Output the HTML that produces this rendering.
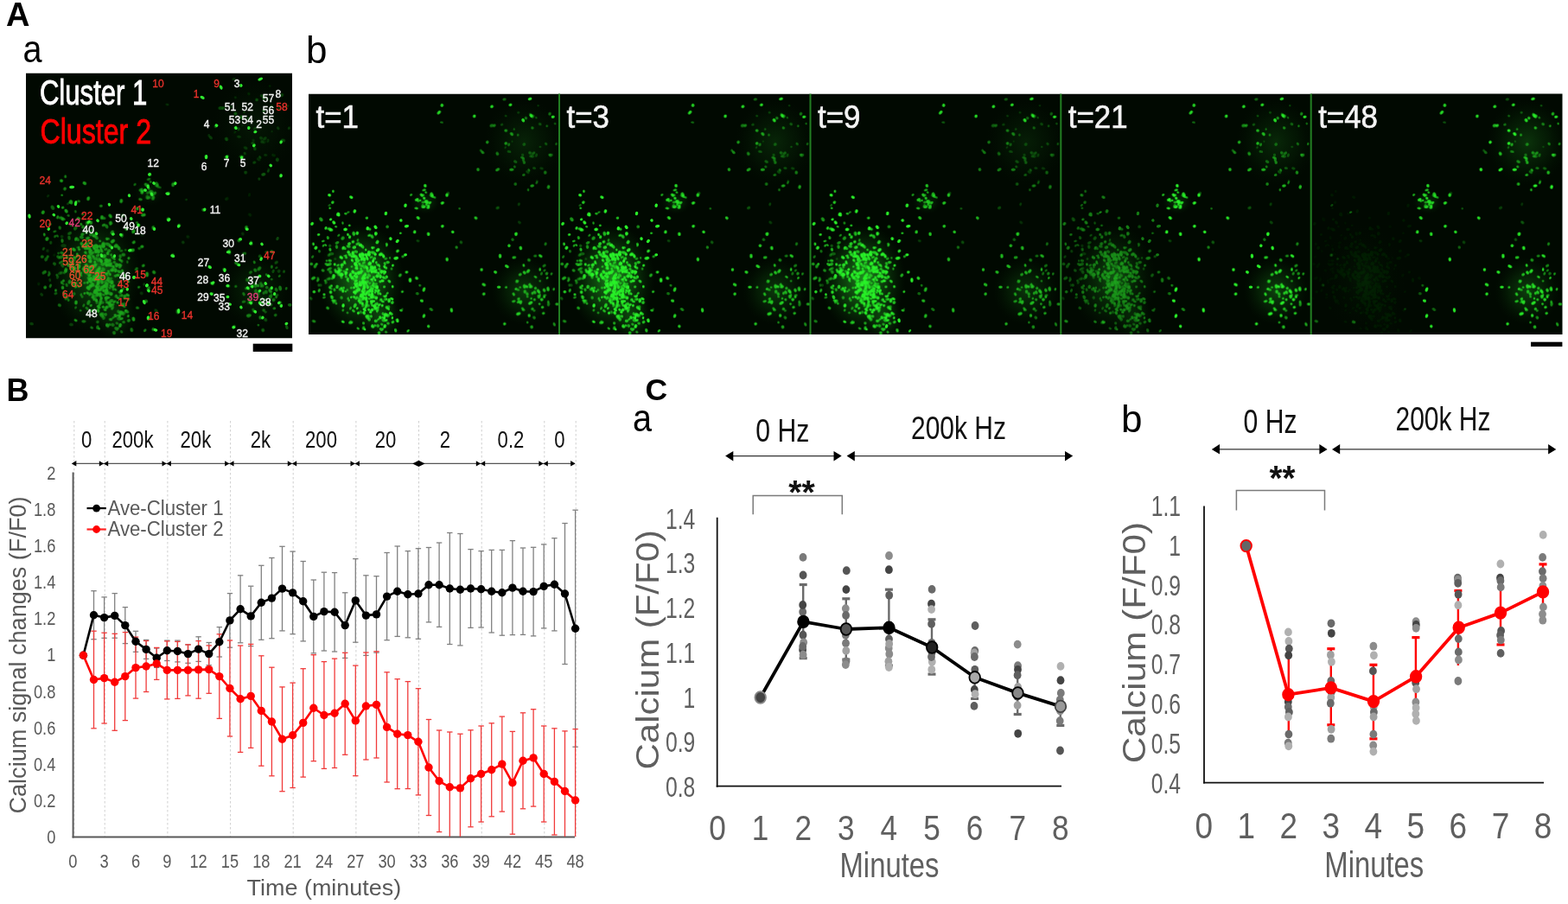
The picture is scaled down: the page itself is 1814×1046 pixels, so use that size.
<!DOCTYPE html>
<html><head><meta charset="utf-8"><title>Figure</title>
<style>html,body{margin:0;padding:0;background:#fff;} body{width:1814px;height:1046px;overflow:hidden;} svg{display:block;font-family:"Liberation Sans",Arial,sans-serif;}</style>
</head><body>
<svg width="1814" height="1046" viewBox="0 0 1814 1046">
<text x="7.0" y="30.0" font-size="38" fill="#000" font-weight="bold">A</text>
<text x="0" y="0" font-size="45" transform="translate(26.6,72.3) scale(0.88,1)">a</text>
<text x="354.0" y="73.3" font-size="44" fill="#000">b</text>
<text x="7.5" y="463.8" font-size="36" fill="#000" font-weight="bold">B</text>
<text x="746.5" y="463.4" font-size="35.5" fill="#000" font-weight="bold">C</text>
<text x="0" y="0" font-size="45" transform="translate(731.9,499.4) scale(0.88,1)">a</text>
<text x="1296.9" y="499.5" font-size="44" fill="#000">b</text>
<line x1="85.8" y1="487" x2="85.8" y2="968" stroke="#cfcfcf" stroke-width="1" stroke-dasharray="2.5,2.5"/>
<line x1="121.2" y1="487" x2="121.2" y2="968" stroke="#cfcfcf" stroke-width="1" stroke-dasharray="2.5,2.5"/>
<line x1="193.9" y1="487" x2="193.9" y2="968" stroke="#cfcfcf" stroke-width="1" stroke-dasharray="2.5,2.5"/>
<line x1="266.6" y1="487" x2="266.6" y2="968" stroke="#cfcfcf" stroke-width="1" stroke-dasharray="2.5,2.5"/>
<line x1="339.2" y1="487" x2="339.2" y2="968" stroke="#cfcfcf" stroke-width="1" stroke-dasharray="2.5,2.5"/>
<line x1="411.9" y1="487" x2="411.9" y2="968" stroke="#cfcfcf" stroke-width="1" stroke-dasharray="2.5,2.5"/>
<line x1="484.5" y1="487" x2="484.5" y2="968" stroke="#cfcfcf" stroke-width="1" stroke-dasharray="2.5,2.5"/>
<line x1="557.2" y1="487" x2="557.2" y2="968" stroke="#cfcfcf" stroke-width="1" stroke-dasharray="2.5,2.5"/>
<line x1="629.8" y1="487" x2="629.8" y2="968" stroke="#cfcfcf" stroke-width="1" stroke-dasharray="2.5,2.5"/>
<line x1="666.2" y1="487" x2="666.2" y2="968" stroke="#cfcfcf" stroke-width="1" stroke-dasharray="2.5,2.5"/>
<line x1="84.6" y1="546.5" x2="84.6" y2="969.5" stroke="#595959" stroke-width="2"/>
<line x1="83.6" y1="968.6" x2="665" y2="968.6" stroke="#595959" stroke-width="2"/>
<line x1="84" y1="536.4" x2="665" y2="536.4" stroke="#555" stroke-width="1.2"/>
<path d="M82.8,536.4 L88.3,533.1 L88.3,539.6 Z" fill="#000"/>
<path d="M665.6,536.4 L660.1,533.1 L660.1,539.6 Z" fill="#000"/>
<path d="M120.0,536.4 L114.8,533.2 L114.8,539.6 Z" fill="#000"/>
<path d="M120.0,536.4 L125.2,533.2 L125.2,539.6 Z" fill="#000"/>
<path d="M192.7,536.4 L187.5,533.2 L187.5,539.6 Z" fill="#000"/>
<path d="M192.7,536.4 L197.9,533.2 L197.9,539.6 Z" fill="#000"/>
<path d="M265.3,536.4 L260.1,533.2 L260.1,539.6 Z" fill="#000"/>
<path d="M265.3,536.4 L270.5,533.2 L270.5,539.6 Z" fill="#000"/>
<path d="M338.0,536.4 L332.8,533.2 L332.8,539.6 Z" fill="#000"/>
<path d="M338.0,536.4 L343.2,533.2 L343.2,539.6 Z" fill="#000"/>
<path d="M410.7,536.4 L405.5,533.2 L405.5,539.6 Z" fill="#000"/>
<path d="M410.7,536.4 L415.9,533.2 L415.9,539.6 Z" fill="#000"/>
<path d="M556.0,536.4 L550.8,533.2 L550.8,539.6 Z" fill="#000"/>
<path d="M556.0,536.4 L561.2,533.2 L561.2,539.6 Z" fill="#000"/>
<path d="M628.6,536.4 L623.4,533.2 L623.4,539.6 Z" fill="#000"/>
<path d="M628.6,536.4 L633.8,533.2 L633.8,539.6 Z" fill="#000"/>
<path d="M477.2,536.4 L484.4,532.8 L491.6,536.4 L484.4,540.0 Z" fill="#000"/>
<text x="100.1" y="518.4" font-size="27" fill="#111" text-anchor="middle" transform="translate(100.1,0) scale(0.82,1) translate(-100.1,0)">0</text>
<text x="153.5" y="518.4" font-size="27" fill="#111" text-anchor="middle" transform="translate(153.5,0) scale(0.82,1) translate(-153.5,0)">200k</text>
<text x="226.4" y="518.4" font-size="27" fill="#111" text-anchor="middle" transform="translate(226.4,0) scale(0.82,1) translate(-226.4,0)">20k</text>
<text x="301.4" y="518.4" font-size="27" fill="#111" text-anchor="middle" transform="translate(301.4,0) scale(0.82,1) translate(-301.4,0)">2k</text>
<text x="371.5" y="518.4" font-size="27" fill="#111" text-anchor="middle" transform="translate(371.5,0) scale(0.82,1) translate(-371.5,0)">200</text>
<text x="446" y="518.4" font-size="27" fill="#111" text-anchor="middle" transform="translate(446,0) scale(0.82,1) translate(-446,0)">20</text>
<text x="515" y="518.4" font-size="27" fill="#111" text-anchor="middle" transform="translate(515,0) scale(0.82,1) translate(-515,0)">2</text>
<text x="591" y="518.4" font-size="27" fill="#111" text-anchor="middle" transform="translate(591,0) scale(0.82,1) translate(-591,0)">0.2</text>
<text x="647.5" y="518.4" font-size="27" fill="#111" text-anchor="middle" transform="translate(647.5,0) scale(0.82,1) translate(-647.5,0)">0</text>
<text x="64.3" y="976.1" font-size="22" fill="#595959" text-anchor="end" transform="translate(64.3,0) scale(0.83,1) translate(-64.3,0)">0</text>
<text x="64.3" y="934.0" font-size="22" fill="#595959" text-anchor="end" transform="translate(64.3,0) scale(0.83,1) translate(-64.3,0)">0.2</text>
<text x="64.3" y="891.9" font-size="22" fill="#595959" text-anchor="end" transform="translate(64.3,0) scale(0.83,1) translate(-64.3,0)">0.4</text>
<text x="64.3" y="849.7" font-size="22" fill="#595959" text-anchor="end" transform="translate(64.3,0) scale(0.83,1) translate(-64.3,0)">0.6</text>
<text x="64.3" y="807.6" font-size="22" fill="#595959" text-anchor="end" transform="translate(64.3,0) scale(0.83,1) translate(-64.3,0)">0.8</text>
<text x="64.3" y="765.5" font-size="22" fill="#595959" text-anchor="end" transform="translate(64.3,0) scale(0.83,1) translate(-64.3,0)">1</text>
<text x="64.3" y="723.4" font-size="22" fill="#595959" text-anchor="end" transform="translate(64.3,0) scale(0.83,1) translate(-64.3,0)">1.2</text>
<text x="64.3" y="681.3" font-size="22" fill="#595959" text-anchor="end" transform="translate(64.3,0) scale(0.83,1) translate(-64.3,0)">1.4</text>
<text x="64.3" y="639.1" font-size="22" fill="#595959" text-anchor="end" transform="translate(64.3,0) scale(0.83,1) translate(-64.3,0)">1.6</text>
<text x="64.3" y="597.0" font-size="22" fill="#595959" text-anchor="end" transform="translate(64.3,0) scale(0.83,1) translate(-64.3,0)">1.8</text>
<text x="64.3" y="554.9" font-size="22" fill="#595959" text-anchor="end" transform="translate(64.3,0) scale(0.83,1) translate(-64.3,0)">2</text>
<text x="84.3" y="1003.6" font-size="22" fill="#595959" text-anchor="middle" transform="translate(84.3,0) scale(0.83,1) translate(-84.3,0)">0</text>
<text x="120.6" y="1003.6" font-size="22" fill="#595959" text-anchor="middle" transform="translate(120.6,0) scale(0.83,1) translate(-120.6,0)">3</text>
<text x="157.0" y="1003.6" font-size="22" fill="#595959" text-anchor="middle" transform="translate(157.0,0) scale(0.83,1) translate(-157.0,0)">6</text>
<text x="193.3" y="1003.6" font-size="22" fill="#595959" text-anchor="middle" transform="translate(193.3,0) scale(0.83,1) translate(-193.3,0)">9</text>
<text x="229.6" y="1003.6" font-size="22" fill="#595959" text-anchor="middle" transform="translate(229.6,0) scale(0.83,1) translate(-229.6,0)">12</text>
<text x="265.9" y="1003.6" font-size="22" fill="#595959" text-anchor="middle" transform="translate(265.9,0) scale(0.83,1) translate(-265.9,0)">15</text>
<text x="302.3" y="1003.6" font-size="22" fill="#595959" text-anchor="middle" transform="translate(302.3,0) scale(0.83,1) translate(-302.3,0)">18</text>
<text x="338.6" y="1003.6" font-size="22" fill="#595959" text-anchor="middle" transform="translate(338.6,0) scale(0.83,1) translate(-338.6,0)">21</text>
<text x="374.9" y="1003.6" font-size="22" fill="#595959" text-anchor="middle" transform="translate(374.9,0) scale(0.83,1) translate(-374.9,0)">24</text>
<text x="411.3" y="1003.6" font-size="22" fill="#595959" text-anchor="middle" transform="translate(411.3,0) scale(0.83,1) translate(-411.3,0)">27</text>
<text x="447.6" y="1003.6" font-size="22" fill="#595959" text-anchor="middle" transform="translate(447.6,0) scale(0.83,1) translate(-447.6,0)">30</text>
<text x="483.9" y="1003.6" font-size="22" fill="#595959" text-anchor="middle" transform="translate(483.9,0) scale(0.83,1) translate(-483.9,0)">33</text>
<text x="520.3" y="1003.6" font-size="22" fill="#595959" text-anchor="middle" transform="translate(520.3,0) scale(0.83,1) translate(-520.3,0)">36</text>
<text x="556.6" y="1003.6" font-size="22" fill="#595959" text-anchor="middle" transform="translate(556.6,0) scale(0.83,1) translate(-556.6,0)">39</text>
<text x="592.9" y="1003.6" font-size="22" fill="#595959" text-anchor="middle" transform="translate(592.9,0) scale(0.83,1) translate(-592.9,0)">42</text>
<text x="629.2" y="1003.6" font-size="22" fill="#595959" text-anchor="middle" transform="translate(629.2,0) scale(0.83,1) translate(-629.2,0)">45</text>
<text x="665.6" y="1003.6" font-size="22" fill="#595959" text-anchor="middle" transform="translate(665.6,0) scale(0.83,1) translate(-665.6,0)">48</text>
<text x="285.6" y="1035.8" font-size="26" fill="#595959" textLength="178.6" lengthAdjust="spacingAndGlyphs">Time (minutes)</text>
<text transform="translate(29.8,941.5) rotate(-90)" x="0" y="0" font-size="27" fill="#595959" textLength="367" lengthAdjust="spacingAndGlyphs">Calcium signal changes (F/F0)</text>
<line x1="108.5" y1="683.7" x2="108.5" y2="739.7" stroke="#808080" stroke-width="1.3"/>
<line x1="105.3" y1="683.7" x2="111.7" y2="683.7" stroke="#808080" stroke-width="1.3"/>
<line x1="105.3" y1="739.7" x2="111.7" y2="739.7" stroke="#808080" stroke-width="1.3"/>
<line x1="120.6" y1="690.9" x2="120.6" y2="738.3" stroke="#808080" stroke-width="1.3"/>
<line x1="117.4" y1="690.9" x2="123.8" y2="690.9" stroke="#808080" stroke-width="1.3"/>
<line x1="117.4" y1="738.3" x2="123.8" y2="738.3" stroke="#808080" stroke-width="1.3"/>
<line x1="132.7" y1="686.6" x2="132.7" y2="738.2" stroke="#808080" stroke-width="1.3"/>
<line x1="129.5" y1="686.6" x2="135.9" y2="686.6" stroke="#808080" stroke-width="1.3"/>
<line x1="129.5" y1="738.2" x2="135.9" y2="738.2" stroke="#808080" stroke-width="1.3"/>
<line x1="144.8" y1="702.6" x2="144.8" y2="744.6" stroke="#808080" stroke-width="1.3"/>
<line x1="141.7" y1="702.6" x2="148.0" y2="702.6" stroke="#808080" stroke-width="1.3"/>
<line x1="141.7" y1="744.6" x2="148.0" y2="744.6" stroke="#808080" stroke-width="1.3"/>
<line x1="157.0" y1="730.3" x2="157.0" y2="754.3" stroke="#808080" stroke-width="1.3"/>
<line x1="153.8" y1="730.3" x2="160.2" y2="730.3" stroke="#808080" stroke-width="1.3"/>
<line x1="153.8" y1="754.3" x2="160.2" y2="754.3" stroke="#808080" stroke-width="1.3"/>
<line x1="169.1" y1="740.4" x2="169.1" y2="762.4" stroke="#808080" stroke-width="1.3"/>
<line x1="165.9" y1="740.4" x2="172.3" y2="740.4" stroke="#808080" stroke-width="1.3"/>
<line x1="165.9" y1="762.4" x2="172.3" y2="762.4" stroke="#808080" stroke-width="1.3"/>
<line x1="181.2" y1="750.0" x2="181.2" y2="772.4" stroke="#808080" stroke-width="1.3"/>
<line x1="178.0" y1="750.0" x2="184.4" y2="750.0" stroke="#808080" stroke-width="1.3"/>
<line x1="178.0" y1="772.4" x2="184.4" y2="772.4" stroke="#808080" stroke-width="1.3"/>
<line x1="193.3" y1="741.1" x2="193.3" y2="764.5" stroke="#808080" stroke-width="1.3"/>
<line x1="190.1" y1="741.1" x2="196.5" y2="741.1" stroke="#808080" stroke-width="1.3"/>
<line x1="190.1" y1="764.5" x2="196.5" y2="764.5" stroke="#808080" stroke-width="1.3"/>
<line x1="205.4" y1="741.1" x2="205.4" y2="765.9" stroke="#808080" stroke-width="1.3"/>
<line x1="202.2" y1="741.1" x2="208.6" y2="741.1" stroke="#808080" stroke-width="1.3"/>
<line x1="202.2" y1="765.9" x2="208.6" y2="765.9" stroke="#808080" stroke-width="1.3"/>
<line x1="217.5" y1="745.9" x2="217.5" y2="767.3" stroke="#808080" stroke-width="1.3"/>
<line x1="214.3" y1="745.9" x2="220.7" y2="745.9" stroke="#808080" stroke-width="1.3"/>
<line x1="214.3" y1="767.3" x2="220.7" y2="767.3" stroke="#808080" stroke-width="1.3"/>
<line x1="229.6" y1="736.8" x2="229.6" y2="765.4" stroke="#808080" stroke-width="1.3"/>
<line x1="226.4" y1="736.8" x2="232.8" y2="736.8" stroke="#808080" stroke-width="1.3"/>
<line x1="226.4" y1="765.4" x2="232.8" y2="765.4" stroke="#808080" stroke-width="1.3"/>
<line x1="241.7" y1="743.5" x2="241.7" y2="769.7" stroke="#808080" stroke-width="1.3"/>
<line x1="238.5" y1="743.5" x2="244.9" y2="743.5" stroke="#808080" stroke-width="1.3"/>
<line x1="238.5" y1="769.7" x2="244.9" y2="769.7" stroke="#808080" stroke-width="1.3"/>
<line x1="253.8" y1="725.6" x2="253.8" y2="760.0" stroke="#808080" stroke-width="1.3"/>
<line x1="250.6" y1="725.6" x2="257.0" y2="725.6" stroke="#808080" stroke-width="1.3"/>
<line x1="250.6" y1="760.0" x2="257.0" y2="760.0" stroke="#808080" stroke-width="1.3"/>
<line x1="265.9" y1="686.6" x2="265.9" y2="749.2" stroke="#808080" stroke-width="1.3"/>
<line x1="262.8" y1="686.6" x2="269.1" y2="686.6" stroke="#808080" stroke-width="1.3"/>
<line x1="262.8" y1="749.2" x2="269.1" y2="749.2" stroke="#808080" stroke-width="1.3"/>
<line x1="278.1" y1="665.8" x2="278.1" y2="743.8" stroke="#808080" stroke-width="1.3"/>
<line x1="274.9" y1="665.8" x2="281.3" y2="665.8" stroke="#808080" stroke-width="1.3"/>
<line x1="274.9" y1="743.8" x2="281.3" y2="743.8" stroke="#808080" stroke-width="1.3"/>
<line x1="290.2" y1="678.2" x2="290.2" y2="747.6" stroke="#808080" stroke-width="1.3"/>
<line x1="287.0" y1="678.2" x2="293.4" y2="678.2" stroke="#808080" stroke-width="1.3"/>
<line x1="287.0" y1="747.6" x2="293.4" y2="747.6" stroke="#808080" stroke-width="1.3"/>
<line x1="302.3" y1="654.3" x2="302.3" y2="740.3" stroke="#808080" stroke-width="1.3"/>
<line x1="299.1" y1="654.3" x2="305.5" y2="654.3" stroke="#808080" stroke-width="1.3"/>
<line x1="299.1" y1="740.3" x2="305.5" y2="740.3" stroke="#808080" stroke-width="1.3"/>
<line x1="314.4" y1="645.5" x2="314.4" y2="738.7" stroke="#808080" stroke-width="1.3"/>
<line x1="311.2" y1="645.5" x2="317.6" y2="645.5" stroke="#808080" stroke-width="1.3"/>
<line x1="311.2" y1="738.7" x2="317.6" y2="738.7" stroke="#808080" stroke-width="1.3"/>
<line x1="326.5" y1="632.3" x2="326.5" y2="729.9" stroke="#808080" stroke-width="1.3"/>
<line x1="323.3" y1="632.3" x2="329.7" y2="632.3" stroke="#808080" stroke-width="1.3"/>
<line x1="323.3" y1="729.9" x2="329.7" y2="729.9" stroke="#808080" stroke-width="1.3"/>
<line x1="338.6" y1="638.1" x2="338.6" y2="733.7" stroke="#808080" stroke-width="1.3"/>
<line x1="335.4" y1="638.1" x2="341.8" y2="638.1" stroke="#808080" stroke-width="1.3"/>
<line x1="335.4" y1="733.7" x2="341.8" y2="733.7" stroke="#808080" stroke-width="1.3"/>
<line x1="350.7" y1="649.5" x2="350.7" y2="741.9" stroke="#808080" stroke-width="1.3"/>
<line x1="347.5" y1="649.5" x2="353.9" y2="649.5" stroke="#808080" stroke-width="1.3"/>
<line x1="347.5" y1="741.9" x2="353.9" y2="741.9" stroke="#808080" stroke-width="1.3"/>
<line x1="362.8" y1="671.0" x2="362.8" y2="755.8" stroke="#808080" stroke-width="1.3"/>
<line x1="359.6" y1="671.0" x2="366.0" y2="671.0" stroke="#808080" stroke-width="1.3"/>
<line x1="359.6" y1="755.8" x2="366.0" y2="755.8" stroke="#808080" stroke-width="1.3"/>
<line x1="374.9" y1="662.2" x2="374.9" y2="753.0" stroke="#808080" stroke-width="1.3"/>
<line x1="371.7" y1="662.2" x2="378.1" y2="662.2" stroke="#808080" stroke-width="1.3"/>
<line x1="371.7" y1="753.0" x2="378.1" y2="753.0" stroke="#808080" stroke-width="1.3"/>
<line x1="387.1" y1="662.6" x2="387.1" y2="754.0" stroke="#808080" stroke-width="1.3"/>
<line x1="383.9" y1="662.6" x2="390.2" y2="662.6" stroke="#808080" stroke-width="1.3"/>
<line x1="383.9" y1="754.0" x2="390.2" y2="754.0" stroke="#808080" stroke-width="1.3"/>
<line x1="399.2" y1="685.8" x2="399.2" y2="761.4" stroke="#808080" stroke-width="1.3"/>
<line x1="396.0" y1="685.8" x2="402.4" y2="685.8" stroke="#808080" stroke-width="1.3"/>
<line x1="396.0" y1="761.4" x2="402.4" y2="761.4" stroke="#808080" stroke-width="1.3"/>
<line x1="411.3" y1="646.6" x2="411.3" y2="743.2" stroke="#808080" stroke-width="1.3"/>
<line x1="408.1" y1="646.6" x2="414.5" y2="646.6" stroke="#808080" stroke-width="1.3"/>
<line x1="408.1" y1="743.2" x2="414.5" y2="743.2" stroke="#808080" stroke-width="1.3"/>
<line x1="423.4" y1="665.8" x2="423.4" y2="758.4" stroke="#808080" stroke-width="1.3"/>
<line x1="420.2" y1="665.8" x2="426.6" y2="665.8" stroke="#808080" stroke-width="1.3"/>
<line x1="420.2" y1="758.4" x2="426.6" y2="758.4" stroke="#808080" stroke-width="1.3"/>
<line x1="435.5" y1="666.7" x2="435.5" y2="755.1" stroke="#808080" stroke-width="1.3"/>
<line x1="432.3" y1="666.7" x2="438.7" y2="666.7" stroke="#808080" stroke-width="1.3"/>
<line x1="432.3" y1="755.1" x2="438.7" y2="755.1" stroke="#808080" stroke-width="1.3"/>
<line x1="447.6" y1="639.5" x2="447.6" y2="740.7" stroke="#808080" stroke-width="1.3"/>
<line x1="444.4" y1="639.5" x2="450.8" y2="639.5" stroke="#808080" stroke-width="1.3"/>
<line x1="444.4" y1="740.7" x2="450.8" y2="740.7" stroke="#808080" stroke-width="1.3"/>
<line x1="459.7" y1="632.0" x2="459.7" y2="736.4" stroke="#808080" stroke-width="1.3"/>
<line x1="456.5" y1="632.0" x2="462.9" y2="632.0" stroke="#808080" stroke-width="1.3"/>
<line x1="456.5" y1="736.4" x2="462.9" y2="736.4" stroke="#808080" stroke-width="1.3"/>
<line x1="471.8" y1="637.6" x2="471.8" y2="737.8" stroke="#808080" stroke-width="1.3"/>
<line x1="468.6" y1="637.6" x2="475.0" y2="637.6" stroke="#808080" stroke-width="1.3"/>
<line x1="468.6" y1="737.8" x2="475.0" y2="737.8" stroke="#808080" stroke-width="1.3"/>
<line x1="483.9" y1="634.7" x2="483.9" y2="739.3" stroke="#808080" stroke-width="1.3"/>
<line x1="480.7" y1="634.7" x2="487.1" y2="634.7" stroke="#808080" stroke-width="1.3"/>
<line x1="480.7" y1="739.3" x2="487.1" y2="739.3" stroke="#808080" stroke-width="1.3"/>
<line x1="496.0" y1="633.5" x2="496.0" y2="719.9" stroke="#808080" stroke-width="1.3"/>
<line x1="492.8" y1="633.5" x2="499.2" y2="633.5" stroke="#808080" stroke-width="1.3"/>
<line x1="492.8" y1="719.9" x2="499.2" y2="719.9" stroke="#808080" stroke-width="1.3"/>
<line x1="508.1" y1="628.0" x2="508.1" y2="725.4" stroke="#808080" stroke-width="1.3"/>
<line x1="504.9" y1="628.0" x2="511.3" y2="628.0" stroke="#808080" stroke-width="1.3"/>
<line x1="504.9" y1="725.4" x2="511.3" y2="725.4" stroke="#808080" stroke-width="1.3"/>
<line x1="520.3" y1="616.5" x2="520.3" y2="745.5" stroke="#808080" stroke-width="1.3"/>
<line x1="517.1" y1="616.5" x2="523.5" y2="616.5" stroke="#808080" stroke-width="1.3"/>
<line x1="517.1" y1="745.5" x2="523.5" y2="745.5" stroke="#808080" stroke-width="1.3"/>
<line x1="532.4" y1="617.5" x2="532.4" y2="746.9" stroke="#808080" stroke-width="1.3"/>
<line x1="529.2" y1="617.5" x2="535.6" y2="617.5" stroke="#808080" stroke-width="1.3"/>
<line x1="529.2" y1="746.9" x2="535.6" y2="746.9" stroke="#808080" stroke-width="1.3"/>
<line x1="544.5" y1="635.6" x2="544.5" y2="726.4" stroke="#808080" stroke-width="1.3"/>
<line x1="541.3" y1="635.6" x2="547.7" y2="635.6" stroke="#808080" stroke-width="1.3"/>
<line x1="541.3" y1="726.4" x2="547.7" y2="726.4" stroke="#808080" stroke-width="1.3"/>
<line x1="556.6" y1="637.6" x2="556.6" y2="726.0" stroke="#808080" stroke-width="1.3"/>
<line x1="553.4" y1="637.6" x2="559.8" y2="637.6" stroke="#808080" stroke-width="1.3"/>
<line x1="553.4" y1="726.0" x2="559.8" y2="726.0" stroke="#808080" stroke-width="1.3"/>
<line x1="568.7" y1="636.4" x2="568.7" y2="732.0" stroke="#808080" stroke-width="1.3"/>
<line x1="565.5" y1="636.4" x2="571.9" y2="636.4" stroke="#808080" stroke-width="1.3"/>
<line x1="565.5" y1="732.0" x2="571.9" y2="732.0" stroke="#808080" stroke-width="1.3"/>
<line x1="580.8" y1="636.4" x2="580.8" y2="735.2" stroke="#808080" stroke-width="1.3"/>
<line x1="577.6" y1="636.4" x2="584.0" y2="636.4" stroke="#808080" stroke-width="1.3"/>
<line x1="577.6" y1="735.2" x2="584.0" y2="735.2" stroke="#808080" stroke-width="1.3"/>
<line x1="592.9" y1="625.6" x2="592.9" y2="734.6" stroke="#808080" stroke-width="1.3"/>
<line x1="589.7" y1="625.6" x2="596.1" y2="625.6" stroke="#808080" stroke-width="1.3"/>
<line x1="589.7" y1="734.6" x2="596.1" y2="734.6" stroke="#808080" stroke-width="1.3"/>
<line x1="605.0" y1="634.0" x2="605.0" y2="734.4" stroke="#808080" stroke-width="1.3"/>
<line x1="601.8" y1="634.0" x2="608.2" y2="634.0" stroke="#808080" stroke-width="1.3"/>
<line x1="601.8" y1="734.4" x2="608.2" y2="734.4" stroke="#808080" stroke-width="1.3"/>
<line x1="617.1" y1="633.3" x2="617.1" y2="735.9" stroke="#808080" stroke-width="1.3"/>
<line x1="613.9" y1="633.3" x2="620.3" y2="633.3" stroke="#808080" stroke-width="1.3"/>
<line x1="613.9" y1="735.9" x2="620.3" y2="735.9" stroke="#808080" stroke-width="1.3"/>
<line x1="629.2" y1="629.9" x2="629.2" y2="726.9" stroke="#808080" stroke-width="1.3"/>
<line x1="626.0" y1="629.9" x2="632.4" y2="629.9" stroke="#808080" stroke-width="1.3"/>
<line x1="626.0" y1="726.9" x2="632.4" y2="726.9" stroke="#808080" stroke-width="1.3"/>
<line x1="641.4" y1="622.7" x2="641.4" y2="729.9" stroke="#808080" stroke-width="1.3"/>
<line x1="638.2" y1="622.7" x2="644.6" y2="622.7" stroke="#808080" stroke-width="1.3"/>
<line x1="638.2" y1="729.9" x2="644.6" y2="729.9" stroke="#808080" stroke-width="1.3"/>
<line x1="653.5" y1="605.5" x2="653.5" y2="768.5" stroke="#808080" stroke-width="1.3"/>
<line x1="650.3" y1="605.5" x2="656.7" y2="605.5" stroke="#808080" stroke-width="1.3"/>
<line x1="650.3" y1="768.5" x2="656.7" y2="768.5" stroke="#808080" stroke-width="1.3"/>
<line x1="665.6" y1="590.2" x2="665.6" y2="864.2" stroke="#808080" stroke-width="1.3"/>
<line x1="662.4" y1="590.2" x2="668.8" y2="590.2" stroke="#808080" stroke-width="1.3"/>
<line x1="662.4" y1="864.2" x2="668.8" y2="864.2" stroke="#808080" stroke-width="1.3"/>
<line x1="108.5" y1="730.2" x2="108.5" y2="842.8" stroke="#f03a3a" stroke-width="1.3"/>
<line x1="105.3" y1="730.2" x2="111.7" y2="730.2" stroke="#f03a3a" stroke-width="1.3"/>
<line x1="105.3" y1="842.8" x2="111.7" y2="842.8" stroke="#f03a3a" stroke-width="1.3"/>
<line x1="120.6" y1="732.2" x2="120.6" y2="837.0" stroke="#f03a3a" stroke-width="1.3"/>
<line x1="117.4" y1="732.2" x2="123.8" y2="732.2" stroke="#f03a3a" stroke-width="1.3"/>
<line x1="117.4" y1="837.0" x2="123.8" y2="837.0" stroke="#f03a3a" stroke-width="1.3"/>
<line x1="132.7" y1="733.3" x2="132.7" y2="845.3" stroke="#f03a3a" stroke-width="1.3"/>
<line x1="129.5" y1="733.3" x2="135.9" y2="733.3" stroke="#f03a3a" stroke-width="1.3"/>
<line x1="129.5" y1="845.3" x2="135.9" y2="845.3" stroke="#f03a3a" stroke-width="1.3"/>
<line x1="144.8" y1="731.6" x2="144.8" y2="833.6" stroke="#f03a3a" stroke-width="1.3"/>
<line x1="141.7" y1="731.6" x2="148.0" y2="731.6" stroke="#f03a3a" stroke-width="1.3"/>
<line x1="141.7" y1="833.6" x2="148.0" y2="833.6" stroke="#f03a3a" stroke-width="1.3"/>
<line x1="157.0" y1="737.1" x2="157.0" y2="808.1" stroke="#f03a3a" stroke-width="1.3"/>
<line x1="153.8" y1="737.1" x2="160.2" y2="737.1" stroke="#f03a3a" stroke-width="1.3"/>
<line x1="153.8" y1="808.1" x2="160.2" y2="808.1" stroke="#f03a3a" stroke-width="1.3"/>
<line x1="169.1" y1="741.5" x2="169.1" y2="800.5" stroke="#f03a3a" stroke-width="1.3"/>
<line x1="165.9" y1="741.5" x2="172.3" y2="741.5" stroke="#f03a3a" stroke-width="1.3"/>
<line x1="165.9" y1="800.5" x2="172.3" y2="800.5" stroke="#f03a3a" stroke-width="1.3"/>
<line x1="181.2" y1="749.4" x2="181.2" y2="786.4" stroke="#f03a3a" stroke-width="1.3"/>
<line x1="178.0" y1="749.4" x2="184.4" y2="749.4" stroke="#f03a3a" stroke-width="1.3"/>
<line x1="178.0" y1="786.4" x2="184.4" y2="786.4" stroke="#f03a3a" stroke-width="1.3"/>
<line x1="193.3" y1="741.9" x2="193.3" y2="808.9" stroke="#f03a3a" stroke-width="1.3"/>
<line x1="190.1" y1="741.9" x2="196.5" y2="741.9" stroke="#f03a3a" stroke-width="1.3"/>
<line x1="190.1" y1="808.9" x2="196.5" y2="808.9" stroke="#f03a3a" stroke-width="1.3"/>
<line x1="205.4" y1="742.4" x2="205.4" y2="808.4" stroke="#f03a3a" stroke-width="1.3"/>
<line x1="202.2" y1="742.4" x2="208.6" y2="742.4" stroke="#f03a3a" stroke-width="1.3"/>
<line x1="202.2" y1="808.4" x2="208.6" y2="808.4" stroke="#f03a3a" stroke-width="1.3"/>
<line x1="217.5" y1="745.9" x2="217.5" y2="804.9" stroke="#f03a3a" stroke-width="1.3"/>
<line x1="214.3" y1="745.9" x2="220.7" y2="745.9" stroke="#f03a3a" stroke-width="1.3"/>
<line x1="214.3" y1="804.9" x2="220.7" y2="804.9" stroke="#f03a3a" stroke-width="1.3"/>
<line x1="229.6" y1="741.6" x2="229.6" y2="808.2" stroke="#f03a3a" stroke-width="1.3"/>
<line x1="226.4" y1="741.6" x2="232.8" y2="741.6" stroke="#f03a3a" stroke-width="1.3"/>
<line x1="226.4" y1="808.2" x2="232.8" y2="808.2" stroke="#f03a3a" stroke-width="1.3"/>
<line x1="241.7" y1="746.9" x2="241.7" y2="802.3" stroke="#f03a3a" stroke-width="1.3"/>
<line x1="238.5" y1="746.9" x2="244.9" y2="746.9" stroke="#f03a3a" stroke-width="1.3"/>
<line x1="238.5" y1="802.3" x2="244.9" y2="802.3" stroke="#f03a3a" stroke-width="1.3"/>
<line x1="253.8" y1="733.8" x2="253.8" y2="831.4" stroke="#f03a3a" stroke-width="1.3"/>
<line x1="250.6" y1="733.8" x2="257.0" y2="733.8" stroke="#f03a3a" stroke-width="1.3"/>
<line x1="250.6" y1="831.4" x2="257.0" y2="831.4" stroke="#f03a3a" stroke-width="1.3"/>
<line x1="265.9" y1="741.0" x2="265.9" y2="852.0" stroke="#f03a3a" stroke-width="1.3"/>
<line x1="262.8" y1="741.0" x2="269.1" y2="741.0" stroke="#f03a3a" stroke-width="1.3"/>
<line x1="262.8" y1="852.0" x2="269.1" y2="852.0" stroke="#f03a3a" stroke-width="1.3"/>
<line x1="278.1" y1="747.0" x2="278.1" y2="870.4" stroke="#f03a3a" stroke-width="1.3"/>
<line x1="274.9" y1="747.0" x2="281.3" y2="747.0" stroke="#f03a3a" stroke-width="1.3"/>
<line x1="274.9" y1="870.4" x2="281.3" y2="870.4" stroke="#f03a3a" stroke-width="1.3"/>
<line x1="290.2" y1="745.4" x2="290.2" y2="865.4" stroke="#f03a3a" stroke-width="1.3"/>
<line x1="287.0" y1="745.4" x2="293.4" y2="745.4" stroke="#f03a3a" stroke-width="1.3"/>
<line x1="287.0" y1="865.4" x2="293.4" y2="865.4" stroke="#f03a3a" stroke-width="1.3"/>
<line x1="302.3" y1="758.8" x2="302.3" y2="886.2" stroke="#f03a3a" stroke-width="1.3"/>
<line x1="299.1" y1="758.8" x2="305.5" y2="758.8" stroke="#f03a3a" stroke-width="1.3"/>
<line x1="299.1" y1="886.2" x2="305.5" y2="886.2" stroke="#f03a3a" stroke-width="1.3"/>
<line x1="314.4" y1="772.2" x2="314.4" y2="897.8" stroke="#f03a3a" stroke-width="1.3"/>
<line x1="311.2" y1="772.2" x2="317.6" y2="772.2" stroke="#f03a3a" stroke-width="1.3"/>
<line x1="311.2" y1="897.8" x2="317.6" y2="897.8" stroke="#f03a3a" stroke-width="1.3"/>
<line x1="326.5" y1="794.9" x2="326.5" y2="915.7" stroke="#f03a3a" stroke-width="1.3"/>
<line x1="323.3" y1="794.9" x2="329.7" y2="794.9" stroke="#f03a3a" stroke-width="1.3"/>
<line x1="323.3" y1="915.7" x2="329.7" y2="915.7" stroke="#f03a3a" stroke-width="1.3"/>
<line x1="338.6" y1="790.1" x2="338.6" y2="911.5" stroke="#f03a3a" stroke-width="1.3"/>
<line x1="335.4" y1="790.1" x2="341.8" y2="790.1" stroke="#f03a3a" stroke-width="1.3"/>
<line x1="335.4" y1="911.5" x2="341.8" y2="911.5" stroke="#f03a3a" stroke-width="1.3"/>
<line x1="350.7" y1="773.7" x2="350.7" y2="899.1" stroke="#f03a3a" stroke-width="1.3"/>
<line x1="347.5" y1="773.7" x2="353.9" y2="773.7" stroke="#f03a3a" stroke-width="1.3"/>
<line x1="347.5" y1="899.1" x2="353.9" y2="899.1" stroke="#f03a3a" stroke-width="1.3"/>
<line x1="362.8" y1="757.7" x2="362.8" y2="880.7" stroke="#f03a3a" stroke-width="1.3"/>
<line x1="359.6" y1="757.7" x2="366.0" y2="757.7" stroke="#f03a3a" stroke-width="1.3"/>
<line x1="359.6" y1="880.7" x2="366.0" y2="880.7" stroke="#f03a3a" stroke-width="1.3"/>
<line x1="374.9" y1="765.6" x2="374.9" y2="889.4" stroke="#f03a3a" stroke-width="1.3"/>
<line x1="371.7" y1="765.6" x2="378.1" y2="765.6" stroke="#f03a3a" stroke-width="1.3"/>
<line x1="371.7" y1="889.4" x2="378.1" y2="889.4" stroke="#f03a3a" stroke-width="1.3"/>
<line x1="387.1" y1="762.1" x2="387.1" y2="888.5" stroke="#f03a3a" stroke-width="1.3"/>
<line x1="383.9" y1="762.1" x2="390.2" y2="762.1" stroke="#f03a3a" stroke-width="1.3"/>
<line x1="383.9" y1="888.5" x2="390.2" y2="888.5" stroke="#f03a3a" stroke-width="1.3"/>
<line x1="399.2" y1="755.3" x2="399.2" y2="873.3" stroke="#f03a3a" stroke-width="1.3"/>
<line x1="396.0" y1="755.3" x2="402.4" y2="755.3" stroke="#f03a3a" stroke-width="1.3"/>
<line x1="396.0" y1="873.3" x2="402.4" y2="873.3" stroke="#f03a3a" stroke-width="1.3"/>
<line x1="411.3" y1="770.1" x2="411.3" y2="897.7" stroke="#f03a3a" stroke-width="1.3"/>
<line x1="408.1" y1="770.1" x2="414.5" y2="770.1" stroke="#f03a3a" stroke-width="1.3"/>
<line x1="408.1" y1="897.7" x2="414.5" y2="897.7" stroke="#f03a3a" stroke-width="1.3"/>
<line x1="423.4" y1="755.0" x2="423.4" y2="879.0" stroke="#f03a3a" stroke-width="1.3"/>
<line x1="420.2" y1="755.0" x2="426.6" y2="755.0" stroke="#f03a3a" stroke-width="1.3"/>
<line x1="420.2" y1="879.0" x2="426.6" y2="879.0" stroke="#f03a3a" stroke-width="1.3"/>
<line x1="435.5" y1="753.8" x2="435.5" y2="877.0" stroke="#f03a3a" stroke-width="1.3"/>
<line x1="432.3" y1="753.8" x2="438.7" y2="753.8" stroke="#f03a3a" stroke-width="1.3"/>
<line x1="432.3" y1="877.0" x2="438.7" y2="877.0" stroke="#f03a3a" stroke-width="1.3"/>
<line x1="447.6" y1="777.8" x2="447.6" y2="905.0" stroke="#f03a3a" stroke-width="1.3"/>
<line x1="444.4" y1="777.8" x2="450.8" y2="777.8" stroke="#f03a3a" stroke-width="1.3"/>
<line x1="444.4" y1="905.0" x2="450.8" y2="905.0" stroke="#f03a3a" stroke-width="1.3"/>
<line x1="459.7" y1="785.7" x2="459.7" y2="912.7" stroke="#f03a3a" stroke-width="1.3"/>
<line x1="456.5" y1="785.7" x2="462.9" y2="785.7" stroke="#f03a3a" stroke-width="1.3"/>
<line x1="456.5" y1="912.7" x2="462.9" y2="912.7" stroke="#f03a3a" stroke-width="1.3"/>
<line x1="471.8" y1="788.6" x2="471.8" y2="912.6" stroke="#f03a3a" stroke-width="1.3"/>
<line x1="468.6" y1="788.6" x2="475.0" y2="788.6" stroke="#f03a3a" stroke-width="1.3"/>
<line x1="468.6" y1="912.6" x2="475.0" y2="912.6" stroke="#f03a3a" stroke-width="1.3"/>
<line x1="483.9" y1="796.7" x2="483.9" y2="919.9" stroke="#f03a3a" stroke-width="1.3"/>
<line x1="480.7" y1="796.7" x2="487.1" y2="796.7" stroke="#f03a3a" stroke-width="1.3"/>
<line x1="480.7" y1="919.9" x2="487.1" y2="919.9" stroke="#f03a3a" stroke-width="1.3"/>
<line x1="496.0" y1="832.5" x2="496.0" y2="943.5" stroke="#f03a3a" stroke-width="1.3"/>
<line x1="492.8" y1="832.5" x2="499.2" y2="832.5" stroke="#f03a3a" stroke-width="1.3"/>
<line x1="492.8" y1="943.5" x2="499.2" y2="943.5" stroke="#f03a3a" stroke-width="1.3"/>
<line x1="508.1" y1="845.0" x2="508.1" y2="962.6" stroke="#f03a3a" stroke-width="1.3"/>
<line x1="504.9" y1="845.0" x2="511.3" y2="845.0" stroke="#f03a3a" stroke-width="1.3"/>
<line x1="504.9" y1="962.6" x2="511.3" y2="962.6" stroke="#f03a3a" stroke-width="1.3"/>
<line x1="520.3" y1="847.0" x2="520.3" y2="968.0" stroke="#f03a3a" stroke-width="1.3"/>
<line x1="517.1" y1="847.0" x2="523.5" y2="847.0" stroke="#f03a3a" stroke-width="1.3"/>
<line x1="532.4" y1="849.2" x2="532.4" y2="968.0" stroke="#f03a3a" stroke-width="1.3"/>
<line x1="529.2" y1="849.2" x2="535.6" y2="849.2" stroke="#f03a3a" stroke-width="1.3"/>
<line x1="544.5" y1="844.8" x2="544.5" y2="956.8" stroke="#f03a3a" stroke-width="1.3"/>
<line x1="541.3" y1="844.8" x2="547.7" y2="844.8" stroke="#f03a3a" stroke-width="1.3"/>
<line x1="541.3" y1="956.8" x2="547.7" y2="956.8" stroke="#f03a3a" stroke-width="1.3"/>
<line x1="556.6" y1="840.0" x2="556.6" y2="951.0" stroke="#f03a3a" stroke-width="1.3"/>
<line x1="553.4" y1="840.0" x2="559.8" y2="840.0" stroke="#f03a3a" stroke-width="1.3"/>
<line x1="553.4" y1="951.0" x2="559.8" y2="951.0" stroke="#f03a3a" stroke-width="1.3"/>
<line x1="568.7" y1="836.8" x2="568.7" y2="944.8" stroke="#f03a3a" stroke-width="1.3"/>
<line x1="565.5" y1="836.8" x2="571.9" y2="836.8" stroke="#f03a3a" stroke-width="1.3"/>
<line x1="565.5" y1="944.8" x2="571.9" y2="944.8" stroke="#f03a3a" stroke-width="1.3"/>
<line x1="580.8" y1="829.1" x2="580.8" y2="939.1" stroke="#f03a3a" stroke-width="1.3"/>
<line x1="577.6" y1="829.1" x2="584.0" y2="829.1" stroke="#f03a3a" stroke-width="1.3"/>
<line x1="577.6" y1="939.1" x2="584.0" y2="939.1" stroke="#f03a3a" stroke-width="1.3"/>
<line x1="592.9" y1="846.4" x2="592.9" y2="965.2" stroke="#f03a3a" stroke-width="1.3"/>
<line x1="589.7" y1="846.4" x2="596.1" y2="846.4" stroke="#f03a3a" stroke-width="1.3"/>
<line x1="589.7" y1="965.2" x2="596.1" y2="965.2" stroke="#f03a3a" stroke-width="1.3"/>
<line x1="605.0" y1="824.8" x2="605.0" y2="935.8" stroke="#f03a3a" stroke-width="1.3"/>
<line x1="601.8" y1="824.8" x2="608.2" y2="824.8" stroke="#f03a3a" stroke-width="1.3"/>
<line x1="601.8" y1="935.8" x2="608.2" y2="935.8" stroke="#f03a3a" stroke-width="1.3"/>
<line x1="617.1" y1="820.7" x2="617.1" y2="933.1" stroke="#f03a3a" stroke-width="1.3"/>
<line x1="613.9" y1="820.7" x2="620.3" y2="820.7" stroke="#f03a3a" stroke-width="1.3"/>
<line x1="613.9" y1="933.1" x2="620.3" y2="933.1" stroke="#f03a3a" stroke-width="1.3"/>
<line x1="629.2" y1="840.0" x2="629.2" y2="951.0" stroke="#f03a3a" stroke-width="1.3"/>
<line x1="626.0" y1="840.0" x2="632.4" y2="840.0" stroke="#f03a3a" stroke-width="1.3"/>
<line x1="626.0" y1="951.0" x2="632.4" y2="951.0" stroke="#f03a3a" stroke-width="1.3"/>
<line x1="641.4" y1="842.8" x2="641.4" y2="966.0" stroke="#f03a3a" stroke-width="1.3"/>
<line x1="638.2" y1="842.8" x2="644.6" y2="842.8" stroke="#f03a3a" stroke-width="1.3"/>
<line x1="638.2" y1="966.0" x2="644.6" y2="966.0" stroke="#f03a3a" stroke-width="1.3"/>
<line x1="653.5" y1="845.9" x2="653.5" y2="968.0" stroke="#f03a3a" stroke-width="1.3"/>
<line x1="650.3" y1="845.9" x2="656.7" y2="845.9" stroke="#f03a3a" stroke-width="1.3"/>
<line x1="665.6" y1="843.6" x2="665.6" y2="968.0" stroke="#f03a3a" stroke-width="1.3"/>
<line x1="662.4" y1="843.6" x2="668.8" y2="843.6" stroke="#f03a3a" stroke-width="1.3"/>
<polyline points="96.4,758.3 108.5,711.7 120.6,714.6 132.7,712.4 144.8,723.6 157.0,742.3 169.1,751.4 181.2,761.2 193.3,752.8 205.4,753.5 217.5,756.6 229.6,751.1 241.7,756.6 253.8,742.8 265.9,717.9 278.1,704.8 290.2,712.9 302.3,697.3 314.4,692.1 326.5,681.1 338.6,685.9 350.7,695.7 362.8,713.4 374.9,707.6 387.1,708.3 399.2,723.6 411.3,694.9 423.4,712.1 435.5,710.9 447.6,690.1 459.7,684.2 471.8,687.7 483.9,687.0 496.0,676.7 508.1,676.7 520.3,681.0 532.4,682.2 544.5,681.0 556.6,681.8 568.7,684.2 580.8,685.8 592.9,680.1 605.0,684.2 617.1,684.6 629.2,678.4 641.4,676.3 653.5,687.0 665.6,727.2" fill="none" stroke="#000" stroke-width="2.6" stroke-linejoin="round"/>
<circle cx="96.4" cy="758.3" r="4.7" fill="#000"/>
<circle cx="108.5" cy="711.7" r="4.7" fill="#000"/>
<circle cx="120.6" cy="714.6" r="4.7" fill="#000"/>
<circle cx="132.7" cy="712.4" r="4.7" fill="#000"/>
<circle cx="144.8" cy="723.6" r="4.7" fill="#000"/>
<circle cx="157.0" cy="742.3" r="4.7" fill="#000"/>
<circle cx="169.1" cy="751.4" r="4.7" fill="#000"/>
<circle cx="181.2" cy="761.2" r="4.7" fill="#000"/>
<circle cx="193.3" cy="752.8" r="4.7" fill="#000"/>
<circle cx="205.4" cy="753.5" r="4.7" fill="#000"/>
<circle cx="217.5" cy="756.6" r="4.7" fill="#000"/>
<circle cx="229.6" cy="751.1" r="4.7" fill="#000"/>
<circle cx="241.7" cy="756.6" r="4.7" fill="#000"/>
<circle cx="253.8" cy="742.8" r="4.7" fill="#000"/>
<circle cx="265.9" cy="717.9" r="4.7" fill="#000"/>
<circle cx="278.1" cy="704.8" r="4.7" fill="#000"/>
<circle cx="290.2" cy="712.9" r="4.7" fill="#000"/>
<circle cx="302.3" cy="697.3" r="4.7" fill="#000"/>
<circle cx="314.4" cy="692.1" r="4.7" fill="#000"/>
<circle cx="326.5" cy="681.1" r="4.7" fill="#000"/>
<circle cx="338.6" cy="685.9" r="4.7" fill="#000"/>
<circle cx="350.7" cy="695.7" r="4.7" fill="#000"/>
<circle cx="362.8" cy="713.4" r="4.7" fill="#000"/>
<circle cx="374.9" cy="707.6" r="4.7" fill="#000"/>
<circle cx="387.1" cy="708.3" r="4.7" fill="#000"/>
<circle cx="399.2" cy="723.6" r="4.7" fill="#000"/>
<circle cx="411.3" cy="694.9" r="4.7" fill="#000"/>
<circle cx="423.4" cy="712.1" r="4.7" fill="#000"/>
<circle cx="435.5" cy="710.9" r="4.7" fill="#000"/>
<circle cx="447.6" cy="690.1" r="4.7" fill="#000"/>
<circle cx="459.7" cy="684.2" r="4.7" fill="#000"/>
<circle cx="471.8" cy="687.7" r="4.7" fill="#000"/>
<circle cx="483.9" cy="687.0" r="4.7" fill="#000"/>
<circle cx="496.0" cy="676.7" r="4.7" fill="#000"/>
<circle cx="508.1" cy="676.7" r="4.7" fill="#000"/>
<circle cx="520.3" cy="681.0" r="4.7" fill="#000"/>
<circle cx="532.4" cy="682.2" r="4.7" fill="#000"/>
<circle cx="544.5" cy="681.0" r="4.7" fill="#000"/>
<circle cx="556.6" cy="681.8" r="4.7" fill="#000"/>
<circle cx="568.7" cy="684.2" r="4.7" fill="#000"/>
<circle cx="580.8" cy="685.8" r="4.7" fill="#000"/>
<circle cx="592.9" cy="680.1" r="4.7" fill="#000"/>
<circle cx="605.0" cy="684.2" r="4.7" fill="#000"/>
<circle cx="617.1" cy="684.6" r="4.7" fill="#000"/>
<circle cx="629.2" cy="678.4" r="4.7" fill="#000"/>
<circle cx="641.4" cy="676.3" r="4.7" fill="#000"/>
<circle cx="653.5" cy="687.0" r="4.7" fill="#000"/>
<circle cx="665.6" cy="727.2" r="4.7" fill="#000"/>
<polyline points="96.4,758.2 108.5,786.5 120.6,784.6 132.7,789.3 144.8,782.6 157.0,772.6 169.1,771.0 181.2,767.9 193.3,775.4 205.4,775.4 217.5,775.4 229.6,774.9 241.7,774.6 253.8,782.6 265.9,796.5 278.1,808.7 290.2,805.4 302.3,822.5 314.4,835.0 326.5,855.3 338.6,850.8 350.7,836.4 362.8,819.2 374.9,827.5 387.1,825.3 399.2,814.3 411.3,833.9 423.4,817.0 435.5,815.4 447.6,841.4 459.7,849.2 471.8,850.6 483.9,858.3 496.0,888.0 508.1,903.8 520.3,910.8 532.4,911.9 544.5,900.8 556.6,895.5 568.7,890.8 580.8,884.1 592.9,905.8 605.0,880.3 617.1,876.9 629.2,895.5 641.4,904.4 653.5,915.5 665.6,926.0" fill="none" stroke="#f00" stroke-width="2.6" stroke-linejoin="round"/>
<circle cx="96.4" cy="758.2" r="4.7" fill="#f00"/>
<circle cx="108.5" cy="786.5" r="4.7" fill="#f00"/>
<circle cx="120.6" cy="784.6" r="4.7" fill="#f00"/>
<circle cx="132.7" cy="789.3" r="4.7" fill="#f00"/>
<circle cx="144.8" cy="782.6" r="4.7" fill="#f00"/>
<circle cx="157.0" cy="772.6" r="4.7" fill="#f00"/>
<circle cx="169.1" cy="771.0" r="4.7" fill="#f00"/>
<circle cx="181.2" cy="767.9" r="4.7" fill="#f00"/>
<circle cx="193.3" cy="775.4" r="4.7" fill="#f00"/>
<circle cx="205.4" cy="775.4" r="4.7" fill="#f00"/>
<circle cx="217.5" cy="775.4" r="4.7" fill="#f00"/>
<circle cx="229.6" cy="774.9" r="4.7" fill="#f00"/>
<circle cx="241.7" cy="774.6" r="4.7" fill="#f00"/>
<circle cx="253.8" cy="782.6" r="4.7" fill="#f00"/>
<circle cx="265.9" cy="796.5" r="4.7" fill="#f00"/>
<circle cx="278.1" cy="808.7" r="4.7" fill="#f00"/>
<circle cx="290.2" cy="805.4" r="4.7" fill="#f00"/>
<circle cx="302.3" cy="822.5" r="4.7" fill="#f00"/>
<circle cx="314.4" cy="835.0" r="4.7" fill="#f00"/>
<circle cx="326.5" cy="855.3" r="4.7" fill="#f00"/>
<circle cx="338.6" cy="850.8" r="4.7" fill="#f00"/>
<circle cx="350.7" cy="836.4" r="4.7" fill="#f00"/>
<circle cx="362.8" cy="819.2" r="4.7" fill="#f00"/>
<circle cx="374.9" cy="827.5" r="4.7" fill="#f00"/>
<circle cx="387.1" cy="825.3" r="4.7" fill="#f00"/>
<circle cx="399.2" cy="814.3" r="4.7" fill="#f00"/>
<circle cx="411.3" cy="833.9" r="4.7" fill="#f00"/>
<circle cx="423.4" cy="817.0" r="4.7" fill="#f00"/>
<circle cx="435.5" cy="815.4" r="4.7" fill="#f00"/>
<circle cx="447.6" cy="841.4" r="4.7" fill="#f00"/>
<circle cx="459.7" cy="849.2" r="4.7" fill="#f00"/>
<circle cx="471.8" cy="850.6" r="4.7" fill="#f00"/>
<circle cx="483.9" cy="858.3" r="4.7" fill="#f00"/>
<circle cx="496.0" cy="888.0" r="4.7" fill="#f00"/>
<circle cx="508.1" cy="903.8" r="4.7" fill="#f00"/>
<circle cx="520.3" cy="910.8" r="4.7" fill="#f00"/>
<circle cx="532.4" cy="911.9" r="4.7" fill="#f00"/>
<circle cx="544.5" cy="900.8" r="4.7" fill="#f00"/>
<circle cx="556.6" cy="895.5" r="4.7" fill="#f00"/>
<circle cx="568.7" cy="890.8" r="4.7" fill="#f00"/>
<circle cx="580.8" cy="884.1" r="4.7" fill="#f00"/>
<circle cx="592.9" cy="905.8" r="4.7" fill="#f00"/>
<circle cx="605.0" cy="880.3" r="4.7" fill="#f00"/>
<circle cx="617.1" cy="876.9" r="4.7" fill="#f00"/>
<circle cx="629.2" cy="895.5" r="4.7" fill="#f00"/>
<circle cx="641.4" cy="904.4" r="4.7" fill="#f00"/>
<circle cx="653.5" cy="915.5" r="4.7" fill="#f00"/>
<circle cx="665.6" cy="926.0" r="4.7" fill="#f00"/>
<line x1="100.5" y1="588.1" x2="122.8" y2="588.1" stroke="#000" stroke-width="2.2"/><circle cx="111.6" cy="588.1" r="4.4" fill="#000"/>
<line x1="100.5" y1="612.5" x2="122.8" y2="612.5" stroke="#f22" stroke-width="2.2"/><circle cx="111.6" cy="612.5" r="4.4" fill="#f00"/>
<text x="124.5" y="595.9" font-size="23" fill="#595959" textLength="134" lengthAdjust="spacingAndGlyphs">Ave-Cluster 1</text>
<text x="124.5" y="619.8" font-size="23" fill="#595959" textLength="134" lengthAdjust="spacingAndGlyphs">Ave-Cluster 2</text>
<line x1="829.7" y1="598.8" x2="829.7" y2="910.7" stroke="#111" stroke-width="1.8"/>
<line x1="828.7" y1="909.7" x2="1228" y2="909.7" stroke="#111" stroke-width="1.8"/>
<text x="0" y="0" font-size="32.5" fill="#5f5f5f" text-anchor="end" transform="translate(804.3,922.1) scale(0.76,1)">0.8</text>
<text x="0" y="0" font-size="32.5" fill="#5f5f5f" text-anchor="end" transform="translate(804.3,870.4) scale(0.76,1)">0.9</text>
<text x="0" y="0" font-size="32.5" fill="#5f5f5f" text-anchor="end" transform="translate(804.3,818.6) scale(0.76,1)">1</text>
<text x="0" y="0" font-size="32.5" fill="#5f5f5f" text-anchor="end" transform="translate(804.3,766.9) scale(0.76,1)">1.1</text>
<text x="0" y="0" font-size="32.5" fill="#5f5f5f" text-anchor="end" transform="translate(804.3,715.1) scale(0.76,1)">1.2</text>
<text x="0" y="0" font-size="32.5" fill="#5f5f5f" text-anchor="end" transform="translate(804.3,663.4) scale(0.76,1)">1.3</text>
<text x="0" y="0" font-size="32.5" fill="#5f5f5f" text-anchor="end" transform="translate(804.3,611.6) scale(0.76,1)">1.4</text>
<text x="0" y="0" font-size="40" fill="#5f5f5f" text-anchor="middle" transform="translate(830.0,972.0) scale(0.88,1)">0</text>
<text x="0" y="0" font-size="40" fill="#5f5f5f" text-anchor="middle" transform="translate(879.6,972.0) scale(0.88,1)">1</text>
<text x="0" y="0" font-size="40" fill="#5f5f5f" text-anchor="middle" transform="translate(929.2,972.0) scale(0.88,1)">2</text>
<text x="0" y="0" font-size="40" fill="#5f5f5f" text-anchor="middle" transform="translate(978.8,972.0) scale(0.88,1)">3</text>
<text x="0" y="0" font-size="40" fill="#5f5f5f" text-anchor="middle" transform="translate(1028.4,972.0) scale(0.88,1)">4</text>
<text x="0" y="0" font-size="40" fill="#5f5f5f" text-anchor="middle" transform="translate(1078.0,972.0) scale(0.88,1)">5</text>
<text x="0" y="0" font-size="40" fill="#5f5f5f" text-anchor="middle" transform="translate(1127.6,972.0) scale(0.88,1)">6</text>
<text x="0" y="0" font-size="40" fill="#5f5f5f" text-anchor="middle" transform="translate(1177.2,972.0) scale(0.88,1)">7</text>
<text x="0" y="0" font-size="40" fill="#5f5f5f" text-anchor="middle" transform="translate(1226.8,972.0) scale(0.88,1)">8</text>
<text x="971.5" y="1015.2" font-size="40" fill="#5f5f5f" textLength="115" lengthAdjust="spacingAndGlyphs">Minutes</text>
<text transform="translate(762,890.5) rotate(-90)" x="0" y="0" font-size="36.5" fill="#5f5f5f" textLength="277.5" lengthAdjust="spacingAndGlyphs">Calcium (F/F0)</text>
<text x="874.3" y="510.5" font-size="37" fill="#111" textLength="62" lengthAdjust="spacingAndGlyphs">0 Hz</text>
<text x="1054" y="507.6" font-size="37" fill="#111" textLength="110" lengthAdjust="spacingAndGlyphs">200k Hz</text>
<line x1="843.1" y1="527.6" x2="969.7" y2="527.6" stroke="#333" stroke-width="1.4"/>
<path d="M839.1,527.6 L848.3,521.9 L848.3,533.4 Z" fill="#000"/>
<path d="M973.7,527.6 L964.5,521.9 L964.5,533.4 Z" fill="#000"/>
<line x1="983.6" y1="527.6" x2="1237.2" y2="527.6" stroke="#333" stroke-width="1.4"/>
<path d="M979.6,527.6 L988.8,521.9 L988.8,533.4 Z" fill="#000"/>
<path d="M1241.2,527.6 L1232.0,521.9 L1232.0,533.4 Z" fill="#000"/>
<path d="M871.2,595.3 L871.2,573.6 L974.3,573.6 L974.3,595.3" fill="none" stroke="#7a7a7a" stroke-width="1.5"/>
<text x="912.2" y="583" font-size="38" fill="#111" font-weight="bold" textLength="30.5" lengthAdjust="spacingAndGlyphs">**</text>
<line x1="929.2" y1="676.4" x2="929.2" y2="761.5" stroke="#6a6a6a" stroke-width="2.4"/>
<rect x="924.7" y="674.9" width="9" height="3.2" fill="#6a6a6a"/>
<rect x="924.7" y="760.0" width="9" height="3.2" fill="#6a6a6a"/>
<line x1="978.8" y1="692.7" x2="978.8" y2="763" stroke="#6a6a6a" stroke-width="2.4"/>
<rect x="974.3" y="691.2" width="9" height="3.2" fill="#6a6a6a"/>
<rect x="974.3" y="761.5" width="9" height="3.2" fill="#6a6a6a"/>
<line x1="1028.4" y1="682.1" x2="1028.4" y2="770" stroke="#6a6a6a" stroke-width="2.4"/>
<rect x="1023.9" y="680.6" width="9" height="3.2" fill="#6a6a6a"/>
<rect x="1023.9" y="768.5" width="9" height="3.2" fill="#6a6a6a"/>
<line x1="1078.0" y1="716.7" x2="1078.0" y2="780" stroke="#6a6a6a" stroke-width="2.4"/>
<rect x="1073.5" y="715.2" width="9" height="3.2" fill="#6a6a6a"/>
<rect x="1073.5" y="778.5" width="9" height="3.2" fill="#6a6a6a"/>
<line x1="1127.6" y1="770" x2="1127.6" y2="808.3" stroke="#6a6a6a" stroke-width="2.4"/>
<rect x="1123.1" y="806.8" width="9" height="3.2" fill="#6a6a6a"/>
<line x1="1177.2" y1="780" x2="1177.2" y2="826.4" stroke="#6a6a6a" stroke-width="2.4"/>
<rect x="1172.7" y="824.9" width="9" height="3.2" fill="#6a6a6a"/>
<line x1="1226.8" y1="800" x2="1226.8" y2="839.3" stroke="#6a6a6a" stroke-width="2.4"/>
<rect x="1222.3" y="837.8" width="9" height="3.2" fill="#6a6a6a"/>
<ellipse cx="929.0" cy="644.9" rx="4.4" ry="4.9" fill="#7a7a7a"/>
<ellipse cx="929.1" cy="665.5" rx="4.4" ry="4.9" fill="#555555"/>
<ellipse cx="928.7" cy="708.0" rx="4.4" ry="4.9" fill="#6a6a6a"/>
<ellipse cx="929.0" cy="734.7" rx="4.4" ry="4.9" fill="#555555"/>
<ellipse cx="929.7" cy="743.3" rx="4.4" ry="4.9" fill="#8c8c8c"/>
<ellipse cx="928.6" cy="752.0" rx="4.4" ry="4.9" fill="#444444"/>
<ellipse cx="929.1" cy="757.7" rx="4.4" ry="4.9" fill="#8c8c8c"/>
<ellipse cx="928.7" cy="700.0" rx="4.4" ry="4.9" fill="#444444"/>
<ellipse cx="928.7" cy="748.0" rx="4.4" ry="4.9" fill="#6a6a6a"/>
<ellipse cx="979.3" cy="660.2" rx="4.4" ry="4.9" fill="#555555"/>
<ellipse cx="978.9" cy="682.1" rx="4.4" ry="4.9" fill="#444444"/>
<ellipse cx="978.3" cy="704.1" rx="4.4" ry="4.9" fill="#8c8c8c"/>
<ellipse cx="978.3" cy="734.7" rx="4.4" ry="4.9" fill="#7a7a7a"/>
<ellipse cx="978.5" cy="744.3" rx="4.4" ry="4.9" fill="#7a7a7a"/>
<ellipse cx="978.8" cy="752.9" rx="4.4" ry="4.9" fill="#a0a0a0"/>
<ellipse cx="978.9" cy="765.3" rx="4.4" ry="4.9" fill="#7a7a7a"/>
<ellipse cx="978.3" cy="769.1" rx="4.4" ry="4.9" fill="#8c8c8c"/>
<ellipse cx="978.6" cy="712.0" rx="4.4" ry="4.9" fill="#6a6a6a"/>
<ellipse cx="1028.5" cy="643.0" rx="4.4" ry="4.9" fill="#8c8c8c"/>
<ellipse cx="1028.4" cy="659.2" rx="4.4" ry="4.9" fill="#444444"/>
<ellipse cx="1028.7" cy="688.8" rx="4.4" ry="4.9" fill="#5f5f5f"/>
<ellipse cx="1028.5" cy="739.5" rx="4.4" ry="4.9" fill="#5f5f5f"/>
<ellipse cx="1028.2" cy="750.0" rx="4.4" ry="4.9" fill="#8c8c8c"/>
<ellipse cx="1028.8" cy="756.7" rx="4.4" ry="4.9" fill="#8c8c8c"/>
<ellipse cx="1027.9" cy="765.3" rx="4.4" ry="4.9" fill="#a0a0a0"/>
<ellipse cx="1028.4" cy="772.0" rx="4.4" ry="4.9" fill="#b0b0b0"/>
<ellipse cx="1028.7" cy="745.0" rx="4.4" ry="4.9" fill="#a0a0a0"/>
<ellipse cx="1078.1" cy="681.9" rx="4.4" ry="4.9" fill="#6a6a6a"/>
<ellipse cx="1077.5" cy="698.7" rx="4.4" ry="4.9" fill="#444444"/>
<ellipse cx="1077.6" cy="705.1" rx="4.4" ry="4.9" fill="#b0b0b0"/>
<ellipse cx="1077.6" cy="721.9" rx="4.4" ry="4.9" fill="#5f5f5f"/>
<ellipse cx="1077.9" cy="743.8" rx="4.4" ry="4.9" fill="#6a6a6a"/>
<ellipse cx="1078.3" cy="765.8" rx="4.4" ry="4.9" fill="#b0b0b0"/>
<ellipse cx="1077.8" cy="774.8" rx="4.4" ry="4.9" fill="#b0b0b0"/>
<ellipse cx="1078.1" cy="755.0" rx="4.4" ry="4.9" fill="#5f5f5f"/>
<ellipse cx="1077.5" cy="760.0" rx="4.4" ry="4.9" fill="#6a6a6a"/>
<ellipse cx="1128.1" cy="724.0" rx="4.4" ry="4.9" fill="#5f5f5f"/>
<ellipse cx="1127.8" cy="752.9" rx="4.4" ry="4.9" fill="#6a6a6a"/>
<ellipse cx="1127.1" cy="755.5" rx="4.4" ry="4.9" fill="#a0a0a0"/>
<ellipse cx="1127.8" cy="774.8" rx="4.4" ry="4.9" fill="#5f5f5f"/>
<ellipse cx="1127.3" cy="798.0" rx="4.4" ry="4.9" fill="#444444"/>
<ellipse cx="1128.1" cy="803.2" rx="4.4" ry="4.9" fill="#b0b0b0"/>
<ellipse cx="1127.0" cy="816.9" rx="4.4" ry="4.9" fill="#5f5f5f"/>
<ellipse cx="1127.4" cy="760.0" rx="4.4" ry="4.9" fill="#6a6a6a"/>
<ellipse cx="1177.2" cy="745.6" rx="4.4" ry="4.9" fill="#8c8c8c"/>
<ellipse cx="1177.5" cy="770.2" rx="4.4" ry="4.9" fill="#7a7a7a"/>
<ellipse cx="1177.5" cy="774.8" rx="4.4" ry="4.9" fill="#444444"/>
<ellipse cx="1177.1" cy="781.2" rx="4.4" ry="4.9" fill="#5f5f5f"/>
<ellipse cx="1176.7" cy="805.8" rx="4.4" ry="4.9" fill="#5f5f5f"/>
<ellipse cx="1177.1" cy="816.1" rx="4.4" ry="4.9" fill="#a0a0a0"/>
<ellipse cx="1177.7" cy="848.8" rx="4.4" ry="4.9" fill="#444444"/>
<ellipse cx="1177.6" cy="795.0" rx="4.4" ry="4.9" fill="#a0a0a0"/>
<ellipse cx="1227.0" cy="770.9" rx="4.4" ry="4.9" fill="#b0b0b0"/>
<ellipse cx="1227.0" cy="787.2" rx="4.4" ry="4.9" fill="#444444"/>
<ellipse cx="1227.3" cy="801.9" rx="4.4" ry="4.9" fill="#7a7a7a"/>
<ellipse cx="1226.3" cy="809.6" rx="4.4" ry="4.9" fill="#7a7a7a"/>
<ellipse cx="1226.5" cy="822.5" rx="4.4" ry="4.9" fill="#8c8c8c"/>
<ellipse cx="1226.2" cy="834.1" rx="4.4" ry="4.9" fill="#7a7a7a"/>
<ellipse cx="1226.5" cy="868.5" rx="4.4" ry="4.9" fill="#555555"/>
<polyline points="879.7,807 929.4,719.4 978.9,728 1028.5,726.3 1078.2,749 1127.7,783.8 1177.5,801.9 1227,817.4" fill="none" stroke="#000" stroke-width="3.8" stroke-linejoin="round"/>
<ellipse cx="879.7" cy="807" rx="6.3" ry="6.8" fill="#444" stroke="#888" stroke-width="1.8"/>
<ellipse cx="929.4" cy="719.4" rx="6.3" ry="6.8" fill="#000" stroke="#000" stroke-width="1.8"/>
<ellipse cx="978.9" cy="728" rx="6.3" ry="6.8" fill="#555" stroke="#000" stroke-width="1.8"/>
<ellipse cx="1028.5" cy="726.3" rx="6.3" ry="6.8" fill="#000" stroke="#000" stroke-width="1.8"/>
<ellipse cx="1078.2" cy="749" rx="6.3" ry="6.8" fill="#222" stroke="#000" stroke-width="1.8"/>
<ellipse cx="1127.7" cy="783.8" rx="6.3" ry="6.8" fill="#aaa" stroke="#000" stroke-width="1.8"/>
<ellipse cx="1177.5" cy="801.9" rx="6.3" ry="6.8" fill="#888" stroke="#000" stroke-width="1.8"/>
<ellipse cx="1227" cy="817.4" rx="6.3" ry="6.8" fill="#999" stroke="#444" stroke-width="1.8"/>
<line x1="1393" y1="585.6" x2="1393" y2="906.6" stroke="#111" stroke-width="1.8"/>
<line x1="1392" y1="905.6" x2="1786" y2="905.6" stroke="#111" stroke-width="1.8"/>
<text x="0" y="0" font-size="32.5" fill="#5f5f5f" text-anchor="end" transform="translate(1366.0,918.0) scale(0.76,1)">0.4</text>
<text x="0" y="0" font-size="32.5" fill="#5f5f5f" text-anchor="end" transform="translate(1366.0,872.1) scale(0.76,1)">0.5</text>
<text x="0" y="0" font-size="32.5" fill="#5f5f5f" text-anchor="end" transform="translate(1366.0,826.2) scale(0.76,1)">0.6</text>
<text x="0" y="0" font-size="32.5" fill="#5f5f5f" text-anchor="end" transform="translate(1366.0,780.3) scale(0.76,1)">0.7</text>
<text x="0" y="0" font-size="32.5" fill="#5f5f5f" text-anchor="end" transform="translate(1366.0,734.4) scale(0.76,1)">0.8</text>
<text x="0" y="0" font-size="32.5" fill="#5f5f5f" text-anchor="end" transform="translate(1366.0,688.5) scale(0.76,1)">0.9</text>
<text x="0" y="0" font-size="32.5" fill="#5f5f5f" text-anchor="end" transform="translate(1366.0,642.6) scale(0.76,1)">1</text>
<text x="0" y="0" font-size="32.5" fill="#5f5f5f" text-anchor="end" transform="translate(1366.0,596.7) scale(0.76,1)">1.1</text>
<text x="0" y="0" font-size="42" fill="#5f5f5f" text-anchor="middle" transform="translate(1392.7,970.1) scale(0.88,1)">0</text>
<text x="0" y="0" font-size="42" fill="#5f5f5f" text-anchor="middle" transform="translate(1441.7,970.1) scale(0.88,1)">1</text>
<text x="0" y="0" font-size="42" fill="#5f5f5f" text-anchor="middle" transform="translate(1490.8,970.1) scale(0.88,1)">2</text>
<text x="0" y="0" font-size="42" fill="#5f5f5f" text-anchor="middle" transform="translate(1539.8,970.1) scale(0.88,1)">3</text>
<text x="0" y="0" font-size="42" fill="#5f5f5f" text-anchor="middle" transform="translate(1588.9,970.1) scale(0.88,1)">4</text>
<text x="0" y="0" font-size="42" fill="#5f5f5f" text-anchor="middle" transform="translate(1637.9,970.1) scale(0.88,1)">5</text>
<text x="0" y="0" font-size="42" fill="#5f5f5f" text-anchor="middle" transform="translate(1686.9,970.1) scale(0.88,1)">6</text>
<text x="0" y="0" font-size="42" fill="#5f5f5f" text-anchor="middle" transform="translate(1736.0,970.1) scale(0.88,1)">7</text>
<text x="0" y="0" font-size="42" fill="#5f5f5f" text-anchor="middle" transform="translate(1785.0,970.1) scale(0.88,1)">8</text>
<text x="1532.3" y="1014.9" font-size="41.6" fill="#5f5f5f" textLength="115" lengthAdjust="spacingAndGlyphs">Minutes</text>
<text transform="translate(1325,883.3) rotate(-90)" x="0" y="0" font-size="36.5" fill="#5f5f5f" textLength="279.5" lengthAdjust="spacingAndGlyphs">Calcium (F/F0)</text>
<text x="1438.5" y="500.8" font-size="38" fill="#111" textLength="62" lengthAdjust="spacingAndGlyphs">0 Hz</text>
<text x="1614.5" y="498.1" font-size="38" fill="#111" textLength="110" lengthAdjust="spacingAndGlyphs">200k Hz</text>
<line x1="1405.8" y1="519.9" x2="1531.6" y2="519.9" stroke="#333" stroke-width="1.4"/>
<path d="M1401.8,519.9 L1411.0,514.1 L1411.0,525.6 Z" fill="#000"/>
<path d="M1535.6,519.9 L1526.4,514.1 L1526.4,525.6 Z" fill="#000"/>
<line x1="1545" y1="519.9" x2="1796.3" y2="519.9" stroke="#333" stroke-width="1.4"/>
<path d="M1541.0,519.9 L1550.2,514.1 L1550.2,525.6 Z" fill="#000"/>
<path d="M1800.3,519.9 L1791.1,514.1 L1791.1,525.6 Z" fill="#000"/>
<path d="M1430.4,590.5 L1430.4,567.5 L1532.5,567.5 L1532.5,590.5" fill="none" stroke="#7a7a7a" stroke-width="1.5"/>
<text x="1468.5" y="567.3" font-size="40" fill="#111" font-weight="bold" textLength="30" lengthAdjust="spacingAndGlyphs">**</text>
<line x1="1490.8" y1="759" x2="1490.8" y2="845" stroke="#f00" stroke-width="2.4"/>
<line x1="1539.8" y1="750.6" x2="1539.8" y2="838.7" stroke="#f00" stroke-width="2.4"/>
<rect x="1535.3" y="749.1" width="9" height="3.2" fill="#f00"/>
<rect x="1535.3" y="837.2" width="9" height="3.2" fill="#f00"/>
<line x1="1588.9" y1="769.2" x2="1588.9" y2="854.7" stroke="#f00" stroke-width="2.4"/>
<rect x="1584.4" y="767.7" width="9" height="3.2" fill="#f00"/>
<rect x="1584.4" y="853.2" width="9" height="3.2" fill="#f00"/>
<line x1="1637.9" y1="737.5" x2="1637.9" y2="828" stroke="#f00" stroke-width="2.4"/>
<rect x="1633.4" y="736.0" width="9" height="3.2" fill="#f00"/>
<line x1="1686.9" y1="683.4" x2="1686.9" y2="770" stroke="#f00" stroke-width="2.4"/>
<rect x="1682.4" y="681.9" width="9" height="3.2" fill="#f00"/>
<line x1="1736.0" y1="680" x2="1736.0" y2="745.8" stroke="#f00" stroke-width="2.4"/>
<rect x="1731.5" y="744.3" width="9" height="3.2" fill="#f00"/>
<line x1="1785.0" y1="652.8" x2="1785.0" y2="718" stroke="#f00" stroke-width="2.4"/>
<rect x="1780.5" y="651.3" width="9" height="3.2" fill="#f00"/>
<ellipse cx="1490.4" cy="731.4" rx="4.4" ry="4.9" fill="#b0b0b0"/>
<ellipse cx="1490.9" cy="742.0" rx="4.4" ry="4.9" fill="#b0b0b0"/>
<ellipse cx="1491.3" cy="750.6" rx="4.4" ry="4.9" fill="#555555"/>
<ellipse cx="1490.7" cy="758.3" rx="4.4" ry="4.9" fill="#444444"/>
<ellipse cx="1490.7" cy="806.0" rx="4.4" ry="4.9" fill="#444444"/>
<ellipse cx="1490.3" cy="812.0" rx="4.4" ry="4.9" fill="#444444"/>
<ellipse cx="1490.3" cy="818.0" rx="4.4" ry="4.9" fill="#6a6a6a"/>
<ellipse cx="1491.4" cy="824.0" rx="4.4" ry="4.9" fill="#5f5f5f"/>
<ellipse cx="1490.4" cy="829.5" rx="4.4" ry="4.9" fill="#b0b0b0"/>
<ellipse cx="1490.9" cy="849.6" rx="4.4" ry="4.9" fill="#6a6a6a"/>
<ellipse cx="1490.2" cy="859.6" rx="4.4" ry="4.9" fill="#7a7a7a"/>
<ellipse cx="1490.8" cy="863.3" rx="4.4" ry="4.9" fill="#b0b0b0"/>
<ellipse cx="1540.0" cy="721.3" rx="4.4" ry="4.9" fill="#6a6a6a"/>
<ellipse cx="1540.3" cy="732.8" rx="4.4" ry="4.9" fill="#444444"/>
<ellipse cx="1539.4" cy="757.8" rx="4.4" ry="4.9" fill="#a0a0a0"/>
<ellipse cx="1540.4" cy="765.8" rx="4.4" ry="4.9" fill="#b0b0b0"/>
<ellipse cx="1539.8" cy="787.9" rx="4.4" ry="4.9" fill="#6a6a6a"/>
<ellipse cx="1540.2" cy="800.8" rx="4.4" ry="4.9" fill="#5f5f5f"/>
<ellipse cx="1539.8" cy="807.0" rx="4.4" ry="4.9" fill="#a0a0a0"/>
<ellipse cx="1539.3" cy="813.7" rx="4.4" ry="4.9" fill="#6a6a6a"/>
<ellipse cx="1540.1" cy="843.8" rx="4.4" ry="4.9" fill="#a0a0a0"/>
<ellipse cx="1539.8" cy="854.7" rx="4.4" ry="4.9" fill="#7a7a7a"/>
<ellipse cx="1588.9" cy="747.7" rx="4.4" ry="4.9" fill="#8c8c8c"/>
<ellipse cx="1589.4" cy="758.3" rx="4.4" ry="4.9" fill="#b0b0b0"/>
<ellipse cx="1588.4" cy="776.4" rx="4.4" ry="4.9" fill="#555555"/>
<ellipse cx="1589.2" cy="818.0" rx="4.4" ry="4.9" fill="#a0a0a0"/>
<ellipse cx="1589.4" cy="824.0" rx="4.4" ry="4.9" fill="#6a6a6a"/>
<ellipse cx="1589.1" cy="829.5" rx="4.4" ry="4.9" fill="#a0a0a0"/>
<ellipse cx="1588.9" cy="849.6" rx="4.4" ry="4.9" fill="#7a7a7a"/>
<ellipse cx="1588.7" cy="862.5" rx="4.4" ry="4.9" fill="#8c8c8c"/>
<ellipse cx="1588.9" cy="869.6" rx="4.4" ry="4.9" fill="#b0b0b0"/>
<ellipse cx="1638.1" cy="719.2" rx="4.4" ry="4.9" fill="#8c8c8c"/>
<ellipse cx="1638.3" cy="723.0" rx="4.4" ry="4.9" fill="#444444"/>
<ellipse cx="1638.2" cy="726.8" rx="4.4" ry="4.9" fill="#8c8c8c"/>
<ellipse cx="1637.5" cy="782.8" rx="4.4" ry="4.9" fill="#5f5f5f"/>
<ellipse cx="1637.7" cy="790.0" rx="4.4" ry="4.9" fill="#555555"/>
<ellipse cx="1638.5" cy="797.2" rx="4.4" ry="4.9" fill="#a0a0a0"/>
<ellipse cx="1637.9" cy="812.5" rx="4.4" ry="4.9" fill="#8c8c8c"/>
<ellipse cx="1638.1" cy="819.0" rx="4.4" ry="4.9" fill="#b0b0b0"/>
<ellipse cx="1637.8" cy="826.0" rx="4.4" ry="4.9" fill="#b0b0b0"/>
<ellipse cx="1638.4" cy="833.9" rx="4.4" ry="4.9" fill="#b0b0b0"/>
<ellipse cx="1686.4" cy="668.7" rx="4.4" ry="4.9" fill="#6a6a6a"/>
<ellipse cx="1686.6" cy="671.0" rx="4.4" ry="4.9" fill="#8c8c8c"/>
<ellipse cx="1686.7" cy="674.8" rx="4.4" ry="4.9" fill="#5f5f5f"/>
<ellipse cx="1687.1" cy="687.7" rx="4.4" ry="4.9" fill="#555555"/>
<ellipse cx="1686.9" cy="700.2" rx="4.4" ry="4.9" fill="#b0b0b0"/>
<ellipse cx="1687.3" cy="739.1" rx="4.4" ry="4.9" fill="#6a6a6a"/>
<ellipse cx="1687.3" cy="754.4" rx="4.4" ry="4.9" fill="#6a6a6a"/>
<ellipse cx="1687.4" cy="763.5" rx="4.4" ry="4.9" fill="#8c8c8c"/>
<ellipse cx="1686.9" cy="788.0" rx="4.4" ry="4.9" fill="#7a7a7a"/>
<ellipse cx="1735.9" cy="652.5" rx="4.4" ry="4.9" fill="#b0b0b0"/>
<ellipse cx="1735.5" cy="668.7" rx="4.4" ry="4.9" fill="#444444"/>
<ellipse cx="1735.9" cy="672.0" rx="4.4" ry="4.9" fill="#6a6a6a"/>
<ellipse cx="1736.2" cy="679.4" rx="4.4" ry="4.9" fill="#7a7a7a"/>
<ellipse cx="1736.6" cy="729.9" rx="4.4" ry="4.9" fill="#555555"/>
<ellipse cx="1735.6" cy="735.0" rx="4.4" ry="4.9" fill="#5f5f5f"/>
<ellipse cx="1736.3" cy="740.6" rx="4.4" ry="4.9" fill="#7a7a7a"/>
<ellipse cx="1736.1" cy="755.9" rx="4.4" ry="4.9" fill="#5f5f5f"/>
<ellipse cx="1785.2" cy="618.9" rx="4.4" ry="4.9" fill="#b0b0b0"/>
<ellipse cx="1784.6" cy="644.9" rx="4.4" ry="4.9" fill="#7a7a7a"/>
<ellipse cx="1784.4" cy="661.1" rx="4.4" ry="4.9" fill="#6a6a6a"/>
<ellipse cx="1785.1" cy="669.3" rx="4.4" ry="4.9" fill="#7a7a7a"/>
<ellipse cx="1784.9" cy="677.9" rx="4.4" ry="4.9" fill="#8c8c8c"/>
<ellipse cx="1785.4" cy="702.4" rx="4.4" ry="4.9" fill="#8c8c8c"/>
<ellipse cx="1784.5" cy="710.6" rx="4.4" ry="4.9" fill="#8c8c8c"/>
<ellipse cx="1784.8" cy="717.7" rx="4.4" ry="4.9" fill="#8c8c8c"/>
<polyline points="1441.7,631.6 1490.4,803.7 1539.8,795.9 1589,811.6 1638.1,782.8 1687.7,726.2 1736,709.1 1785,684.9" fill="none" stroke="#f00" stroke-width="3.8" stroke-linejoin="round"/>
<ellipse cx="1441.7" cy="631.6" rx="6.3" ry="6.8" fill="#666" stroke="#f00" stroke-width="1.8"/>
<ellipse cx="1490.4" cy="803.7" rx="6.3" ry="6.8" fill="#f00" stroke="#f00" stroke-width="1.8"/>
<ellipse cx="1539.8" cy="795.9" rx="6.3" ry="6.8" fill="#f00" stroke="#f00" stroke-width="1.8"/>
<ellipse cx="1589" cy="811.6" rx="6.3" ry="6.8" fill="#f00" stroke="#f00" stroke-width="1.8"/>
<ellipse cx="1638.1" cy="782.8" rx="6.3" ry="6.8" fill="#f00" stroke="#f00" stroke-width="1.8"/>
<ellipse cx="1687.7" cy="726.2" rx="6.3" ry="6.8" fill="#f00" stroke="#f00" stroke-width="1.8"/>
<ellipse cx="1736" cy="709.1" rx="6.3" ry="6.8" fill="#f00" stroke="#f00" stroke-width="1.8"/>
<ellipse cx="1785" cy="684.9" rx="6.3" ry="6.8" fill="#f00" stroke="#f00" stroke-width="1.8"/>
<defs><g id="cl_big" fill="#2af22a"><ellipse cx="114" cy="802" rx="8.4" ry="6.4" transform="rotate(106 114 802)" opacity="0.76"/><ellipse cx="233" cy="863" rx="6.0" ry="5.6" transform="rotate(55 233 863)" opacity="0.91"/><ellipse cx="307" cy="854" rx="9.2" ry="5.8" transform="rotate(174 307 854)" opacity="0.57"/><ellipse cx="145" cy="673" rx="5.8" ry="4.4" transform="rotate(11 145 673)" opacity="0.56"/><ellipse cx="219" cy="829" rx="5.2" ry="4.1" transform="rotate(152 219 829)" opacity="0.76"/><ellipse cx="101" cy="755" rx="6.8" ry="5.3" transform="rotate(50 101 755)" opacity="0.85"/><ellipse cx="431" cy="766" rx="7.4" ry="6.2" transform="rotate(41 431 766)" opacity="0.87"/><ellipse cx="194" cy="801" rx="9.0" ry="6.0" transform="rotate(70 194 801)" opacity="0.73"/><ellipse cx="331" cy="727" rx="6.2" ry="4.0" transform="rotate(85 331 727)" opacity="0.64"/><ellipse cx="270" cy="759" rx="6.1" ry="4.2" transform="rotate(49 270 759)" opacity="0.83"/><ellipse cx="254" cy="810" rx="7.0" ry="6.5" transform="rotate(44 254 810)" opacity="0.89"/><ellipse cx="220" cy="788" rx="8.1" ry="6.1" transform="rotate(81 220 788)" opacity="0.63"/><ellipse cx="241" cy="898" rx="4.6" ry="4.3" transform="rotate(76 241 898)" opacity="0.84"/><ellipse cx="213" cy="836" rx="7.7" ry="6.5" transform="rotate(159 213 836)" opacity="0.91"/><ellipse cx="217" cy="853" rx="6.6" ry="6.2" transform="rotate(178 217 853)" opacity="0.84"/><ellipse cx="212" cy="834" rx="7.1" ry="6.0" transform="rotate(13 212 834)" opacity="0.70"/><ellipse cx="278" cy="830" rx="5.7" ry="4.6" transform="rotate(82 278 830)" opacity="0.82"/><ellipse cx="278" cy="745" rx="6.1" ry="5.5" transform="rotate(28 278 745)" opacity="0.94"/><ellipse cx="308" cy="685" rx="6.7" ry="4.6" transform="rotate(169 308 685)" opacity="0.64"/><ellipse cx="256" cy="967" rx="7.9" ry="6.3" transform="rotate(19 256 967)" opacity="0.82"/><ellipse cx="374" cy="822" rx="5.3" ry="4.6" transform="rotate(148 374 822)" opacity="0.87"/><ellipse cx="152" cy="730" rx="4.6" ry="4.5" transform="rotate(41 152 730)" opacity="0.87"/><ellipse cx="72" cy="709" rx="8.7" ry="5.6" transform="rotate(37 72 709)" opacity="0.68"/><ellipse cx="255" cy="777" rx="5.7" ry="5.2" transform="rotate(66 255 777)" opacity="0.58"/><ellipse cx="167" cy="750" rx="7.8" ry="4.9" transform="rotate(118 167 750)" opacity="0.95"/><ellipse cx="167" cy="665" rx="4.4" ry="4.4" transform="rotate(164 167 665)" opacity="0.57"/><ellipse cx="146" cy="562" rx="5.2" ry="4.1" transform="rotate(131 146 562)" opacity="0.84"/><ellipse cx="278" cy="819" rx="8.5" ry="5.9" transform="rotate(127 278 819)" opacity="0.96"/><ellipse cx="242" cy="588" rx="7.6" ry="4.9" transform="rotate(157 242 588)" opacity="0.86"/><ellipse cx="93" cy="845" rx="8.6" ry="6.2" transform="rotate(69 93 845)" opacity="0.81"/><ellipse cx="117" cy="712" rx="6.7" ry="4.2" transform="rotate(158 117 712)" opacity="0.84"/><ellipse cx="191" cy="686" rx="7.5" ry="5.9" transform="rotate(151 191 686)" opacity="0.81"/><ellipse cx="301" cy="841" rx="5.3" ry="4.1" transform="rotate(41 301 841)" opacity="0.82"/><ellipse cx="174" cy="676" rx="6.5" ry="5.6" transform="rotate(2 174 676)" opacity="0.96"/><ellipse cx="167" cy="891" rx="7.0" ry="4.5" transform="rotate(119 167 891)" opacity="0.63"/><ellipse cx="62" cy="834" rx="5.4" ry="4.9" transform="rotate(78 62 834)" opacity="0.85"/><ellipse cx="253" cy="593" rx="8.5" ry="6.3" transform="rotate(57 253 593)" opacity="0.72"/><ellipse cx="254" cy="845" rx="8.8" ry="6.2" transform="rotate(171 254 845)" opacity="0.93"/><ellipse cx="193" cy="821" rx="5.8" ry="5.2" transform="rotate(75 193 821)" opacity="0.67"/><ellipse cx="143" cy="700" rx="7.7" ry="4.8" transform="rotate(81 143 700)" opacity="0.93"/><ellipse cx="216" cy="780" rx="8.9" ry="6.3" transform="rotate(103 216 780)" opacity="0.57"/><ellipse cx="155" cy="910" rx="5.2" ry="4.0" transform="rotate(4 155 910)" opacity="0.61"/><ellipse cx="225" cy="715" rx="6.0" ry="4.4" transform="rotate(80 225 715)" opacity="0.57"/><ellipse cx="130" cy="680" rx="8.6" ry="6.1" transform="rotate(36 130 680)" opacity="0.98"/><ellipse cx="157" cy="778" rx="5.8" ry="4.0" transform="rotate(32 157 778)" opacity="0.76"/><ellipse cx="191" cy="848" rx="8.0" ry="5.8" transform="rotate(136 191 848)" opacity="0.78"/><ellipse cx="103" cy="863" rx="9.9" ry="6.4" transform="rotate(130 103 863)" opacity="0.59"/><ellipse cx="253" cy="838" rx="6.9" ry="5.6" transform="rotate(102 253 838)" opacity="0.96"/><ellipse cx="291" cy="666" rx="9.0" ry="6.5" transform="rotate(37 291 666)" opacity="0.76"/><ellipse cx="177" cy="615" rx="6.4" ry="5.7" transform="rotate(162 177 615)" opacity="0.87"/><ellipse cx="391" cy="741" rx="6.4" ry="5.4" transform="rotate(164 391 741)" opacity="0.91"/><ellipse cx="240" cy="708" rx="5.6" ry="4.2" transform="rotate(138 240 708)" opacity="0.75"/><ellipse cx="183" cy="772" rx="9.0" ry="6.1" transform="rotate(31 183 772)" opacity="0.58"/><ellipse cx="137" cy="899" rx="5.7" ry="4.4" transform="rotate(130 137 899)" opacity="0.62"/><ellipse cx="257" cy="660" rx="10.1" ry="6.5" transform="rotate(15 257 660)" opacity="0.77"/><ellipse cx="215" cy="872" rx="6.6" ry="4.8" transform="rotate(94 215 872)" opacity="0.88"/><ellipse cx="250" cy="679" rx="7.3" ry="4.8" transform="rotate(162 250 679)" opacity="0.72"/><ellipse cx="235" cy="930" rx="8.8" ry="6.5" transform="rotate(36 235 930)" opacity="0.79"/><ellipse cx="119" cy="748" rx="8.8" ry="5.6" transform="rotate(93 119 748)" opacity="0.56"/><ellipse cx="98" cy="859" rx="7.7" ry="5.5" transform="rotate(12 98 859)" opacity="0.77"/><ellipse cx="130" cy="749" rx="7.5" ry="6.5" transform="rotate(85 130 749)" opacity="0.97"/><ellipse cx="252" cy="835" rx="7.9" ry="6.1" transform="rotate(57 252 835)" opacity="0.96"/><ellipse cx="235" cy="880" rx="9.4" ry="6.4" transform="rotate(4 235 880)" opacity="0.61"/><ellipse cx="217" cy="827" rx="7.0" ry="5.8" transform="rotate(112 217 827)" opacity="0.69"/><ellipse cx="290" cy="854" rx="5.0" ry="4.3" transform="rotate(36 290 854)" opacity="0.78"/><ellipse cx="126" cy="753" rx="6.6" ry="5.0" transform="rotate(29 126 753)" opacity="0.74"/><ellipse cx="228" cy="885" rx="8.6" ry="5.7" transform="rotate(110 228 885)" opacity="0.79"/><ellipse cx="232" cy="722" rx="9.1" ry="5.9" transform="rotate(57 232 722)" opacity="0.91"/><ellipse cx="137" cy="947" rx="7.0" ry="4.6" transform="rotate(24 137 947)" opacity="1.00"/><ellipse cx="208" cy="907" rx="7.0" ry="4.7" transform="rotate(76 208 907)" opacity="0.59"/><ellipse cx="209" cy="727" rx="5.1" ry="5.0" transform="rotate(36 209 727)" opacity="0.86"/><ellipse cx="136" cy="600" rx="8.5" ry="6.5" transform="rotate(136 136 600)" opacity="0.60"/><ellipse cx="94" cy="768" rx="4.8" ry="4.5" transform="rotate(7 94 768)" opacity="0.58"/><ellipse cx="120" cy="737" rx="6.1" ry="5.5" transform="rotate(37 120 737)" opacity="0.62"/><ellipse cx="314" cy="552" rx="6.6" ry="6.4" transform="rotate(171 314 552)" opacity="0.59"/><ellipse cx="84" cy="804" rx="6.3" ry="4.8" transform="rotate(77 84 804)" opacity="0.76"/><ellipse cx="191" cy="762" rx="6.5" ry="5.8" transform="rotate(82 191 762)" opacity="0.93"/><ellipse cx="195" cy="684" rx="5.9" ry="4.5" transform="rotate(3 195 684)" opacity="0.62"/><ellipse cx="299" cy="675" rx="8.0" ry="5.8" transform="rotate(73 299 675)" opacity="0.94"/><ellipse cx="133" cy="711" rx="7.6" ry="6.6" transform="rotate(164 133 711)" opacity="0.91"/><ellipse cx="196" cy="623" rx="9.4" ry="6.1" transform="rotate(158 196 623)" opacity="0.73"/><ellipse cx="159" cy="634" rx="8.6" ry="6.0" transform="rotate(13 159 634)" opacity="0.73"/><ellipse cx="157" cy="850" rx="5.6" ry="4.0" transform="rotate(112 157 850)" opacity="0.71"/><ellipse cx="219" cy="973" rx="8.0" ry="5.7" transform="rotate(103 219 973)" opacity="0.70"/><ellipse cx="132" cy="753" rx="9.4" ry="6.6" transform="rotate(137 132 753)" opacity="0.84"/><ellipse cx="215" cy="768" rx="6.5" ry="5.6" transform="rotate(72 215 768)" opacity="0.88"/><ellipse cx="244" cy="787" rx="5.7" ry="5.0" transform="rotate(163 244 787)" opacity="0.59"/><ellipse cx="121" cy="739" rx="10.4" ry="6.5" transform="rotate(115 121 739)" opacity="0.81"/><ellipse cx="210" cy="738" rx="5.7" ry="5.6" transform="rotate(167 210 738)" opacity="0.89"/><ellipse cx="242" cy="851" rx="6.1" ry="4.4" transform="rotate(11 242 851)" opacity="0.77"/><ellipse cx="269" cy="740" rx="6.5" ry="5.4" transform="rotate(51 269 740)" opacity="0.82"/><ellipse cx="150" cy="680" rx="5.6" ry="4.7" transform="rotate(3 150 680)" opacity="0.87"/><ellipse cx="201" cy="795" rx="5.4" ry="4.4" transform="rotate(162 201 795)" opacity="0.89"/><ellipse cx="200" cy="743" rx="6.9" ry="6.6" transform="rotate(163 200 743)" opacity="0.98"/><ellipse cx="128" cy="812" rx="8.6" ry="6.5" transform="rotate(169 128 812)" opacity="0.66"/><ellipse cx="187" cy="676" rx="8.9" ry="6.5" transform="rotate(21 187 676)" opacity="0.92"/><ellipse cx="145" cy="704" rx="6.0" ry="4.5" transform="rotate(22 145 704)" opacity="0.57"/><ellipse cx="103" cy="814" rx="7.0" ry="5.2" transform="rotate(76 103 814)" opacity="0.67"/><ellipse cx="215" cy="667" rx="9.5" ry="6.6" transform="rotate(43 215 667)" opacity="0.98"/><ellipse cx="312" cy="888" rx="7.3" ry="6.0" transform="rotate(49 312 888)" opacity="0.83"/><ellipse cx="164" cy="669" rx="8.0" ry="5.5" transform="rotate(34 164 669)" opacity="0.83"/><ellipse cx="324" cy="682" rx="4.8" ry="4.1" transform="rotate(77 324 682)" opacity="0.58"/><ellipse cx="177" cy="742" rx="5.7" ry="5.4" transform="rotate(122 177 742)" opacity="0.58"/><ellipse cx="106" cy="732" rx="5.6" ry="5.0" transform="rotate(62 106 732)" opacity="0.77"/><ellipse cx="196" cy="608" rx="6.2" ry="4.2" transform="rotate(112 196 608)" opacity="0.60"/><ellipse cx="206" cy="712" rx="7.6" ry="5.1" transform="rotate(66 206 712)" opacity="0.67"/><ellipse cx="80" cy="560" rx="7.0" ry="4.8" transform="rotate(166 80 560)" opacity="0.80"/><ellipse cx="140" cy="806" rx="4.5" ry="4.3" transform="rotate(15 140 806)" opacity="0.94"/><ellipse cx="126" cy="732" rx="8.5" ry="5.8" transform="rotate(14 126 732)" opacity="0.68"/><ellipse cx="224" cy="892" rx="6.0" ry="4.2" transform="rotate(125 224 892)" opacity="0.69"/><ellipse cx="192" cy="816" rx="6.0" ry="4.9" transform="rotate(21 192 816)" opacity="0.88"/><ellipse cx="177" cy="663" rx="9.9" ry="6.4" transform="rotate(79 177 663)" opacity="0.97"/><ellipse cx="220" cy="702" rx="7.5" ry="4.8" transform="rotate(161 220 702)" opacity="0.73"/><ellipse cx="201" cy="851" rx="6.1" ry="5.0" transform="rotate(70 201 851)" opacity="0.71"/><ellipse cx="231" cy="873" rx="9.1" ry="6.1" transform="rotate(101 231 873)" opacity="0.79"/><ellipse cx="253" cy="898" rx="6.4" ry="6.3" transform="rotate(93 253 898)" opacity="0.68"/><ellipse cx="113" cy="740" rx="9.7" ry="6.5" transform="rotate(12 113 740)" opacity="0.84"/><ellipse cx="82" cy="727" rx="6.1" ry="4.2" transform="rotate(162 82 727)" opacity="0.59"/><ellipse cx="286" cy="831" rx="6.1" ry="4.4" transform="rotate(44 286 831)" opacity="0.89"/><ellipse cx="222" cy="912" rx="6.6" ry="5.4" transform="rotate(61 222 912)" opacity="0.89"/><ellipse cx="303" cy="745" rx="7.6" ry="5.3" transform="rotate(127 303 745)" opacity="0.79"/><ellipse cx="262" cy="725" rx="9.3" ry="6.1" transform="rotate(145 262 725)" opacity="0.85"/><ellipse cx="274" cy="616" rx="8.5" ry="6.5" transform="rotate(128 274 616)" opacity="0.84"/><ellipse cx="224" cy="686" rx="7.4" ry="5.1" transform="rotate(178 224 686)" opacity="0.62"/><ellipse cx="170" cy="806" rx="5.3" ry="4.5" transform="rotate(175 170 806)" opacity="0.74"/><ellipse cx="256" cy="797" rx="6.3" ry="4.3" transform="rotate(32 256 797)" opacity="0.84"/><ellipse cx="272" cy="806" rx="5.6" ry="5.5" transform="rotate(20 272 806)" opacity="0.96"/><ellipse cx="220" cy="825" rx="6.3" ry="4.6" transform="rotate(40 220 825)" opacity="0.87"/><ellipse cx="223" cy="833" rx="5.3" ry="4.4" transform="rotate(99 223 833)" opacity="0.89"/><ellipse cx="233" cy="681" rx="7.2" ry="4.7" transform="rotate(62 233 681)" opacity="0.95"/><ellipse cx="32" cy="707" rx="5.4" ry="5.3" transform="rotate(171 32 707)" opacity="0.65"/><ellipse cx="222" cy="691" rx="6.3" ry="5.4" transform="rotate(178 222 691)" opacity="0.78"/><ellipse cx="172" cy="718" rx="4.9" ry="4.0" transform="rotate(143 172 718)" opacity="0.76"/><ellipse cx="178" cy="657" rx="5.3" ry="4.4" transform="rotate(47 178 657)" opacity="0.62"/><ellipse cx="257" cy="695" rx="6.6" ry="5.7" transform="rotate(96 257 695)" opacity="1.00"/><ellipse cx="270" cy="888" rx="6.0" ry="4.0" transform="rotate(148 270 888)" opacity="0.92"/><ellipse cx="248" cy="803" rx="7.6" ry="5.9" transform="rotate(84 248 803)" opacity="0.59"/><ellipse cx="289" cy="739" rx="9.2" ry="6.2" transform="rotate(75 289 739)" opacity="0.69"/><ellipse cx="226" cy="751" rx="8.2" ry="6.1" transform="rotate(95 226 751)" opacity="0.64"/><ellipse cx="273" cy="904" rx="5.0" ry="4.8" transform="rotate(55 273 904)" opacity="0.69"/><ellipse cx="91" cy="798" rx="5.2" ry="4.9" transform="rotate(71 91 798)" opacity="0.86"/><ellipse cx="22" cy="823" rx="6.2" ry="6.2" transform="rotate(68 22 823)" opacity="0.84"/><ellipse cx="187" cy="709" rx="5.5" ry="5.5" transform="rotate(178 187 709)" opacity="0.76"/><ellipse cx="215" cy="715" rx="6.9" ry="5.6" transform="rotate(97 215 715)" opacity="0.68"/><ellipse cx="181" cy="844" rx="5.8" ry="5.0" transform="rotate(36 181 844)" opacity="0.85"/><ellipse cx="193" cy="695" rx="9.3" ry="6.5" transform="rotate(60 193 695)" opacity="0.80"/><ellipse cx="214" cy="737" rx="6.1" ry="4.4" transform="rotate(127 214 737)" opacity="0.59"/><ellipse cx="230" cy="848" rx="6.5" ry="6.2" transform="rotate(41 230 848)" opacity="0.82"/><ellipse cx="220" cy="807" rx="7.9" ry="5.1" transform="rotate(77 220 807)" opacity="0.58"/><ellipse cx="99" cy="761" rx="7.4" ry="6.0" transform="rotate(60 99 761)" opacity="0.92"/><ellipse cx="189" cy="778" rx="8.0" ry="5.0" transform="rotate(142 189 778)" opacity="0.86"/><ellipse cx="149" cy="672" rx="4.9" ry="4.0" transform="rotate(117 149 672)" opacity="0.70"/><ellipse cx="254" cy="821" rx="8.0" ry="5.3" transform="rotate(110 254 821)" opacity="0.90"/><ellipse cx="265" cy="892" rx="7.7" ry="6.3" transform="rotate(90 265 892)" opacity="0.80"/><ellipse cx="270" cy="874" rx="9.4" ry="6.6" transform="rotate(150 270 874)" opacity="0.78"/><ellipse cx="255" cy="963" rx="5.9" ry="5.6" transform="rotate(44 255 963)" opacity="0.64"/><ellipse cx="104" cy="709" rx="5.9" ry="4.9" transform="rotate(83 104 709)" opacity="0.97"/><ellipse cx="334" cy="931" rx="5.8" ry="4.4" transform="rotate(101 334 931)" opacity="0.96"/><ellipse cx="149" cy="745" rx="9.5" ry="6.4" transform="rotate(108 149 745)" opacity="1.00"/><ellipse cx="294" cy="880" rx="5.4" ry="4.8" transform="rotate(103 294 880)" opacity="0.95"/><ellipse cx="222" cy="722" rx="5.5" ry="5.4" transform="rotate(32 222 722)" opacity="0.58"/><ellipse cx="365" cy="754" rx="8.0" ry="5.7" transform="rotate(133 365 754)" opacity="0.69"/><ellipse cx="131" cy="847" rx="6.8" ry="6.1" transform="rotate(84 131 847)" opacity="0.56"/><ellipse cx="243" cy="836" rx="7.2" ry="5.5" transform="rotate(47 243 836)" opacity="0.63"/><ellipse cx="143" cy="738" rx="8.0" ry="5.7" transform="rotate(26 143 738)" opacity="0.57"/><ellipse cx="292" cy="741" rx="7.2" ry="5.2" transform="rotate(124 292 741)" opacity="0.74"/><ellipse cx="206" cy="628" rx="7.9" ry="5.3" transform="rotate(154 206 628)" opacity="1.00"/><ellipse cx="137" cy="819" rx="7.2" ry="5.5" transform="rotate(95 137 819)" opacity="0.96"/><ellipse cx="62" cy="846" rx="6.9" ry="4.8" transform="rotate(162 62 846)" opacity="0.57"/><ellipse cx="189" cy="656" rx="8.1" ry="6.0" transform="rotate(13 189 656)" opacity="0.69"/><ellipse cx="254" cy="835" rx="5.5" ry="5.3" transform="rotate(125 254 835)" opacity="0.73"/><ellipse cx="149" cy="760" rx="5.5" ry="4.8" transform="rotate(12 149 760)" opacity="0.73"/><ellipse cx="355" cy="653" rx="7.2" ry="5.7" transform="rotate(145 355 653)" opacity="0.94"/><ellipse cx="220" cy="909" rx="5.8" ry="5.5" transform="rotate(143 220 909)" opacity="0.96"/><ellipse cx="262" cy="844" rx="7.4" ry="6.5" transform="rotate(54 262 844)" opacity="0.55"/><ellipse cx="189" cy="797" rx="7.8" ry="6.3" transform="rotate(64 189 797)" opacity="0.92"/><ellipse cx="182" cy="757" rx="4.8" ry="4.1" transform="rotate(90 182 757)" opacity="0.95"/><ellipse cx="376" cy="676" rx="6.2" ry="5.2" transform="rotate(166 376 676)" opacity="0.64"/><ellipse cx="237" cy="736" rx="7.9" ry="6.2" transform="rotate(31 237 736)" opacity="0.71"/><ellipse cx="367" cy="579" rx="5.0" ry="4.5" transform="rotate(158 367 579)" opacity="0.83"/><ellipse cx="232" cy="782" rx="9.1" ry="5.9" transform="rotate(157 232 782)" opacity="0.69"/><ellipse cx="191" cy="725" rx="7.4" ry="5.8" transform="rotate(14 191 725)" opacity="0.97"/><ellipse cx="210" cy="842" rx="6.5" ry="5.8" transform="rotate(42 210 842)" opacity="0.64"/><ellipse cx="137" cy="641" rx="7.6" ry="5.0" transform="rotate(106 137 641)" opacity="0.85"/><ellipse cx="208" cy="841" rx="7.5" ry="6.4" transform="rotate(115 208 841)" opacity="0.85"/><ellipse cx="369" cy="900" rx="6.8" ry="5.1" transform="rotate(8 369 900)" opacity="0.79"/><ellipse cx="154" cy="729" rx="4.9" ry="4.7" transform="rotate(51 154 729)" opacity="0.91"/><ellipse cx="202" cy="706" rx="5.3" ry="4.7" transform="rotate(161 202 706)" opacity="0.80"/><ellipse cx="218" cy="768" rx="6.4" ry="5.2" transform="rotate(167 218 768)" opacity="0.89"/><ellipse cx="156" cy="770" rx="6.6" ry="5.4" transform="rotate(118 156 770)" opacity="0.84"/><ellipse cx="217" cy="670" rx="7.5" ry="5.3" transform="rotate(94 217 670)" opacity="0.93"/><ellipse cx="241" cy="754" rx="8.2" ry="6.0" transform="rotate(42 241 754)" opacity="0.62"/><ellipse cx="88" cy="824" rx="6.9" ry="6.0" transform="rotate(88 88 824)" opacity="0.91"/><ellipse cx="217" cy="880" rx="7.2" ry="5.3" transform="rotate(129 217 880)" opacity="0.57"/><ellipse cx="72" cy="694" rx="4.5" ry="4.5" transform="rotate(89 72 694)" opacity="0.62"/><ellipse cx="131" cy="807" rx="4.9" ry="4.7" transform="rotate(163 131 807)" opacity="0.91"/><ellipse cx="120" cy="725" rx="6.6" ry="6.1" transform="rotate(56 120 725)" opacity="0.66"/><ellipse cx="259" cy="789" rx="6.5" ry="5.6" transform="rotate(106 259 789)" opacity="0.79"/><ellipse cx="310" cy="853" rx="4.9" ry="4.4" transform="rotate(124 310 853)" opacity="0.66"/><ellipse cx="260" cy="639" rx="5.1" ry="4.2" transform="rotate(39 260 639)" opacity="0.73"/><ellipse cx="220" cy="765" rx="8.4" ry="5.3" transform="rotate(26 220 765)" opacity="0.89"/><ellipse cx="89" cy="809" rx="6.3" ry="4.1" transform="rotate(25 89 809)" opacity="0.66"/><ellipse cx="154" cy="815" rx="5.2" ry="5.1" transform="rotate(179 154 815)" opacity="0.58"/><ellipse cx="209" cy="632" rx="6.1" ry="4.6" transform="rotate(44 209 632)" opacity="0.66"/><ellipse cx="42" cy="817" rx="7.9" ry="4.9" transform="rotate(110 42 817)" opacity="0.70"/><ellipse cx="269" cy="791" rx="6.9" ry="5.7" transform="rotate(125 269 791)" opacity="0.58"/><ellipse cx="262" cy="685" rx="7.8" ry="6.3" transform="rotate(152 262 685)" opacity="0.76"/><ellipse cx="110" cy="871" rx="5.1" ry="4.6" transform="rotate(99 110 871)" opacity="0.71"/><ellipse cx="224" cy="819" rx="5.4" ry="4.6" transform="rotate(80 224 819)" opacity="0.76"/><ellipse cx="305" cy="765" rx="7.7" ry="6.2" transform="rotate(13 305 765)" opacity="0.64"/><ellipse cx="176" cy="695" rx="5.2" ry="4.7" transform="rotate(47 176 695)" opacity="0.56"/><ellipse cx="76" cy="890" rx="7.1" ry="5.9" transform="rotate(28 76 890)" opacity="0.67"/><ellipse cx="261" cy="739" rx="9.3" ry="6.0" transform="rotate(4 261 739)" opacity="0.88"/><ellipse cx="170" cy="845" rx="5.0" ry="4.2" transform="rotate(139 170 845)" opacity="0.95"/><ellipse cx="177" cy="767" rx="5.1" ry="5.0" transform="rotate(27 177 767)" opacity="0.66"/><ellipse cx="185" cy="758" rx="6.4" ry="4.8" transform="rotate(24 185 758)" opacity="0.74"/><ellipse cx="185" cy="706" rx="6.4" ry="5.9" transform="rotate(37 185 706)" opacity="0.85"/><ellipse cx="179" cy="902" rx="7.7" ry="5.1" transform="rotate(41 179 902)" opacity="0.72"/><ellipse cx="183" cy="845" rx="4.6" ry="4.6" transform="rotate(113 183 845)" opacity="0.57"/><ellipse cx="83" cy="708" rx="9.2" ry="6.5" transform="rotate(165 83 708)" opacity="0.68"/><ellipse cx="223" cy="897" rx="8.7" ry="5.7" transform="rotate(42 223 897)" opacity="0.98"/><ellipse cx="180" cy="743" rx="5.3" ry="5.1" transform="rotate(69 180 743)" opacity="0.73"/><ellipse cx="161" cy="858" rx="5.9" ry="4.7" transform="rotate(86 161 858)" opacity="0.62"/><ellipse cx="252" cy="879" rx="5.6" ry="4.6" transform="rotate(76 252 879)" opacity="0.59"/><ellipse cx="254" cy="861" rx="8.3" ry="5.8" transform="rotate(4 254 861)" opacity="0.80"/><ellipse cx="148" cy="821" rx="4.3" ry="4.2" transform="rotate(89 148 821)" opacity="0.73"/><ellipse cx="132" cy="721" rx="4.9" ry="4.8" transform="rotate(62 132 721)" opacity="0.66"/><ellipse cx="270" cy="701" rx="5.2" ry="4.7" transform="rotate(84 270 701)" opacity="0.85"/><ellipse cx="215" cy="838" rx="7.7" ry="4.9" transform="rotate(139 215 838)" opacity="0.81"/><ellipse cx="251" cy="870" rx="5.9" ry="5.1" transform="rotate(149 251 870)" opacity="0.74"/><ellipse cx="319" cy="886" rx="6.9" ry="6.4" transform="rotate(91 319 886)" opacity="0.57"/><ellipse cx="276" cy="964" rx="7.3" ry="6.5" transform="rotate(41 276 964)" opacity="0.62"/><ellipse cx="278" cy="887" rx="4.9" ry="4.0" transform="rotate(43 278 887)" opacity="0.79"/><ellipse cx="232" cy="923" rx="7.3" ry="5.4" transform="rotate(150 232 923)" opacity="0.83"/><ellipse cx="325" cy="911" rx="5.8" ry="4.9" transform="rotate(129 325 911)" opacity="0.95"/><ellipse cx="270" cy="848" rx="7.1" ry="6.5" transform="rotate(112 270 848)" opacity="0.92"/><ellipse cx="239" cy="924" rx="7.2" ry="5.0" transform="rotate(96 239 924)" opacity="0.68"/><ellipse cx="292" cy="958" rx="6.3" ry="4.8" transform="rotate(23 292 958)" opacity="0.63"/><ellipse cx="304" cy="927" rx="4.6" ry="4.3" transform="rotate(81 304 927)" opacity="0.87"/><ellipse cx="296" cy="863" rx="6.7" ry="4.4" transform="rotate(10 296 863)" opacity="0.94"/><ellipse cx="289" cy="979" rx="8.7" ry="6.1" transform="rotate(45 289 979)" opacity="0.73"/><ellipse cx="282" cy="877" rx="7.3" ry="4.9" transform="rotate(149 282 877)" opacity="0.89"/><ellipse cx="252" cy="899" rx="8.7" ry="5.8" transform="rotate(144 252 899)" opacity="0.83"/><ellipse cx="317" cy="954" rx="6.4" ry="5.7" transform="rotate(2 317 954)" opacity="0.65"/><ellipse cx="208" cy="859" rx="9.2" ry="6.5" transform="rotate(75 208 859)" opacity="0.61"/><ellipse cx="263" cy="883" rx="6.6" ry="6.4" transform="rotate(128 263 883)" opacity="0.99"/><ellipse cx="299" cy="930" rx="7.6" ry="4.7" transform="rotate(22 299 930)" opacity="0.88"/><ellipse cx="286" cy="930" rx="6.6" ry="5.4" transform="rotate(56 286 930)" opacity="0.77"/><ellipse cx="314" cy="829" rx="6.5" ry="4.7" transform="rotate(138 314 829)" opacity="0.73"/><ellipse cx="329" cy="914" rx="8.6" ry="5.8" transform="rotate(26 329 914)" opacity="0.80"/><ellipse cx="299" cy="941" rx="8.3" ry="6.4" transform="rotate(22 299 941)" opacity="0.66"/><ellipse cx="286" cy="929" rx="7.5" ry="5.5" transform="rotate(49 286 929)" opacity="0.61"/><ellipse cx="296" cy="977" rx="5.1" ry="5.0" transform="rotate(12 296 977)" opacity="0.67"/><ellipse cx="317" cy="893" rx="5.4" ry="4.2" transform="rotate(179 317 893)" opacity="0.63"/><ellipse cx="249" cy="925" rx="6.3" ry="6.1" transform="rotate(99 249 925)" opacity="0.73"/><ellipse cx="259" cy="862" rx="7.2" ry="4.7" transform="rotate(179 259 862)" opacity="0.97"/><ellipse cx="219" cy="953" rx="6.0" ry="5.9" transform="rotate(30 219 953)" opacity="0.63"/><ellipse cx="302" cy="933" rx="5.9" ry="4.9" transform="rotate(93 302 933)" opacity="0.89"/><ellipse cx="317" cy="922" rx="8.5" ry="6.5" transform="rotate(146 317 922)" opacity="0.55"/><ellipse cx="307" cy="841" rx="7.5" ry="5.0" transform="rotate(138 307 841)" opacity="0.91"/><ellipse cx="308" cy="918" rx="9.2" ry="6.5" transform="rotate(45 308 918)" opacity="0.73"/><ellipse cx="297" cy="914" rx="6.8" ry="5.5" transform="rotate(66 297 914)" opacity="0.65"/><ellipse cx="250" cy="844" rx="6.0" ry="4.9" transform="rotate(50 250 844)" opacity="0.84"/><ellipse cx="319" cy="895" rx="6.1" ry="4.2" transform="rotate(38 319 895)" opacity="0.70"/><ellipse cx="288" cy="857" rx="6.1" ry="5.8" transform="rotate(26 288 857)" opacity="0.63"/><ellipse cx="265" cy="963" rx="5.0" ry="4.0" transform="rotate(58 265 963)" opacity="0.78"/><ellipse cx="194" cy="891" rx="5.4" ry="4.5" transform="rotate(136 194 891)" opacity="0.95"/><ellipse cx="197" cy="975" rx="6.5" ry="4.6" transform="rotate(32 197 975)" opacity="0.73"/><ellipse cx="281" cy="994" rx="7.2" ry="6.5" transform="rotate(64 281 994)" opacity="0.70"/><ellipse cx="313" cy="918" rx="7.8" ry="5.7" transform="rotate(38 313 918)" opacity="0.72"/><ellipse cx="228" cy="850" rx="8.1" ry="6.2" transform="rotate(102 228 850)" opacity="0.83"/><ellipse cx="347" cy="983" rx="8.1" ry="5.8" transform="rotate(75 347 983)" opacity="0.75"/><ellipse cx="268" cy="944" rx="7.3" ry="5.6" transform="rotate(6 268 944)" opacity="0.81"/><ellipse cx="260" cy="881" rx="8.6" ry="5.5" transform="rotate(27 260 881)" opacity="0.82"/><ellipse cx="167" cy="951" rx="8.5" ry="5.9" transform="rotate(178 167 951)" opacity="0.69"/><ellipse cx="224" cy="978" rx="5.6" ry="4.3" transform="rotate(42 224 978)" opacity="1.00"/><ellipse cx="321" cy="859" rx="9.5" ry="6.4" transform="rotate(92 321 859)" opacity="0.92"/><ellipse cx="305" cy="919" rx="7.2" ry="6.3" transform="rotate(145 305 919)" opacity="0.87"/><ellipse cx="242" cy="938" rx="7.3" ry="6.3" transform="rotate(116 242 938)" opacity="0.64"/><ellipse cx="336" cy="948" rx="6.9" ry="6.0" transform="rotate(144 336 948)" opacity="0.77"/><ellipse cx="332" cy="852" rx="8.0" ry="5.4" transform="rotate(27 332 852)" opacity="0.96"/><ellipse cx="278" cy="937" rx="6.2" ry="4.1" transform="rotate(150 278 937)" opacity="0.71"/><ellipse cx="309" cy="941" rx="6.9" ry="5.0" transform="rotate(162 309 941)" opacity="0.93"/><ellipse cx="397" cy="985" rx="6.9" ry="4.5" transform="rotate(131 397 985)" opacity="0.83"/><ellipse cx="309" cy="990" rx="6.2" ry="5.1" transform="rotate(57 309 990)" opacity="0.56"/><ellipse cx="268" cy="891" rx="6.2" ry="5.6" transform="rotate(23 268 891)" opacity="0.86"/><ellipse cx="218" cy="682" rx="6.8" ry="4.3" transform="rotate(110 218 682)" opacity="0.73"/><ellipse cx="216" cy="784" rx="9.5" ry="6.6" transform="rotate(65 216 784)" opacity="0.91"/><ellipse cx="218" cy="812" rx="5.5" ry="4.4" transform="rotate(148 218 812)" opacity="0.89"/><ellipse cx="193" cy="789" rx="6.4" ry="5.3" transform="rotate(127 193 789)" opacity="0.98"/><ellipse cx="241" cy="835" rx="5.6" ry="4.7" transform="rotate(154 241 835)" opacity="0.96"/><ellipse cx="213" cy="686" rx="9.3" ry="6.4" transform="rotate(108 213 686)" opacity="0.82"/><ellipse cx="219" cy="758" rx="6.4" ry="5.1" transform="rotate(172 219 758)" opacity="0.78"/><ellipse cx="217" cy="847" rx="7.2" ry="5.7" transform="rotate(24 217 847)" opacity="0.77"/><ellipse cx="262" cy="720" rx="7.6" ry="5.1" transform="rotate(153 262 720)" opacity="0.80"/><ellipse cx="187" cy="706" rx="4.5" ry="4.3" transform="rotate(65 187 706)" opacity="0.97"/><ellipse cx="184" cy="824" rx="8.8" ry="5.7" transform="rotate(171 184 824)" opacity="0.80"/><ellipse cx="298" cy="763" rx="6.7" ry="5.2" transform="rotate(57 298 763)" opacity="0.81"/><ellipse cx="206" cy="672" rx="10.4" ry="6.5" transform="rotate(71 206 672)" opacity="0.99"/><ellipse cx="266" cy="667" rx="6.1" ry="5.8" transform="rotate(83 266 667)" opacity="1.00"/><ellipse cx="181" cy="805" rx="5.1" ry="4.6" transform="rotate(67 181 805)" opacity="1.00"/><ellipse cx="263" cy="801" rx="6.5" ry="5.9" transform="rotate(117 263 801)" opacity="0.73"/><ellipse cx="182" cy="675" rx="6.7" ry="4.7" transform="rotate(140 182 675)" opacity="0.94"/><ellipse cx="272" cy="800" rx="6.3" ry="4.0" transform="rotate(161 272 800)" opacity="0.96"/><ellipse cx="276" cy="759" rx="5.8" ry="5.4" transform="rotate(142 276 759)" opacity="0.86"/><ellipse cx="218" cy="823" rx="4.7" ry="4.3" transform="rotate(16 218 823)" opacity="0.87"/><ellipse cx="198" cy="746" rx="7.5" ry="6.0" transform="rotate(10 198 746)" opacity="0.77"/><ellipse cx="245" cy="820" rx="8.2" ry="5.5" transform="rotate(19 245 820)" opacity="0.84"/><ellipse cx="250" cy="720" rx="8.1" ry="6.5" transform="rotate(110 250 720)" opacity="0.86"/><ellipse cx="311" cy="624" rx="5.5" ry="5.1" transform="rotate(147 311 624)" opacity="0.70"/><ellipse cx="228" cy="648" rx="4.5" ry="4.4" transform="rotate(20 228 648)" opacity="0.86"/><ellipse cx="198" cy="911" rx="5.8" ry="5.7" transform="rotate(75 198 911)" opacity="0.95"/><ellipse cx="266" cy="774" rx="5.1" ry="4.3" transform="rotate(88 266 774)" opacity="0.98"/><ellipse cx="182" cy="638" rx="8.4" ry="6.5" transform="rotate(163 182 638)" opacity="0.87"/><ellipse cx="205" cy="784" rx="7.2" ry="5.9" transform="rotate(77 205 784)" opacity="0.78"/><ellipse cx="193" cy="759" rx="5.3" ry="5.1" transform="rotate(150 193 759)" opacity="0.84"/><ellipse cx="286" cy="780" rx="6.1" ry="5.4" transform="rotate(18 286 780)" opacity="0.82"/><ellipse cx="208" cy="791" rx="7.6" ry="5.3" transform="rotate(88 208 791)" opacity="0.77"/><ellipse cx="281" cy="754" rx="8.8" ry="6.5" transform="rotate(173 281 754)" opacity="0.70"/><ellipse cx="195" cy="816" rx="6.8" ry="5.0" transform="rotate(106 195 816)" opacity="0.79"/><ellipse cx="214" cy="820" rx="5.5" ry="5.3" transform="rotate(17 214 820)" opacity="0.93"/><ellipse cx="235" cy="802" rx="9.2" ry="6.1" transform="rotate(72 235 802)" opacity="0.83"/><ellipse cx="220" cy="846" rx="6.3" ry="4.2" transform="rotate(59 220 846)" opacity="1.00"/><ellipse cx="201" cy="860" rx="6.3" ry="6.0" transform="rotate(137 201 860)" opacity="0.89"/><ellipse cx="295" cy="777" rx="7.5" ry="5.4" transform="rotate(4 295 777)" opacity="0.98"/><ellipse cx="304" cy="706" rx="7.9" ry="5.5" transform="rotate(75 304 706)" opacity="0.70"/><ellipse cx="180" cy="581" rx="9.4" ry="6.4" transform="rotate(79 180 581)" opacity="0.72"/><ellipse cx="235" cy="687" rx="5.5" ry="5.2" transform="rotate(58 235 687)" opacity="0.83"/><ellipse cx="233" cy="725" rx="6.0" ry="4.3" transform="rotate(99 233 725)" opacity="0.95"/><ellipse cx="252" cy="771" rx="6.4" ry="4.8" transform="rotate(166 252 771)" opacity="0.99"/><ellipse cx="246" cy="815" rx="5.8" ry="5.4" transform="rotate(157 246 815)" opacity="0.95"/><ellipse cx="224" cy="753" rx="7.2" ry="5.1" transform="rotate(167 224 753)" opacity="0.81"/><ellipse cx="166" cy="754" rx="5.3" ry="5.0" transform="rotate(134 166 754)" opacity="0.93"/><ellipse cx="265" cy="825" rx="5.0" ry="4.5" transform="rotate(63 265 825)" opacity="0.80"/><ellipse cx="189" cy="707" rx="7.5" ry="5.0" transform="rotate(64 189 707)" opacity="0.87"/><ellipse cx="190" cy="713" rx="9.3" ry="6.5" transform="rotate(42 190 713)" opacity="0.80"/><ellipse cx="230" cy="855" rx="5.7" ry="5.5" transform="rotate(148 230 855)" opacity="0.78"/><ellipse cx="184" cy="822" rx="6.8" ry="5.1" transform="rotate(176 184 822)" opacity="0.89"/><ellipse cx="277" cy="711" rx="7.6" ry="5.3" transform="rotate(18 277 711)" opacity="0.77"/><ellipse cx="205" cy="868" rx="5.5" ry="4.1" transform="rotate(99 205 868)" opacity="0.91"/><ellipse cx="222" cy="782" rx="9.6" ry="6.5" transform="rotate(18 222 782)" opacity="0.93"/><ellipse cx="242" cy="705" rx="6.2" ry="4.5" transform="rotate(22 242 705)" opacity="0.86"/><ellipse cx="241" cy="664" rx="9.0" ry="6.3" transform="rotate(66 241 664)" opacity="0.98"/><ellipse cx="303" cy="719" rx="6.8" ry="4.8" transform="rotate(48 303 719)" opacity="0.96"/><ellipse cx="235" cy="763" rx="6.3" ry="5.4" transform="rotate(46 235 763)" opacity="0.78"/><ellipse cx="270" cy="805" rx="5.5" ry="4.7" transform="rotate(92 270 805)" opacity="0.79"/><ellipse cx="254" cy="723" rx="8.5" ry="6.2" transform="rotate(98 254 723)" opacity="0.96"/><ellipse cx="229" cy="670" rx="8.4" ry="5.7" transform="rotate(47 229 670)" opacity="0.98"/><ellipse cx="335" cy="801" rx="5.6" ry="4.9" transform="rotate(82 335 801)" opacity="0.94"/><ellipse cx="185" cy="826" rx="8.6" ry="6.5" transform="rotate(63 185 826)" opacity="0.85"/><ellipse cx="247" cy="908" rx="6.0" ry="4.3" transform="rotate(13 247 908)" opacity="0.98"/><ellipse cx="252" cy="733" rx="8.7" ry="5.5" transform="rotate(56 252 733)" opacity="0.74"/><ellipse cx="246" cy="733" rx="5.8" ry="5.7" transform="rotate(103 246 733)" opacity="0.72"/><ellipse cx="303" cy="739" rx="8.2" ry="6.2" transform="rotate(14 303 739)" opacity="0.94"/><ellipse cx="207" cy="743" rx="7.0" ry="5.4" transform="rotate(36 207 743)" opacity="0.81"/><ellipse cx="222" cy="685" rx="6.8" ry="5.3" transform="rotate(100 222 685)" opacity="0.72"/><ellipse cx="292" cy="736" rx="5.2" ry="4.4" transform="rotate(126 292 736)" opacity="0.79"/><ellipse cx="349" cy="683" rx="9.8" ry="6.5" transform="rotate(168 349 683)" opacity="0.98"/><ellipse cx="287" cy="760" rx="7.6" ry="5.5" transform="rotate(110 287 760)" opacity="0.91"/><ellipse cx="252" cy="739" rx="5.5" ry="5.4" transform="rotate(20 252 739)" opacity="0.99"/><ellipse cx="312" cy="630" rx="6.1" ry="4.1" transform="rotate(124 312 630)" opacity="0.71"/><ellipse cx="176" cy="739" rx="6.0" ry="6.0" transform="rotate(12 176 739)" opacity="0.94"/><ellipse cx="269" cy="580" rx="7.4" ry="6.2" transform="rotate(62 269 580)" opacity="0.82"/><ellipse cx="312" cy="760" rx="6.2" ry="4.7" transform="rotate(60 312 760)" opacity="0.88"/><ellipse cx="212" cy="686" rx="5.1" ry="4.6" transform="rotate(27 212 686)" opacity="0.96"/><ellipse cx="234" cy="824" rx="6.9" ry="6.0" transform="rotate(118 234 824)" opacity="0.80"/><ellipse cx="231" cy="829" rx="5.2" ry="4.7" transform="rotate(42 231 829)" opacity="0.96"/><ellipse cx="222" cy="805" rx="8.7" ry="5.9" transform="rotate(97 222 805)" opacity="0.90"/><ellipse cx="302" cy="802" rx="5.8" ry="4.6" transform="rotate(178 302 802)" opacity="0.77"/><ellipse cx="206" cy="794" rx="7.8" ry="6.4" transform="rotate(24 206 794)" opacity="1.00"/><ellipse cx="254" cy="640" rx="6.0" ry="4.9" transform="rotate(52 254 640)" opacity="0.94"/><ellipse cx="173" cy="691" rx="5.3" ry="5.2" transform="rotate(90 173 691)" opacity="0.95"/><ellipse cx="223" cy="766" rx="7.2" ry="6.4" transform="rotate(158 223 766)" opacity="0.74"/><ellipse cx="336" cy="713" rx="5.3" ry="4.9" transform="rotate(129 336 713)" opacity="0.98"/><ellipse cx="263" cy="736" rx="6.7" ry="4.4" transform="rotate(131 263 736)" opacity="0.90"/><ellipse cx="282" cy="728" rx="5.8" ry="5.0" transform="rotate(169 282 728)" opacity="0.74"/><ellipse cx="261" cy="768" rx="5.8" ry="4.9" transform="rotate(33 261 768)" opacity="0.71"/><ellipse cx="274" cy="805" rx="7.9" ry="5.4" transform="rotate(95 274 805)" opacity="0.87"/><ellipse cx="253" cy="741" rx="5.4" ry="4.6" transform="rotate(137 253 741)" opacity="0.72"/><ellipse cx="282" cy="715" rx="5.9" ry="4.4" transform="rotate(53 282 715)" opacity="0.80"/><ellipse cx="267" cy="582" rx="7.8" ry="5.2" transform="rotate(84 267 582)" opacity="0.88"/><ellipse cx="274" cy="895" rx="9.5" ry="6.5" transform="rotate(72 274 895)" opacity="0.71"/><ellipse cx="260" cy="762" rx="5.0" ry="4.4" transform="rotate(4 260 762)" opacity="0.92"/><ellipse cx="250" cy="864" rx="6.8" ry="5.3" transform="rotate(33 250 864)" opacity="0.90"/><ellipse cx="273" cy="755" rx="5.6" ry="4.1" transform="rotate(66 273 755)" opacity="0.78"/><ellipse cx="173" cy="765" rx="7.4" ry="4.8" transform="rotate(105 173 765)" opacity="0.81"/><ellipse cx="186" cy="790" rx="8.0" ry="5.2" transform="rotate(42 186 790)" opacity="0.80"/><ellipse cx="316" cy="700" rx="8.2" ry="6.3" transform="rotate(177 316 700)" opacity="0.75"/><ellipse cx="228" cy="789" rx="7.9" ry="5.9" transform="rotate(28 228 789)" opacity="0.77"/><ellipse cx="270" cy="733" rx="5.1" ry="4.3" transform="rotate(101 270 733)" opacity="0.91"/><ellipse cx="133" cy="753" rx="5.3" ry="5.3" transform="rotate(89 133 753)" opacity="0.81"/><ellipse cx="228" cy="834" rx="5.9" ry="5.6" transform="rotate(90 228 834)" opacity="0.84"/><ellipse cx="171" cy="761" rx="8.3" ry="6.5" transform="rotate(15 171 761)" opacity="0.78"/><ellipse cx="245" cy="705" rx="7.1" ry="6.2" transform="rotate(163 245 705)" opacity="0.94"/><ellipse cx="188" cy="748" rx="7.0" ry="5.4" transform="rotate(87 188 748)" opacity="0.98"/><ellipse cx="213" cy="871" rx="5.9" ry="5.3" transform="rotate(39 213 871)" opacity="0.80"/><ellipse cx="276" cy="649" rx="9.2" ry="6.5" transform="rotate(144 276 649)" opacity="0.98"/><ellipse cx="215" cy="635" rx="9.1" ry="6.1" transform="rotate(55 215 635)" opacity="0.75"/><ellipse cx="239" cy="896" rx="4.9" ry="4.1" transform="rotate(143 239 896)" opacity="0.85"/><ellipse cx="159" cy="658" rx="6.7" ry="6.4" transform="rotate(120 159 658)" opacity="0.89"/><ellipse cx="334" cy="867" rx="7.0" ry="6.3" transform="rotate(125 334 867)" opacity="0.79"/><ellipse cx="242" cy="562" rx="8.1" ry="5.6" transform="rotate(11 242 562)" opacity="0.74"/><ellipse cx="287" cy="668" rx="8.1" ry="6.0" transform="rotate(170 287 668)" opacity="0.96"/><ellipse cx="201" cy="692" rx="5.1" ry="5.0" transform="rotate(29 201 692)" opacity="0.81"/><ellipse cx="244" cy="705" rx="8.1" ry="5.7" transform="rotate(93 244 705)" opacity="0.93"/><ellipse cx="221" cy="797" rx="6.3" ry="4.5" transform="rotate(170 221 797)" opacity="0.89"/><ellipse cx="185" cy="880" rx="10.0" ry="6.4" transform="rotate(111 185 880)" opacity="0.79"/><ellipse cx="310" cy="724" rx="6.4" ry="4.9" transform="rotate(88 310 724)" opacity="0.78"/><ellipse cx="322" cy="779" rx="7.8" ry="5.4" transform="rotate(45 322 779)" opacity="0.84"/><ellipse cx="254" cy="831" rx="4.8" ry="4.6" transform="rotate(9 254 831)" opacity="0.80"/><ellipse cx="201" cy="813" rx="8.1" ry="6.5" transform="rotate(73 201 813)" opacity="0.89"/><ellipse cx="240" cy="823" rx="8.2" ry="6.5" transform="rotate(123 240 823)" opacity="0.74"/><ellipse cx="239" cy="668" rx="8.7" ry="5.7" transform="rotate(45 239 668)" opacity="0.98"/><ellipse cx="85" cy="693" rx="7.8" ry="5.4" transform="rotate(10 85 693)" opacity="0.76"/><ellipse cx="268" cy="817" rx="6.8" ry="4.7" transform="rotate(57 268 817)" opacity="0.92"/><ellipse cx="242" cy="657" rx="7.3" ry="5.8" transform="rotate(19 242 657)" opacity="0.84"/><ellipse cx="136" cy="537" rx="5.9" ry="4.2" transform="rotate(79 136 537)" opacity="0.67"/><ellipse cx="164" cy="595" rx="6.8" ry="5.5" transform="rotate(117 164 595)" opacity="0.88"/><ellipse cx="85" cy="475" rx="4.4" ry="4.1" transform="rotate(10 85 475)" opacity="0.87"/><ellipse cx="109" cy="552" rx="5.4" ry="4.2" transform="rotate(19 109 552)" opacity="0.73"/><ellipse cx="232" cy="516" rx="6.3" ry="5.3" transform="rotate(177 232 516)" opacity="0.81"/><ellipse cx="157" cy="585" rx="6.0" ry="4.6" transform="rotate(74 157 585)" opacity="0.94"/><ellipse cx="19" cy="624" rx="6.7" ry="4.7" transform="rotate(81 19 624)" opacity="0.91"/><ellipse cx="77" cy="598" rx="7.1" ry="5.2" transform="rotate(74 77 598)" opacity="0.69"/><ellipse cx="86" cy="647" rx="7.9" ry="5.2" transform="rotate(82 86 647)" opacity="0.76"/><ellipse cx="29" cy="640" rx="8.1" ry="6.5" transform="rotate(121 29 640)" opacity="0.90"/><ellipse cx="117" cy="500" rx="8.2" ry="5.9" transform="rotate(120 117 500)" opacity="0.98"/><ellipse cx="40" cy="585" rx="6.1" ry="4.6" transform="rotate(176 40 585)" opacity="0.90"/><ellipse cx="68" cy="629" rx="5.9" ry="4.0" transform="rotate(47 68 629)" opacity="0.74"/><ellipse cx="88" cy="522" rx="5.6" ry="5.0" transform="rotate(164 88 522)" opacity="1.00"/><ellipse cx="194" cy="579" rx="7.6" ry="6.1" transform="rotate(106 194 579)" opacity="0.93"/><ellipse cx="96" cy="451" rx="6.8" ry="5.9" transform="rotate(127 96 451)" opacity="0.81"/><ellipse cx="50" cy="522" rx="9.6" ry="6.6" transform="rotate(58 50 522)" opacity="0.61"/><ellipse cx="98" cy="405" rx="6.2" ry="4.7" transform="rotate(89 98 405)" opacity="0.81"/><ellipse cx="162" cy="623" rx="7.4" ry="6.3" transform="rotate(145 162 623)" opacity="0.85"/><ellipse cx="91" cy="566" rx="7.3" ry="5.6" transform="rotate(178 91 566)" opacity="0.76"/><ellipse cx="59" cy="631" rx="5.9" ry="4.2" transform="rotate(124 59 631)" opacity="0.69"/><ellipse cx="148" cy="498" rx="6.2" ry="4.7" transform="rotate(4 148 498)" opacity="0.71"/><ellipse cx="58" cy="612" rx="6.7" ry="4.4" transform="rotate(168 58 612)" opacity="0.69"/><ellipse cx="120" cy="588" rx="6.4" ry="4.3" transform="rotate(133 120 588)" opacity="0.59"/><ellipse cx="114" cy="619" rx="8.7" ry="5.8" transform="rotate(155 114 619)" opacity="0.56"/><ellipse cx="143" cy="641" rx="8.9" ry="5.8" transform="rotate(39 143 641)" opacity="0.70"/><ellipse cx="69" cy="558" rx="6.9" ry="5.1" transform="rotate(110 69 558)" opacity="0.92"/><ellipse cx="163" cy="547" rx="5.0" ry="4.6" transform="rotate(174 163 547)" opacity="0.83"/><ellipse cx="37" cy="774" rx="7.9" ry="5.1" transform="rotate(122 37 774)" opacity="0.63"/><ellipse cx="78" cy="769" rx="8.9" ry="5.8" transform="rotate(157 78 769)" opacity="0.39"/><ellipse cx="66" cy="776" rx="4.7" ry="4.6" transform="rotate(125 66 776)" opacity="0.59"/><ellipse cx="131" cy="764" rx="5.7" ry="5.4" transform="rotate(8 131 764)" opacity="0.53"/><ellipse cx="77" cy="731" rx="4.5" ry="4.1" transform="rotate(49 77 731)" opacity="0.58"/><ellipse cx="29" cy="640" rx="5.7" ry="4.8" transform="rotate(101 29 640)" opacity="0.49"/><ellipse cx="37" cy="765" rx="5.4" ry="4.6" transform="rotate(3 37 765)" opacity="0.42"/><ellipse cx="40" cy="795" rx="7.1" ry="4.7" transform="rotate(84 40 795)" opacity="0.35"/><ellipse cx="26" cy="716" rx="8.7" ry="6.3" transform="rotate(119 26 716)" opacity="0.60"/><ellipse cx="43" cy="654" rx="6.6" ry="5.1" transform="rotate(84 43 654)" opacity="0.46"/><ellipse cx="11" cy="707" rx="6.9" ry="6.1" transform="rotate(4 11 707)" opacity="0.66"/><ellipse cx="57" cy="734" rx="7.1" ry="6.1" transform="rotate(34 57 734)" opacity="0.55"/><ellipse cx="112" cy="636" rx="8.4" ry="5.8" transform="rotate(82 112 636)" opacity="0.58"/><ellipse cx="19" cy="766" rx="9.7" ry="6.3" transform="rotate(150 19 766)" opacity="0.70"/><ellipse cx="87" cy="740" rx="8.5" ry="6.5" transform="rotate(56 87 740)" opacity="0.52"/><ellipse cx="91" cy="665" rx="10.5" ry="6.6" transform="rotate(2 91 665)" opacity="0.33"/><ellipse cx="84" cy="768" rx="7.6" ry="5.7" transform="rotate(169 84 768)" opacity="0.34"/><ellipse cx="16" cy="677" rx="6.9" ry="4.5" transform="rotate(121 16 677)" opacity="0.49"/><ellipse cx="69" cy="784" rx="7.3" ry="5.4" transform="rotate(114 69 784)" opacity="0.43"/><ellipse cx="88" cy="725" rx="6.0" ry="5.7" transform="rotate(137 88 725)" opacity="0.39"/><ellipse cx="9" cy="850" rx="7.5" ry="5.5" transform="rotate(47 9 850)" opacity="0.34"/><ellipse cx="85" cy="631" rx="6.1" ry="6.0" transform="rotate(144 85 631)" opacity="0.32"/><ellipse cx="386" cy="464" rx="8.2" ry="6.0" transform="rotate(100 386 464)" opacity="1.00"/><ellipse cx="308" cy="497" rx="8.4" ry="6.0" transform="rotate(100 308 497)" opacity="1.00"/><ellipse cx="368" cy="526" rx="6.4" ry="6.0" transform="rotate(79 368 526)" opacity="1.00"/><ellipse cx="391" cy="550" rx="9.2" ry="6.0" transform="rotate(170 391 550)" opacity="1.00"/><ellipse cx="83" cy="421" rx="6.7" ry="6.0" transform="rotate(14 83 421)" opacity="1.00"/><ellipse cx="170" cy="430" rx="7.9" ry="6.0" transform="rotate(31 170 430)" opacity="1.00"/><ellipse cx="184" cy="488" rx="8.3" ry="6.0" transform="rotate(108 184 488)" opacity="1.00"/><ellipse cx="120" cy="502" rx="8.2" ry="6.0" transform="rotate(86 120 502)" opacity="1.00"/><ellipse cx="101" cy="535" rx="8.2" ry="6.0" transform="rotate(53 101 535)" opacity="1.00"/><ellipse cx="14" cy="540" rx="7.7" ry="6.0" transform="rotate(124 14 540)" opacity="1.00"/><ellipse cx="87" cy="564" rx="6.8" ry="6.0" transform="rotate(132 87 564)" opacity="1.00"/><ellipse cx="147" cy="564" rx="8.1" ry="6.0" transform="rotate(175 147 564)" opacity="1.00"/><ellipse cx="235" cy="559" rx="8.2" ry="6.0" transform="rotate(99 235 559)" opacity="1.00"/><ellipse cx="267" cy="554" rx="8.8" ry="6.0" transform="rotate(52 267 554)" opacity="1.00"/><ellipse cx="327" cy="602" rx="7.3" ry="6.0" transform="rotate(78 327 602)" opacity="1.00"/><ellipse cx="354" cy="612" rx="8.6" ry="6.0" transform="rotate(129 354 612)" opacity="1.00"/><ellipse cx="386" cy="669" rx="6.7" ry="6.0" transform="rotate(172 386 669)" opacity="1.00"/><ellipse cx="405" cy="774" rx="9.5" ry="6.0" transform="rotate(89 405 774)" opacity="1.00"/><ellipse cx="354" cy="942" rx="8.8" ry="6.0" transform="rotate(79 354 942)" opacity="1.00"/><ellipse cx="304" cy="966" rx="8.7" ry="6.0" transform="rotate(109 304 966)" opacity="1.00"/><ellipse cx="138" cy="880" rx="8.3" ry="6.0" transform="rotate(99 138 880)" opacity="1.00"/></g><g id="cl_mid" fill="#2af22a"><ellipse cx="478" cy="463" rx="5.2" ry="4.1" transform="rotate(172 478 463)" opacity="0.62"/><ellipse cx="455" cy="467" rx="8.5" ry="6.2" transform="rotate(111 455 467)" opacity="0.63"/><ellipse cx="473" cy="447" rx="8.2" ry="5.5" transform="rotate(45 473 447)" opacity="0.72"/><ellipse cx="461" cy="434" rx="6.0" ry="5.3" transform="rotate(50 461 434)" opacity="0.99"/><ellipse cx="504" cy="431" rx="4.8" ry="4.2" transform="rotate(52 504 431)" opacity="0.63"/><ellipse cx="491" cy="418" rx="9.0" ry="6.5" transform="rotate(69 491 418)" opacity="0.85"/><ellipse cx="458" cy="421" rx="5.1" ry="4.2" transform="rotate(96 458 421)" opacity="0.77"/><ellipse cx="472" cy="452" rx="7.9" ry="6.6" transform="rotate(27 472 452)" opacity="0.72"/><ellipse cx="409" cy="420" rx="5.8" ry="4.5" transform="rotate(138 409 420)" opacity="0.78"/><ellipse cx="445" cy="443" rx="4.7" ry="4.5" transform="rotate(156 445 443)" opacity="0.88"/><ellipse cx="484" cy="453" rx="7.2" ry="5.2" transform="rotate(134 484 453)" opacity="0.93"/><ellipse cx="468" cy="410" rx="4.5" ry="4.1" transform="rotate(29 468 410)" opacity="0.92"/><ellipse cx="472" cy="451" rx="6.6" ry="6.3" transform="rotate(8 472 451)" opacity="0.72"/><ellipse cx="488" cy="422" rx="6.8" ry="6.4" transform="rotate(52 488 422)" opacity="0.57"/><ellipse cx="470" cy="461" rx="5.0" ry="4.5" transform="rotate(30 470 461)" opacity="0.84"/><ellipse cx="437" cy="445" rx="5.7" ry="4.4" transform="rotate(70 437 445)" opacity="0.81"/><ellipse cx="457" cy="451" rx="6.7" ry="5.6" transform="rotate(2 457 451)" opacity="0.64"/><ellipse cx="495" cy="428" rx="7.9" ry="5.0" transform="rotate(24 495 428)" opacity="0.79"/><ellipse cx="430" cy="476" rx="7.7" ry="5.0" transform="rotate(7 430 476)" opacity="0.87"/><ellipse cx="460" cy="470" rx="8.4" ry="6.0" transform="rotate(166 460 470)" opacity="0.90"/><ellipse cx="477" cy="473" rx="6.6" ry="6.2" transform="rotate(176 477 473)" opacity="0.89"/><ellipse cx="461" cy="400" rx="7.8" ry="4.9" transform="rotate(162 461 400)" opacity="0.82"/><ellipse cx="465" cy="382" rx="7.2" ry="6.0" transform="rotate(68 465 382)" opacity="1.00"/><ellipse cx="451" cy="421" rx="8.1" ry="6.0" transform="rotate(44 451 421)" opacity="1.00"/><ellipse cx="432" cy="440" rx="8.3" ry="6.0" transform="rotate(156 432 440)" opacity="1.00"/><ellipse cx="469" cy="449" rx="8.6" ry="6.0" transform="rotate(41 469 449)" opacity="1.00"/><ellipse cx="478" cy="468" rx="6.1" ry="6.0" transform="rotate(66 478 468)" opacity="1.00"/><ellipse cx="534" cy="454" rx="7.6" ry="6.0" transform="rotate(152 534 454)" opacity="1.00"/><ellipse cx="552" cy="421" rx="8.0" ry="6.0" transform="rotate(93 552 421)" opacity="1.00"/><ellipse cx="437" cy="516" rx="8.0" ry="6.0" transform="rotate(42 437 516)" opacity="1.00"/><ellipse cx="423" cy="574" rx="7.1" ry="6.0" transform="rotate(103 423 574)" opacity="1.00"/><ellipse cx="478" cy="583" rx="7.9" ry="6.0" transform="rotate(82 478 583)" opacity="1.00"/><ellipse cx="534" cy="550" rx="6.6" ry="6.0" transform="rotate(142 534 550)" opacity="1.00"/><ellipse cx="575" cy="574" rx="6.3" ry="6.0" transform="rotate(41 575 574)" opacity="1.00"/></g><g id="cl_tr" fill="#2af22a"><ellipse cx="731" cy="132" rx="9.2" ry="6.6" transform="rotate(173 731 132)" opacity="0.72"/><ellipse cx="930" cy="310" rx="8.0" ry="5.5" transform="rotate(11 930 310)" opacity="0.37"/><ellipse cx="835" cy="171" rx="5.4" ry="4.8" transform="rotate(81 835 171)" opacity="0.60"/><ellipse cx="874" cy="325" rx="8.8" ry="5.8" transform="rotate(36 874 325)" opacity="0.39"/><ellipse cx="812" cy="198" rx="4.0" ry="4.0" transform="rotate(59 812 198)" opacity="0.30"/><ellipse cx="841" cy="534" rx="8.1" ry="5.7" transform="rotate(42 841 534)" opacity="0.33"/><ellipse cx="753" cy="249" rx="7.8" ry="6.2" transform="rotate(57 753 249)" opacity="0.77"/><ellipse cx="825" cy="282" rx="8.4" ry="5.9" transform="rotate(27 825 282)" opacity="0.53"/><ellipse cx="912" cy="362" rx="5.5" ry="4.4" transform="rotate(33 912 362)" opacity="0.32"/><ellipse cx="867" cy="101" rx="6.0" ry="5.8" transform="rotate(18 867 101)" opacity="0.78"/><ellipse cx="967" cy="255" rx="8.2" ry="6.1" transform="rotate(154 967 255)" opacity="0.64"/><ellipse cx="853" cy="265" rx="6.4" ry="5.7" transform="rotate(5 853 265)" opacity="0.31"/><ellipse cx="895" cy="261" rx="7.3" ry="5.4" transform="rotate(148 895 261)" opacity="0.36"/><ellipse cx="857" cy="272" rx="8.8" ry="5.7" transform="rotate(100 857 272)" opacity="0.66"/><ellipse cx="741" cy="132" rx="6.8" ry="5.8" transform="rotate(139 741 132)" opacity="0.79"/><ellipse cx="820" cy="147" rx="4.7" ry="4.0" transform="rotate(108 820 147)" opacity="0.54"/><ellipse cx="785" cy="223" rx="5.7" ry="4.2" transform="rotate(123 785 223)" opacity="0.37"/><ellipse cx="858" cy="337" rx="6.6" ry="5.3" transform="rotate(166 858 337)" opacity="0.70"/><ellipse cx="800" cy="240" rx="8.4" ry="5.2" transform="rotate(8 800 240)" opacity="0.48"/><ellipse cx="854" cy="254" rx="6.3" ry="5.8" transform="rotate(76 854 254)" opacity="0.38"/><ellipse cx="771" cy="128" rx="6.3" ry="5.2" transform="rotate(160 771 128)" opacity="0.45"/><ellipse cx="883" cy="245" rx="6.8" ry="6.3" transform="rotate(24 883 245)" opacity="0.54"/><ellipse cx="983" cy="124" rx="4.7" ry="4.2" transform="rotate(80 983 124)" opacity="0.64"/><ellipse cx="860" cy="210" rx="7.0" ry="6.4" transform="rotate(140 860 210)" opacity="0.47"/><ellipse cx="897" cy="247" rx="8.8" ry="5.7" transform="rotate(142 897 247)" opacity="0.54"/><ellipse cx="887" cy="259" rx="6.6" ry="5.6" transform="rotate(165 887 259)" opacity="0.54"/><ellipse cx="910" cy="369" rx="6.6" ry="4.2" transform="rotate(111 910 369)" opacity="0.76"/><ellipse cx="825" cy="375" rx="6.5" ry="6.3" transform="rotate(91 825 375)" opacity="0.70"/><ellipse cx="944" cy="327" rx="7.4" ry="6.5" transform="rotate(99 944 327)" opacity="0.73"/><ellipse cx="860" cy="285" rx="7.1" ry="5.9" transform="rotate(76 860 285)" opacity="0.68"/><ellipse cx="837" cy="78" rx="5.5" ry="5.2" transform="rotate(31 837 78)" opacity="0.36"/><ellipse cx="923" cy="126" rx="6.9" ry="5.7" transform="rotate(32 923 126)" opacity="0.48"/><ellipse cx="988" cy="208" rx="5.9" ry="4.3" transform="rotate(110 988 208)" opacity="0.65"/><ellipse cx="894" cy="94" rx="7.8" ry="6.3" transform="rotate(117 894 94)" opacity="0.78"/><ellipse cx="822" cy="303" rx="6.0" ry="5.0" transform="rotate(63 822 303)" opacity="0.62"/><ellipse cx="962" cy="83" rx="7.1" ry="5.8" transform="rotate(116 962 83)" opacity="0.72"/><ellipse cx="879" cy="317" rx="6.6" ry="4.3" transform="rotate(54 879 317)" opacity="0.70"/><ellipse cx="851" cy="265" rx="6.7" ry="4.4" transform="rotate(15 851 265)" opacity="0.62"/><ellipse cx="876" cy="399" rx="5.6" ry="4.6" transform="rotate(85 876 399)" opacity="0.74"/><ellipse cx="900" cy="309" rx="7.3" ry="5.1" transform="rotate(5 900 309)" opacity="0.44"/><ellipse cx="787" cy="92" rx="5.2" ry="4.8" transform="rotate(14 787 92)" opacity="0.40"/><ellipse cx="908" cy="99" rx="5.5" ry="4.0" transform="rotate(57 908 99)" opacity="0.53"/><ellipse cx="962" cy="253" rx="6.0" ry="4.9" transform="rotate(166 962 253)" opacity="0.79"/><ellipse cx="951" cy="134" rx="4.6" ry="4.3" transform="rotate(100 951 134)" opacity="0.70"/><ellipse cx="909" cy="255" rx="8.1" ry="5.1" transform="rotate(104 909 255)" opacity="0.38"/><ellipse cx="886" cy="86" rx="7.3" ry="5.2" transform="rotate(28 886 86)" opacity="0.69"/><ellipse cx="799" cy="211" rx="7.5" ry="5.3" transform="rotate(103 799 211)" opacity="0.66"/><ellipse cx="916" cy="49" rx="4.4" ry="4.2" transform="rotate(29 916 49)" opacity="0.37"/><ellipse cx="947" cy="208" rx="6.9" ry="5.1" transform="rotate(50 947 208)" opacity="0.53"/><ellipse cx="893" cy="142" rx="6.2" ry="6.2" transform="rotate(99 893 142)" opacity="0.70"/><ellipse cx="787" cy="153" rx="6.4" ry="6.0" transform="rotate(7 787 153)" opacity="1.00"/><ellipse cx="810" cy="167" rx="8.2" ry="6.0" transform="rotate(44 810 167)" opacity="1.00"/><ellipse cx="713" cy="201" rx="6.4" ry="6.0" transform="rotate(140 713 201)" opacity="1.00"/><ellipse cx="787" cy="206" rx="6.5" ry="6.0" transform="rotate(136 787 206)" opacity="1.00"/><ellipse cx="676" cy="315" rx="7.0" ry="6.0" transform="rotate(65 676 315)" opacity="1.00"/><ellipse cx="754" cy="315" rx="9.4" ry="6.0" transform="rotate(149 754 315)" opacity="1.00"/><ellipse cx="810" cy="315" rx="9.0" ry="6.0" transform="rotate(176 810 315)" opacity="1.00"/><ellipse cx="892" cy="382" rx="8.2" ry="6.0" transform="rotate(168 892 382)" opacity="1.00"/><ellipse cx="957" cy="387" rx="8.2" ry="6.0" transform="rotate(105 957 387)" opacity="1.00"/></g><g id="cl_br" fill="#2af22a"><ellipse cx="918" cy="843" rx="8.4" ry="6.0" transform="rotate(74 918 843)" opacity="0.82"/><ellipse cx="835" cy="814" rx="7.3" ry="5.2" transform="rotate(19 835 814)" opacity="0.67"/><ellipse cx="901" cy="855" rx="5.4" ry="5.4" transform="rotate(178 901 855)" opacity="0.81"/><ellipse cx="905" cy="761" rx="7.0" ry="4.4" transform="rotate(32 905 761)" opacity="0.92"/><ellipse cx="879" cy="691" rx="6.9" ry="6.4" transform="rotate(30 879 691)" opacity="0.64"/><ellipse cx="890" cy="969" rx="6.9" ry="6.4" transform="rotate(63 890 969)" opacity="0.76"/><ellipse cx="880" cy="921" rx="7.4" ry="5.9" transform="rotate(82 880 921)" opacity="0.90"/><ellipse cx="818" cy="833" rx="7.4" ry="5.2" transform="rotate(59 818 833)" opacity="0.86"/><ellipse cx="844" cy="804" rx="5.0" ry="4.1" transform="rotate(6 844 804)" opacity="0.72"/><ellipse cx="930" cy="855" rx="6.6" ry="6.4" transform="rotate(57 930 855)" opacity="0.93"/><ellipse cx="840" cy="864" rx="6.5" ry="4.4" transform="rotate(69 840 864)" opacity="0.82"/><ellipse cx="888" cy="850" rx="4.6" ry="4.0" transform="rotate(130 888 850)" opacity="0.89"/><ellipse cx="881" cy="792" rx="6.6" ry="4.5" transform="rotate(133 881 792)" opacity="0.69"/><ellipse cx="854" cy="893" rx="7.3" ry="4.9" transform="rotate(47 854 893)" opacity="0.76"/><ellipse cx="925" cy="674" rx="8.7" ry="5.6" transform="rotate(31 925 674)" opacity="0.98"/><ellipse cx="915" cy="817" rx="7.2" ry="6.1" transform="rotate(80 915 817)" opacity="0.60"/><ellipse cx="923" cy="730" rx="6.9" ry="4.5" transform="rotate(92 923 730)" opacity="0.95"/><ellipse cx="922" cy="838" rx="7.5" ry="4.8" transform="rotate(107 922 838)" opacity="0.74"/><ellipse cx="885" cy="796" rx="5.6" ry="4.6" transform="rotate(41 885 796)" opacity="0.88"/><ellipse cx="893" cy="829" rx="6.3" ry="5.1" transform="rotate(102 893 829)" opacity="0.80"/><ellipse cx="872" cy="832" rx="7.4" ry="5.8" transform="rotate(68 872 832)" opacity="0.70"/><ellipse cx="873" cy="843" rx="5.1" ry="4.8" transform="rotate(5 873 843)" opacity="0.68"/><ellipse cx="863" cy="822" rx="8.0" ry="6.3" transform="rotate(95 863 822)" opacity="0.71"/><ellipse cx="902" cy="825" rx="7.8" ry="6.0" transform="rotate(62 902 825)" opacity="0.80"/><ellipse cx="876" cy="737" rx="9.3" ry="6.1" transform="rotate(131 876 737)" opacity="0.93"/><ellipse cx="844" cy="751" rx="7.1" ry="5.4" transform="rotate(147 844 751)" opacity="0.81"/><ellipse cx="887" cy="802" rx="8.1" ry="6.0" transform="rotate(163 887 802)" opacity="0.83"/><ellipse cx="940" cy="844" rx="5.5" ry="5.0" transform="rotate(101 940 844)" opacity="0.98"/><ellipse cx="937" cy="912" rx="6.2" ry="5.3" transform="rotate(159 937 912)" opacity="0.88"/><ellipse cx="918" cy="822" rx="8.7" ry="5.9" transform="rotate(50 918 822)" opacity="0.95"/><ellipse cx="957" cy="874" rx="9.2" ry="5.9" transform="rotate(95 957 874)" opacity="0.58"/><ellipse cx="942" cy="837" rx="7.5" ry="4.9" transform="rotate(168 942 837)" opacity="0.60"/><ellipse cx="921" cy="873" rx="5.0" ry="4.7" transform="rotate(60 921 873)" opacity="0.85"/><ellipse cx="818" cy="862" rx="8.0" ry="5.1" transform="rotate(168 818 862)" opacity="0.82"/><ellipse cx="969" cy="748" rx="5.9" ry="4.6" transform="rotate(116 969 748)" opacity="0.66"/><ellipse cx="831" cy="780" rx="6.7" ry="6.6" transform="rotate(16 831 780)" opacity="0.69"/><ellipse cx="900" cy="930" rx="7.1" ry="6.2" transform="rotate(44 900 930)" opacity="0.57"/><ellipse cx="904" cy="674" rx="7.4" ry="4.7" transform="rotate(175 904 674)" opacity="0.60"/><ellipse cx="861" cy="743" rx="7.8" ry="5.9" transform="rotate(49 861 743)" opacity="0.90"/><ellipse cx="788" cy="804" rx="5.3" ry="4.8" transform="rotate(175 788 804)" opacity="0.84"/><ellipse cx="885" cy="869" rx="10.1" ry="6.5" transform="rotate(151 885 869)" opacity="0.98"/><ellipse cx="940" cy="714" rx="7.9" ry="5.5" transform="rotate(150 940 714)" opacity="0.58"/><ellipse cx="884" cy="802" rx="5.4" ry="4.2" transform="rotate(161 884 802)" opacity="0.88"/><ellipse cx="940" cy="816" rx="8.2" ry="5.8" transform="rotate(66 940 816)" opacity="0.85"/><ellipse cx="861" cy="800" rx="9.4" ry="6.3" transform="rotate(83 861 800)" opacity="0.88"/><ellipse cx="893" cy="894" rx="6.1" ry="5.8" transform="rotate(1 893 894)" opacity="0.80"/><ellipse cx="839" cy="851" rx="5.7" ry="4.6" transform="rotate(125 839 851)" opacity="0.65"/><ellipse cx="952" cy="765" rx="5.5" ry="4.1" transform="rotate(132 952 765)" opacity="0.94"/><ellipse cx="833" cy="777" rx="6.8" ry="4.9" transform="rotate(10 833 777)" opacity="0.58"/><ellipse cx="820" cy="680" rx="8.5" ry="5.7" transform="rotate(173 820 680)" opacity="0.82"/><ellipse cx="945" cy="624" rx="7.1" ry="5.2" transform="rotate(115 945 624)" opacity="0.56"/><ellipse cx="929" cy="747" rx="7.4" ry="4.9" transform="rotate(112 929 747)" opacity="0.55"/><ellipse cx="955" cy="811" rx="9.9" ry="6.2" transform="rotate(83 955 811)" opacity="0.90"/><ellipse cx="923" cy="778" rx="4.9" ry="4.0" transform="rotate(179 923 778)" opacity="0.70"/><ellipse cx="837" cy="854" rx="6.9" ry="5.8" transform="rotate(71 837 854)" opacity="0.59"/><ellipse cx="933" cy="887" rx="6.1" ry="5.1" transform="rotate(176 933 887)" opacity="0.91"/><ellipse cx="900" cy="901" rx="5.4" ry="4.6" transform="rotate(161 900 901)" opacity="0.56"/><ellipse cx="857" cy="898" rx="7.1" ry="5.4" transform="rotate(12 857 898)" opacity="0.67"/><ellipse cx="846" cy="866" rx="8.7" ry="6.1" transform="rotate(107 846 866)" opacity="0.90"/><ellipse cx="941" cy="734" rx="6.0" ry="4.1" transform="rotate(151 941 734)" opacity="0.61"/><ellipse cx="978" cy="812" rx="6.1" ry="4.4" transform="rotate(109 978 812)" opacity="0.81"/><ellipse cx="980" cy="958" rx="8.5" ry="5.3" transform="rotate(69 980 958)" opacity="0.67"/><ellipse cx="956" cy="864" rx="5.5" ry="4.7" transform="rotate(109 956 864)" opacity="0.65"/><ellipse cx="837" cy="914" rx="9.7" ry="6.4" transform="rotate(166 837 914)" opacity="1.00"/><ellipse cx="873" cy="950" rx="4.4" ry="4.2" transform="rotate(18 873 950)" opacity="0.81"/><ellipse cx="905" cy="808" rx="5.9" ry="5.9" transform="rotate(143 905 808)" opacity="0.79"/><ellipse cx="991" cy="874" rx="7.8" ry="6.1" transform="rotate(5 991 874)" opacity="0.77"/><ellipse cx="870" cy="801" rx="7.6" ry="5.4" transform="rotate(21 870 801)" opacity="0.97"/><ellipse cx="858" cy="713" rx="6.5" ry="4.9" transform="rotate(74 858 713)" opacity="0.90"/><ellipse cx="827" cy="811" rx="5.7" ry="4.7" transform="rotate(139 827 811)" opacity="0.95"/><ellipse cx="667" cy="516" rx="7.0" ry="6.0" transform="rotate(37 667 516)" opacity="1.00"/><ellipse cx="460" cy="813" rx="9.6" ry="6.0" transform="rotate(112 460 813)" opacity="1.00"/><ellipse cx="451" cy="860" rx="7.4" ry="6.0" transform="rotate(16 451 860)" opacity="1.00"/><ellipse cx="478" cy="966" rx="6.1" ry="6.0" transform="rotate(106 478 966)" opacity="1.00"/><ellipse cx="460" cy="923" rx="8.6" ry="6.0" transform="rotate(111 460 923)" opacity="1.00"/><ellipse cx="828" cy="583" rx="8.4" ry="6.0" transform="rotate(101 828 583)" opacity="1.00"/><ellipse cx="800" cy="631" rx="6.3" ry="6.0" transform="rotate(121 800 631)" opacity="1.00"/><ellipse cx="846" cy="641" rx="8.5" ry="6.0" transform="rotate(77 846 641)" opacity="1.00"/><ellipse cx="764" cy="674" rx="9.5" ry="6.0" transform="rotate(87 764 674)" opacity="1.00"/><ellipse cx="690" cy="731" rx="6.6" ry="6.0" transform="rotate(92 690 731)" opacity="1.00"/><ellipse cx="745" cy="741" rx="7.3" ry="6.0" transform="rotate(30 745 741)" opacity="1.00"/><ellipse cx="791" cy="717" rx="9.2" ry="6.0" transform="rotate(32 791 717)" opacity="1.00"/><ellipse cx="699" cy="793" rx="8.6" ry="6.0" transform="rotate(31 699 793)" opacity="1.00"/><ellipse cx="759" cy="803" rx="7.9" ry="6.0" transform="rotate(179 759 803)" opacity="1.00"/><ellipse cx="699" cy="832" rx="6.3" ry="6.0" transform="rotate(155 699 832)" opacity="1.00"/><ellipse cx="782" cy="956" rx="6.0" ry="6.0" transform="rotate(176 782 956)" opacity="1.00"/><ellipse cx="570" cy="899" rx="9.3" ry="6.0" transform="rotate(81 570 899)" opacity="1.00"/><ellipse cx="552" cy="688" rx="8.3" ry="6.0" transform="rotate(83 552 688)" opacity="1.00"/></g><g id="cl_sc" fill="#2af22a"><ellipse cx="21" cy="945" rx="7.7" ry="5.7" transform="rotate(11 21 945)" opacity="0.79"/><ellipse cx="608" cy="617" rx="7.0" ry="6.1" transform="rotate(40 608 617)" opacity="0.45"/><ellipse cx="494" cy="423" rx="5.9" ry="4.9" transform="rotate(149 494 423)" opacity="0.78"/><ellipse cx="531" cy="119" rx="6.5" ry="4.3" transform="rotate(9 531 119)" opacity="0.60"/><ellipse cx="694" cy="243" rx="8.0" ry="5.6" transform="rotate(44 694 243)" opacity="0.72"/><ellipse cx="170" cy="948" rx="8.0" ry="6.0" transform="rotate(9 170 948)" opacity="0.76"/><ellipse cx="374" cy="894" rx="4.4" ry="4.3" transform="rotate(158 374 894)" opacity="0.45"/><ellipse cx="436" cy="611" rx="7.3" ry="5.5" transform="rotate(10 436 611)" opacity="0.35"/><ellipse cx="444" cy="796" rx="5.4" ry="4.7" transform="rotate(71 444 796)" opacity="0.71"/><ellipse cx="781" cy="23" rx="7.6" ry="5.3" transform="rotate(171 781 23)" opacity="0.57"/><ellipse cx="687" cy="235" rx="5.4" ry="4.6" transform="rotate(100 687 235)" opacity="0.54"/><ellipse cx="106" cy="686" rx="5.4" ry="5.0" transform="rotate(168 106 686)" opacity="0.32"/><ellipse cx="835" cy="866" rx="5.5" ry="5.0" transform="rotate(131 835 866)" opacity="0.79"/><ellipse cx="924" cy="220" rx="4.4" ry="4.2" transform="rotate(145 924 220)" opacity="0.36"/><ellipse cx="602" cy="477" rx="4.8" ry="4.4" transform="rotate(24 602 477)" opacity="0.62"/><ellipse cx="590" cy="638" rx="6.3" ry="5.8" transform="rotate(55 590 638)" opacity="0.71"/><ellipse cx="158" cy="492" rx="6.0" ry="4.3" transform="rotate(146 158 492)" opacity="0.73"/><ellipse cx="489" cy="896" rx="8.7" ry="5.9" transform="rotate(39 489 896)" opacity="0.71"/><ellipse cx="754" cy="474" rx="7.8" ry="6.2" transform="rotate(156 754 474)" opacity="0.44"/><ellipse cx="950" cy="747" rx="6.9" ry="6.0" transform="rotate(111 950 747)" opacity="0.76"/><ellipse cx="81" cy="670" rx="6.6" ry="6.1" transform="rotate(102 81 670)" opacity="0.55"/><ellipse cx="83" cy="463" rx="6.5" ry="4.4" transform="rotate(133 83 463)" opacity="0.51"/><ellipse cx="839" cy="459" rx="7.5" ry="5.1" transform="rotate(103 839 459)" opacity="0.33"/><ellipse cx="814" cy="606" rx="6.5" ry="5.9" transform="rotate(50 814 606)" opacity="0.58"/><ellipse cx="826" cy="582" rx="5.7" ry="5.5" transform="rotate(36 826 582)" opacity="0.62"/><ellipse cx="434" cy="830" rx="7.0" ry="6.1" transform="rotate(8 434 830)" opacity="0.60"/><ellipse cx="556" cy="413" rx="6.8" ry="6.1" transform="rotate(3 556 413)" opacity="0.40"/><ellipse cx="48" cy="795" rx="6.0" ry="5.9" transform="rotate(104 48 795)" opacity="0.38"/></g><g id="cl_top" fill="#2af22a"><ellipse cx="532" cy="48" rx="6.9" ry="6.0" transform="rotate(111 532 48)" opacity="1.00"/><ellipse cx="520" cy="78" rx="9.3" ry="6.0" transform="rotate(134 520 78)" opacity="1.00"/><ellipse cx="661" cy="93" rx="7.0" ry="6.0" transform="rotate(109 661 93)" opacity="1.00"/><ellipse cx="731" cy="53" rx="7.0" ry="6.0" transform="rotate(137 731 53)" opacity="1.00"/><ellipse cx="805" cy="46" rx="6.9" ry="6.0" transform="rotate(156 805 46)" opacity="1.00"/><ellipse cx="883" cy="21" rx="8.4" ry="6.0" transform="rotate(161 883 21)" opacity="1.00"/><ellipse cx="975" cy="96" rx="7.2" ry="6.0" transform="rotate(172 975 96)" opacity="1.00"/><ellipse cx="888" cy="91" rx="8.1" ry="6.0" transform="rotate(46 888 91)" opacity="1.00"/><ellipse cx="856" cy="110" rx="8.3" ry="6.0" transform="rotate(56 856 110)" opacity="1.00"/></g><radialGradient id="glow"><stop offset="0" stop-color="#28b028" stop-opacity="0.85"/><stop offset="0.55" stop-color="#1a801a" stop-opacity="0.45"/><stop offset="1" stop-color="#0a400a" stop-opacity="0"/></radialGradient><filter id="soft" x="-5%" y="-5%" width="110%" height="110%"><feGaussianBlur stdDeviation="2"/></filter><filter id="soft1" x="-5%" y="-5%" width="110%" height="110%"><feGaussianBlur stdDeviation="0.6"/></filter></defs>
<clipPath id="cAa"><rect x="30" y="84.5" width="308" height="307"/></clipPath>
<g clip-path="url(#cAa)">
<rect x="30" y="84.5" width="308" height="307" fill="#010901"/>
<ellipse cx="110.1" cy="316.3" rx="52.4" ry="70.6" fill="url(#glow)" opacity="0.50"/>
<ellipse cx="113.2" cy="313.2" rx="24.6" ry="36.8" fill="url(#glow)" opacity="0.31"/>
<ellipse cx="134.7" cy="365.4" rx="24.6" ry="30.7" fill="url(#glow)" opacity="0.25"/>
<ellipse cx="294.9" cy="145.9" rx="49.3" ry="55.3" fill="url(#glow)" opacity="0.10"/>
<ellipse cx="294.9" cy="336.2" rx="40.0" ry="43.0" fill="url(#glow)" opacity="0.20"/>
<ellipse cx="173.2" cy="222.7" rx="18.5" ry="15.4" fill="url(#glow)" opacity="0.17"/>
<g transform="translate(30,84.5) scale(0.30800,0.30700)" filter="url(#soft)">
<use href="#cl_big" opacity="0.62" transform="translate(50,-15)"/>
<use href="#cl_mid" opacity="0.55"/>
<use href="#cl_tr" opacity="0.35"/>
<use href="#cl_br" opacity="0.50"/>
<use href="#cl_sc" opacity="0.30"/>
</g></g>
<g fill="#33f533" filter="url(#soft1)">
<ellipse cx="234.1" cy="112.8" rx="2.8" ry="1.7" transform="rotate(29 234.1 112.8)" opacity="0.95"/>
<ellipse cx="255.7" cy="101.1" rx="2.8" ry="1.7" transform="rotate(64 255.7 101.1)" opacity="0.95"/>
<ellipse cx="278.9" cy="98.9" rx="2.0" ry="1.7" transform="rotate(79 278.9 98.9)" opacity="0.95"/>
<ellipse cx="301.2" cy="91.5" rx="3.0" ry="1.7" transform="rotate(157 301.2 91.5)" opacity="0.95"/>
<ellipse cx="250.5" cy="145.1" rx="2.0" ry="1.7" transform="rotate(21 250.5 145.1)" opacity="0.95"/>
<ellipse cx="238.6" cy="181.7" rx="2.6" ry="1.7" transform="rotate(97 238.6 181.7)" opacity="0.95"/>
<ellipse cx="262.5" cy="181.7" rx="2.0" ry="1.7" transform="rotate(85 262.5 181.7)" opacity="0.95"/>
<ellipse cx="279.6" cy="182.4" rx="2.0" ry="1.7" transform="rotate(100 279.6 182.4)" opacity="0.95"/>
<ellipse cx="293.8" cy="168.3" rx="2.0" ry="1.7" transform="rotate(143 293.8 168.3)" opacity="0.95"/>
<ellipse cx="287.8" cy="148.1" rx="2.0" ry="1.7" transform="rotate(108 287.8 148.1)" opacity="0.95"/>
<ellipse cx="272.9" cy="148.1" rx="2.0" ry="1.7" transform="rotate(58 272.9 148.1)" opacity="0.95"/>
<ellipse cx="295.3" cy="152.6" rx="2.0" ry="1.7" transform="rotate(172 295.3 152.6)" opacity="0.95"/>
<ellipse cx="325.1" cy="164.5" rx="2.0" ry="1.7" transform="rotate(108 325.1 164.5)" opacity="0.95"/>
<ellipse cx="313.2" cy="191.4" rx="2.0" ry="1.7" transform="rotate(49 313.2 191.4)" opacity="0.95"/>
<ellipse cx="325.1" cy="203.3" rx="2.0" ry="1.7" transform="rotate(99 325.1 203.3)" opacity="0.95"/>
<ellipse cx="173.0" cy="201.8" rx="2.0" ry="1.7" transform="rotate(156 173.0 201.8)" opacity="0.95"/>
<ellipse cx="193.9" cy="224.2" rx="2.6" ry="1.7" transform="rotate(8 193.9 224.2)" opacity="0.95"/>
<ellipse cx="202.8" cy="212.2" rx="2.0" ry="1.7" transform="rotate(117 202.8 212.2)" opacity="0.95"/>
<ellipse cx="171.2" cy="215.8" rx="2.4" ry="1.7" transform="rotate(88 171.2 215.8)" opacity="0.95"/>
<ellipse cx="175.6" cy="224.7" rx="2.4" ry="1.7" transform="rotate(52 175.6 224.7)" opacity="0.95"/>
<ellipse cx="168.0" cy="220.0" rx="2.0" ry="1.7" transform="rotate(29 168.0 220.0)" opacity="0.95"/>
<ellipse cx="178.0" cy="212.0" rx="2.0" ry="1.7" transform="rotate(42 178.0 212.0)" opacity="0.95"/>
<ellipse cx="149.5" cy="226.2" rx="2.0" ry="1.7" transform="rotate(79 149.5 226.2)" opacity="0.95"/>
<ellipse cx="126.4" cy="236.7" rx="2.0" ry="1.7" transform="rotate(76 126.4 236.7)" opacity="0.95"/>
<ellipse cx="165.2" cy="242.6" rx="2.0" ry="1.7" transform="rotate(108 165.2 242.6)" opacity="0.95"/>
<ellipse cx="151.8" cy="253.1" rx="2.0" ry="1.7" transform="rotate(49 151.8 253.1)" opacity="0.95"/>
<ellipse cx="160.0" cy="260.5" rx="2.0" ry="1.7" transform="rotate(112 160.0 260.5)" opacity="0.95"/>
<ellipse cx="178.6" cy="265.0" rx="2.0" ry="1.7" transform="rotate(85 178.6 265.0)" opacity="0.95"/>
<ellipse cx="195.0" cy="254.6" rx="2.0" ry="1.7" transform="rotate(143 195.0 254.6)" opacity="0.95"/>
<ellipse cx="102.6" cy="256.8" rx="2.4" ry="1.7" transform="rotate(145 102.6 256.8)" opacity="0.95"/>
<ellipse cx="113.0" cy="255.3" rx="2.0" ry="1.7" transform="rotate(43 113.0 255.3)" opacity="0.95"/>
<ellipse cx="83.2" cy="216.5" rx="3.0" ry="1.7" transform="rotate(176 83.2 216.5)" opacity="0.95"/>
<ellipse cx="87.6" cy="235.2" rx="3.0" ry="1.7" transform="rotate(98 87.6 235.2)" opacity="0.95"/>
<ellipse cx="67.5" cy="238.9" rx="2.0" ry="1.7" transform="rotate(60 67.5 238.9)" opacity="0.95"/>
<ellipse cx="62.3" cy="248.6" rx="2.0" ry="1.7" transform="rotate(46 62.3 248.6)" opacity="0.95"/>
<ellipse cx="56.3" cy="265.0" rx="2.0" ry="1.7" transform="rotate(128 56.3 265.0)" opacity="0.95"/>
<ellipse cx="34.0" cy="250.1" rx="2.6" ry="1.7" transform="rotate(79 34.0 250.1)" opacity="0.95"/>
<ellipse cx="77.2" cy="258.3" rx="2.0" ry="1.7" transform="rotate(123 77.2 258.3)" opacity="0.95"/>
<ellipse cx="111.5" cy="270.2" rx="2.0" ry="1.7" transform="rotate(46 111.5 270.2)" opacity="0.95"/>
<ellipse cx="130.9" cy="271.0" rx="2.0" ry="1.7" transform="rotate(155 130.9 271.0)" opacity="0.95"/>
<ellipse cx="139.8" cy="271.7" rx="2.0" ry="1.7" transform="rotate(48 139.8 271.7)" opacity="0.95"/>
<ellipse cx="150.3" cy="289.6" rx="2.4" ry="1.7" transform="rotate(157 150.3 289.6)" opacity="0.95"/>
<ellipse cx="129.4" cy="286.6" rx="2.0" ry="1.7" transform="rotate(79 129.4 286.6)" opacity="0.95"/>
<ellipse cx="117.5" cy="295.6" rx="2.4" ry="1.7" transform="rotate(72 117.5 295.6)" opacity="0.95"/>
<ellipse cx="132.4" cy="296.3" rx="2.0" ry="1.7" transform="rotate(104 132.4 296.3)" opacity="0.95"/>
<ellipse cx="154.8" cy="320.9" rx="2.0" ry="1.7" transform="rotate(94 154.8 320.9)" opacity="0.95"/>
<ellipse cx="169.7" cy="330.6" rx="2.0" ry="1.7" transform="rotate(99 169.7 330.6)" opacity="0.95"/>
<ellipse cx="236.8" cy="242.4" rx="2.0" ry="1.7" transform="rotate(101 236.8 242.4)" opacity="0.95"/>
<ellipse cx="195.5" cy="254.1" rx="2.0" ry="1.7" transform="rotate(171 195.5 254.1)" opacity="0.95"/>
<ellipse cx="206.7" cy="261.8" rx="2.0" ry="1.7" transform="rotate(134 206.7 261.8)" opacity="0.95"/>
<ellipse cx="199.8" cy="296.2" rx="2.6" ry="1.7" transform="rotate(17 199.8 296.2)" opacity="0.95"/>
<ellipse cx="264.3" cy="291.6" rx="2.6" ry="1.7" transform="rotate(178 264.3 291.6)" opacity="0.95"/>
<ellipse cx="278.1" cy="276.8" rx="2.0" ry="1.7" transform="rotate(3 278.1 276.8)" opacity="0.95"/>
<ellipse cx="285.8" cy="265.3" rx="2.0" ry="1.7" transform="rotate(9 285.8 265.3)" opacity="0.95"/>
<ellipse cx="290.1" cy="281.6" rx="2.0" ry="1.7" transform="rotate(147 290.1 281.6)" opacity="0.95"/>
<ellipse cx="303.0" cy="282.5" rx="2.0" ry="1.7" transform="rotate(50 303.0 282.5)" opacity="0.95"/>
<ellipse cx="276.3" cy="306.6" rx="2.0" ry="1.7" transform="rotate(5 276.3 306.6)" opacity="0.95"/>
<ellipse cx="242.8" cy="309.1" rx="2.4" ry="1.7" transform="rotate(32 242.8 309.1)" opacity="0.95"/>
<ellipse cx="260.0" cy="312.6" rx="2.4" ry="1.7" transform="rotate(89 260.0 312.6)" opacity="0.95"/>
<ellipse cx="246.2" cy="327.2" rx="2.4" ry="1.7" transform="rotate(152 246.2 327.2)" opacity="0.95"/>
<ellipse cx="263.4" cy="330.6" rx="2.0" ry="1.7" transform="rotate(4 263.4 330.6)" opacity="0.95"/>
<ellipse cx="244.5" cy="340.1" rx="2.0" ry="1.7" transform="rotate(30 244.5 340.1)" opacity="0.95"/>
<ellipse cx="263.4" cy="343.5" rx="2.0" ry="1.7" transform="rotate(2 263.4 343.5)" opacity="0.95"/>
<ellipse cx="266.0" cy="352.1" rx="2.0" ry="1.7" transform="rotate(10 266.0 352.1)" opacity="0.95"/>
<ellipse cx="278.9" cy="355.6" rx="2.0" ry="1.7" transform="rotate(57 278.9 355.6)" opacity="0.95"/>
<ellipse cx="206.7" cy="359.9" rx="2.8" ry="1.7" transform="rotate(88 206.7 359.9)" opacity="0.95"/>
<ellipse cx="270.3" cy="378.8" rx="2.0" ry="1.7" transform="rotate(174 270.3 378.8)" opacity="0.95"/>
<ellipse cx="302.1" cy="299.7" rx="2.4" ry="1.7" transform="rotate(117 302.1 299.7)" opacity="0.95"/>
<ellipse cx="331.4" cy="374.5" rx="2.0" ry="1.7" transform="rotate(154 331.4 374.5)" opacity="0.95"/>
<ellipse cx="325.4" cy="353.9" rx="2.0" ry="1.7" transform="rotate(106 325.4 353.9)" opacity="0.95"/>
<ellipse cx="155.3" cy="321.0" rx="2.0" ry="1.7" transform="rotate(164 155.3 321.0)" opacity="0.95"/>
<ellipse cx="170.2" cy="330.1" rx="2.0" ry="1.7" transform="rotate(121 170.2 330.1)" opacity="0.95"/>
<ellipse cx="172.0" cy="336.5" rx="2.0" ry="1.7" transform="rotate(43 172.0 336.5)" opacity="0.95"/>
<ellipse cx="166.8" cy="349.6" rx="2.8" ry="1.7" transform="rotate(67 166.8 349.6)" opacity="0.95"/>
<ellipse cx="171.4" cy="368.0" rx="2.4" ry="1.7" transform="rotate(86 171.4 368.0)" opacity="0.95"/>
<ellipse cx="180.0" cy="381.8" rx="2.4" ry="1.7" transform="rotate(20 180.0 381.8)" opacity="0.95"/>
<ellipse cx="140.4" cy="336.5" rx="2.0" ry="1.7" transform="rotate(166 140.4 336.5)" opacity="0.95"/>
<ellipse cx="147.3" cy="334.7" rx="2.0" ry="1.7" transform="rotate(87 147.3 334.7)" opacity="0.95"/>
<ellipse cx="286.7" cy="333.2" rx="2.0" ry="1.7" transform="rotate(36 286.7 333.2)" opacity="0.95"/>
<ellipse cx="291.8" cy="331.5" rx="2.0" ry="1.7" transform="rotate(88 291.8 331.5)" opacity="0.95"/>
<ellipse cx="300.4" cy="336.7" rx="2.0" ry="1.7" transform="rotate(145 300.4 336.7)" opacity="0.95"/>
<ellipse cx="307.3" cy="328.1" rx="2.0" ry="1.7" transform="rotate(49 307.3 328.1)" opacity="0.95"/>
<ellipse cx="314.2" cy="333.2" rx="2.0" ry="1.7" transform="rotate(106 314.2 333.2)" opacity="0.95"/>
<ellipse cx="300.4" cy="319.5" rx="2.0" ry="1.7" transform="rotate(16 300.4 319.5)" opacity="0.95"/>
<ellipse cx="310.8" cy="319.5" rx="2.0" ry="1.7" transform="rotate(43 310.8 319.5)" opacity="0.95"/>
<ellipse cx="290.1" cy="350.4" rx="2.0" ry="1.7" transform="rotate(34 290.1 350.4)" opacity="0.95"/>
<ellipse cx="300.4" cy="350.4" rx="2.0" ry="1.7" transform="rotate(91 300.4 350.4)" opacity="0.95"/>
<ellipse cx="310.8" cy="350.4" rx="2.0" ry="1.7" transform="rotate(124 310.8 350.4)" opacity="0.95"/>
<ellipse cx="295.3" cy="360.8" rx="2.0" ry="1.7" transform="rotate(41 295.3 360.8)" opacity="0.95"/>
<ellipse cx="303.9" cy="367.6" rx="2.0" ry="1.7" transform="rotate(124 303.9 367.6)" opacity="0.95"/>
<ellipse cx="317.6" cy="340.1" rx="2.0" ry="1.7" transform="rotate(105 317.6 340.1)" opacity="0.95"/>
<ellipse cx="322.8" cy="350.4" rx="2.0" ry="1.7" transform="rotate(135 322.8 350.4)" opacity="0.95"/>
</g>
<clipPath id="cb0"><rect x="357" y="108.5" width="290" height="278.5"/></clipPath>
<g clip-path="url(#cb0)">
<rect x="357" y="108.5" width="290" height="278.5" fill="#010901"/>
<ellipse cx="417.9" cy="322.9" rx="49.3" ry="64.1" fill="url(#glow)" opacity="0.80"/>
<ellipse cx="420.8" cy="320.2" rx="23.2" ry="33.4" fill="url(#glow)" opacity="0.50"/>
<ellipse cx="441.1" cy="367.5" rx="23.2" ry="27.9" fill="url(#glow)" opacity="0.40"/>
<ellipse cx="606.4" cy="164.2" rx="46.4" ry="50.1" fill="url(#glow)" opacity="0.18"/>
<ellipse cx="606.4" cy="336.9" rx="37.7" ry="39.0" fill="url(#glow)" opacity="0.34"/>
<ellipse cx="491.9" cy="233.8" rx="17.4" ry="13.9" fill="url(#glow)" opacity="0.27"/>
<g transform="translate(357,108.5) scale(0.29000,0.27850)" filter="url(#soft)">
<use href="#cl_big" opacity="1.00"/>
<use href="#cl_mid" opacity="0.90"/>
<use href="#cl_tr" opacity="0.60"/>
<use href="#cl_br" opacity="0.85"/>
<use href="#cl_sc" opacity="0.75"/>
<use href="#cl_top" opacity="0.90"/>
</g></g>
<clipPath id="cb1"><rect x="647" y="108.5" width="290.5" height="278.5"/></clipPath>
<g clip-path="url(#cb1)">
<rect x="647" y="108.5" width="290.5" height="278.5" fill="#010901"/>
<ellipse cx="708.0" cy="322.9" rx="49.4" ry="64.1" fill="url(#glow)" opacity="0.80"/>
<ellipse cx="710.9" cy="320.2" rx="23.2" ry="33.4" fill="url(#glow)" opacity="0.50"/>
<ellipse cx="731.2" cy="367.5" rx="23.2" ry="27.9" fill="url(#glow)" opacity="0.40"/>
<ellipse cx="896.8" cy="164.2" rx="46.5" ry="50.1" fill="url(#glow)" opacity="0.20"/>
<ellipse cx="896.8" cy="336.9" rx="37.8" ry="39.0" fill="url(#glow)" opacity="0.34"/>
<ellipse cx="782.1" cy="233.8" rx="17.4" ry="13.9" fill="url(#glow)" opacity="0.27"/>
<g transform="translate(647,108.5) scale(0.29050,0.27850)" filter="url(#soft)">
<use href="#cl_big" opacity="1.00"/>
<use href="#cl_mid" opacity="0.90"/>
<use href="#cl_tr" opacity="0.65"/>
<use href="#cl_br" opacity="0.85"/>
<use href="#cl_sc" opacity="0.75"/>
<use href="#cl_top" opacity="0.90"/>
</g></g>
<clipPath id="cb2"><rect x="937.5" y="108.5" width="289.79999999999995" height="278.5"/></clipPath>
<g clip-path="url(#cb2)">
<rect x="937.5" y="108.5" width="289.79999999999995" height="278.5" fill="#010901"/>
<ellipse cx="998.4" cy="322.9" rx="49.3" ry="64.1" fill="url(#glow)" opacity="0.80"/>
<ellipse cx="1001.3" cy="320.2" rx="23.2" ry="33.4" fill="url(#glow)" opacity="0.50"/>
<ellipse cx="1021.5" cy="367.5" rx="23.2" ry="27.9" fill="url(#glow)" opacity="0.40"/>
<ellipse cx="1186.7" cy="164.2" rx="46.4" ry="50.1" fill="url(#glow)" opacity="0.15"/>
<ellipse cx="1186.7" cy="336.9" rx="37.7" ry="39.0" fill="url(#glow)" opacity="0.30"/>
<ellipse cx="1072.3" cy="233.8" rx="17.4" ry="13.9" fill="url(#glow)" opacity="0.24"/>
<g transform="translate(937.5,108.5) scale(0.28980,0.27850)" filter="url(#soft)">
<use href="#cl_big" opacity="1.00"/>
<use href="#cl_mid" opacity="0.80"/>
<use href="#cl_tr" opacity="0.50"/>
<use href="#cl_br" opacity="0.75"/>
<use href="#cl_sc" opacity="0.65"/>
<use href="#cl_top" opacity="0.90"/>
</g></g>
<clipPath id="cb3"><rect x="1227.3" y="108.5" width="289.4000000000001" height="278.5"/></clipPath>
<g clip-path="url(#cb3)">
<rect x="1227.3" y="108.5" width="289.4000000000001" height="278.5" fill="#010901"/>
<ellipse cx="1288.1" cy="322.9" rx="49.2" ry="64.1" fill="url(#glow)" opacity="0.40"/>
<ellipse cx="1291.0" cy="320.2" rx="23.2" ry="33.4" fill="url(#glow)" opacity="0.25"/>
<ellipse cx="1311.2" cy="367.5" rx="23.2" ry="27.9" fill="url(#glow)" opacity="0.20"/>
<ellipse cx="1476.2" cy="164.2" rx="46.3" ry="50.1" fill="url(#glow)" opacity="0.22"/>
<ellipse cx="1476.2" cy="336.9" rx="37.6" ry="39.0" fill="url(#glow)" opacity="0.40"/>
<ellipse cx="1361.9" cy="233.8" rx="17.4" ry="13.9" fill="url(#glow)" opacity="0.30"/>
<g transform="translate(1227.3,108.5) scale(0.28940,0.27850)" filter="url(#soft)">
<use href="#cl_big" opacity="0.50"/>
<use href="#cl_mid" opacity="1.00"/>
<use href="#cl_tr" opacity="0.75"/>
<use href="#cl_br" opacity="1.00"/>
<use href="#cl_sc" opacity="0.75"/>
<use href="#cl_top" opacity="0.90"/>
</g></g>
<clipPath id="cb4"><rect x="1516.7" y="108.5" width="290.79999999999995" height="278.5"/></clipPath>
<g clip-path="url(#cb4)">
<rect x="1516.7" y="108.5" width="290.79999999999995" height="278.5" fill="#010901"/>
<ellipse cx="1577.8" cy="322.9" rx="49.4" ry="64.1" fill="url(#glow)" opacity="0.06"/>
<ellipse cx="1580.7" cy="320.2" rx="23.3" ry="33.4" fill="url(#glow)" opacity="0.04"/>
<ellipse cx="1601.0" cy="367.5" rx="23.3" ry="27.9" fill="url(#glow)" opacity="0.03"/>
<ellipse cx="1766.8" cy="164.2" rx="46.5" ry="50.1" fill="url(#glow)" opacity="0.30"/>
<ellipse cx="1766.8" cy="336.9" rx="37.8" ry="39.0" fill="url(#glow)" opacity="0.38"/>
<ellipse cx="1651.9" cy="233.8" rx="17.4" ry="13.9" fill="url(#glow)" opacity="0.27"/>
<g transform="translate(1516.7,108.5) scale(0.29080,0.27850)" filter="url(#soft)">
<use href="#cl_big" opacity="0.07"/>
<use href="#cl_mid" opacity="0.90"/>
<use href="#cl_tr" opacity="1.00"/>
<use href="#cl_br" opacity="0.95"/>
<use href="#cl_sc" opacity="0.55"/>
<use href="#cl_top" opacity="0.90"/>
</g></g>
<line x1="647" y1="108.5" x2="647" y2="387" stroke="#227e22" stroke-width="2"/>
<line x1="937.5" y1="108.5" x2="937.5" y2="387" stroke="#227e22" stroke-width="2"/>
<line x1="1227.3" y1="108.5" x2="1227.3" y2="387" stroke="#227e22" stroke-width="2"/>
<line x1="1516.7" y1="108.5" x2="1516.7" y2="387" stroke="#227e22" stroke-width="2"/>
<text x="365.5" y="147.7" font-size="36.5" fill="#f4f4f4" stroke="#f4f4f4" stroke-width="0.6" transform="translate(365.5,0) scale(0.955,1) translate(-365.5,0)">t=1</text>
<text x="655.5" y="147.7" font-size="36.5" fill="#f4f4f4" stroke="#f4f4f4" stroke-width="0.6" transform="translate(655.5,0) scale(0.955,1) translate(-655.5,0)">t=3</text>
<text x="946.0" y="147.7" font-size="36.5" fill="#f4f4f4" stroke="#f4f4f4" stroke-width="0.6" transform="translate(946.0,0) scale(0.955,1) translate(-946.0,0)">t=9</text>
<text x="1235.8" y="147.7" font-size="36.5" fill="#f4f4f4" stroke="#f4f4f4" stroke-width="0.6" transform="translate(1235.8,0) scale(0.955,1) translate(-1235.8,0)">t=21</text>
<text x="1525.2" y="147.7" font-size="36.5" fill="#f4f4f4" stroke="#f4f4f4" stroke-width="0.6" transform="translate(1525.2,0) scale(0.955,1) translate(-1525.2,0)">t=48</text>
<rect x="292.7" y="397.7" width="45.6" height="9.2" fill="#000"/>
<rect x="1771" y="395.7" width="36.4" height="5.3" fill="#000"/>
<text x="182.9" y="100.6" font-size="12" fill="#e8322c" stroke="#e8322c" stroke-width="0.35" text-anchor="middle">10</text>
<text x="250.5" y="100.6" font-size="12" fill="#e8322c" stroke="#e8322c" stroke-width="0.35" text-anchor="middle">9</text>
<text x="274.2" y="100.6" font-size="12" fill="#f2f2f2" stroke="#f2f2f2" stroke-width="0.35" text-anchor="middle">3</text>
<text x="227.2" y="113.1" font-size="12" fill="#e8322c" stroke="#e8322c" stroke-width="0.35" text-anchor="middle">1</text>
<text x="310.5" y="117.8" font-size="12" fill="#f2f2f2" stroke="#f2f2f2" stroke-width="0.35" text-anchor="middle">57</text>
<text x="321.8" y="112.7" font-size="12" fill="#f2f2f2" stroke="#f2f2f2" stroke-width="0.35" text-anchor="middle">8</text>
<text x="266.4" y="128.4" font-size="12" fill="#f2f2f2" stroke="#f2f2f2" stroke-width="0.35" text-anchor="middle">51</text>
<text x="286.3" y="128.4" font-size="12" fill="#f2f2f2" stroke="#f2f2f2" stroke-width="0.35" text-anchor="middle">52</text>
<text x="310.5" y="132.3" font-size="12" fill="#f2f2f2" stroke="#f2f2f2" stroke-width="0.35" text-anchor="middle">56</text>
<text x="326" y="128.4" font-size="12" fill="#e8322c" stroke="#e8322c" stroke-width="0.35" text-anchor="middle">58</text>
<text x="271.4" y="142.7" font-size="12" fill="#f2f2f2" stroke="#f2f2f2" stroke-width="0.35" text-anchor="middle">53</text>
<text x="286.2" y="142.7" font-size="12" fill="#f2f2f2" stroke="#f2f2f2" stroke-width="0.35" text-anchor="middle">54</text>
<text x="299.6" y="147.8" font-size="12" fill="#f2f2f2" stroke="#f2f2f2" stroke-width="0.35" text-anchor="middle">2</text>
<text x="310.5" y="142.7" font-size="12" fill="#f2f2f2" stroke="#f2f2f2" stroke-width="0.35" text-anchor="middle">55</text>
<text x="239" y="147.8" font-size="12" fill="#f2f2f2" stroke="#f2f2f2" stroke-width="0.35" text-anchor="middle">4</text>
<text x="177.3" y="193.4" font-size="12" fill="#f2f2f2" stroke="#f2f2f2" stroke-width="0.35" text-anchor="middle">12</text>
<text x="236" y="196.7" font-size="12" fill="#f2f2f2" stroke="#f2f2f2" stroke-width="0.35" text-anchor="middle">6</text>
<text x="262" y="192.7" font-size="12" fill="#f2f2f2" stroke="#f2f2f2" stroke-width="0.35" text-anchor="middle">7</text>
<text x="281.1" y="192.7" font-size="12" fill="#f2f2f2" stroke="#f2f2f2" stroke-width="0.35" text-anchor="middle">5</text>
<text x="249" y="247.0" font-size="12" fill="#f2f2f2" stroke="#f2f2f2" stroke-width="0.35" text-anchor="middle">11</text>
<text x="52.3" y="213.4" font-size="12" fill="#e8322c" stroke="#e8322c" stroke-width="0.35" text-anchor="middle">24</text>
<text x="52.3" y="262.6" font-size="12" fill="#e8322c" stroke="#e8322c" stroke-width="0.35" text-anchor="middle">20</text>
<text x="86.3" y="262.4" font-size="12" fill="#e03c78" stroke="#e03c78" stroke-width="0.35" text-anchor="middle">42</text>
<text x="100.7" y="254.3" font-size="12" fill="#e8322c" stroke="#e8322c" stroke-width="0.35" text-anchor="middle">22</text>
<text x="102.2" y="269.7" font-size="12" fill="#f2f2f2" stroke="#f2f2f2" stroke-width="0.35" text-anchor="middle">40</text>
<text x="140" y="257.0" font-size="12" fill="#f2f2f2" stroke="#f2f2f2" stroke-width="0.35" text-anchor="middle">50</text>
<text x="149.3" y="266.1" font-size="12" fill="#f2f2f2" stroke="#f2f2f2" stroke-width="0.35" text-anchor="middle">49</text>
<text x="162" y="271.3" font-size="12" fill="#f2f2f2" stroke="#f2f2f2" stroke-width="0.35" text-anchor="middle">18</text>
<text x="158.3" y="247.3" font-size="12" fill="#e8322c" stroke="#e8322c" stroke-width="0.35" text-anchor="middle">41</text>
<text x="101" y="286.3" font-size="12" fill="#e2502c" stroke="#e2502c" stroke-width="0.35" text-anchor="middle">23</text>
<text x="78.7" y="296.0" font-size="12" fill="#e2502c" stroke="#e2502c" stroke-width="0.35" text-anchor="middle">21</text>
<text x="79" y="306.6" font-size="12" fill="#e2502c" stroke="#e2502c" stroke-width="0.35" text-anchor="middle">59</text>
<text x="94" y="304.0" font-size="12" fill="#e2502c" stroke="#e2502c" stroke-width="0.35" text-anchor="middle">26</text>
<text x="86.6" y="313.7" font-size="12" fill="#e2502c" stroke="#e2502c" stroke-width="0.35" text-anchor="middle">61</text>
<text x="103" y="316.3" font-size="12" fill="#e2502c" stroke="#e2502c" stroke-width="0.35" text-anchor="middle">62</text>
<text x="86.8" y="322.8" font-size="12" fill="#e2502c" stroke="#e2502c" stroke-width="0.35" text-anchor="middle">60</text>
<text x="115.8" y="323.7" font-size="12" fill="#e2502c" stroke="#e2502c" stroke-width="0.35" text-anchor="middle">25</text>
<text x="88.7" y="332.0" font-size="12" fill="#e2502c" stroke="#e2502c" stroke-width="0.35" text-anchor="middle">63</text>
<text x="144.6" y="323.7" font-size="12" fill="#f2f2f2" stroke="#f2f2f2" stroke-width="0.35" text-anchor="middle">46</text>
<text x="162.2" y="321.9" font-size="12" fill="#e8322c" stroke="#e8322c" stroke-width="0.35" text-anchor="middle">15</text>
<text x="181.5" y="330.1" font-size="12" fill="#e8322c" stroke="#e8322c" stroke-width="0.35" text-anchor="middle">44</text>
<text x="142.5" y="333.0" font-size="12" fill="#e8322c" stroke="#e8322c" stroke-width="0.35" text-anchor="middle">43</text>
<text x="181.7" y="340.2" font-size="12" fill="#e8322c" stroke="#e8322c" stroke-width="0.35" text-anchor="middle">45</text>
<text x="78.8" y="344.9" font-size="12" fill="#e8322c" stroke="#e8322c" stroke-width="0.35" text-anchor="middle">64</text>
<text x="106" y="367.4" font-size="12" fill="#f2f2f2" stroke="#f2f2f2" stroke-width="0.35" text-anchor="middle">48</text>
<text x="143" y="353.5" font-size="12" fill="#e8322c" stroke="#e8322c" stroke-width="0.35" text-anchor="middle">17</text>
<text x="177.7" y="369.7" font-size="12" fill="#e8322c" stroke="#e8322c" stroke-width="0.35" text-anchor="middle">16</text>
<text x="192.8" y="389.8" font-size="12" fill="#e8322c" stroke="#e8322c" stroke-width="0.35" text-anchor="middle">19</text>
<text x="264.3" y="285.6" font-size="12" fill="#f2f2f2" stroke="#f2f2f2" stroke-width="0.35" text-anchor="middle">30</text>
<text x="311.8" y="300.1" font-size="12" fill="#e8322c" stroke="#e8322c" stroke-width="0.35" text-anchor="middle">47</text>
<text x="277.8" y="302.9" font-size="12" fill="#f2f2f2" stroke="#f2f2f2" stroke-width="0.35" text-anchor="middle">31</text>
<text x="235.4" y="308.1" font-size="12" fill="#f2f2f2" stroke="#f2f2f2" stroke-width="0.35" text-anchor="middle">27</text>
<text x="234.4" y="328.1" font-size="12" fill="#f2f2f2" stroke="#f2f2f2" stroke-width="0.35" text-anchor="middle">28</text>
<text x="259.4" y="325.9" font-size="12" fill="#f2f2f2" stroke="#f2f2f2" stroke-width="0.35" text-anchor="middle">36</text>
<text x="293.3" y="329.2" font-size="12" fill="#f2f2f2" stroke="#f2f2f2" stroke-width="0.35" text-anchor="middle">37</text>
<text x="234.9" y="348.1" font-size="12" fill="#f2f2f2" stroke="#f2f2f2" stroke-width="0.35" text-anchor="middle">29</text>
<text x="253.7" y="348.9" font-size="12" fill="#f2f2f2" stroke="#f2f2f2" stroke-width="0.35" text-anchor="middle">35</text>
<text x="259.3" y="358.9" font-size="12" fill="#f2f2f2" stroke="#f2f2f2" stroke-width="0.35" text-anchor="middle">33</text>
<text x="292.5" y="348.1" font-size="12" fill="#e03c78" stroke="#e03c78" stroke-width="0.35" text-anchor="middle">39</text>
<text x="307" y="353.7" font-size="12" fill="#f2f2f2" stroke="#f2f2f2" stroke-width="0.35" text-anchor="middle">38</text>
<text x="216.5" y="369.0" font-size="12" fill="#e8322c" stroke="#e8322c" stroke-width="0.35" text-anchor="middle">14</text>
<text x="280.3" y="390.2" font-size="12" fill="#f2f2f2" stroke="#f2f2f2" stroke-width="0.35" text-anchor="middle">32</text>
<text x="45.9" y="121.4" font-size="40" fill="#ffffff" stroke="#ffffff" stroke-width="0.9" textLength="124.5" lengthAdjust="spacingAndGlyphs">Cluster 1</text>
<text x="46.5" y="165.6" font-size="40" fill="#ff0000" stroke="#ff0000" stroke-width="0.9" textLength="128.5" lengthAdjust="spacingAndGlyphs">Cluster 2</text>
</svg>
</body></html>
